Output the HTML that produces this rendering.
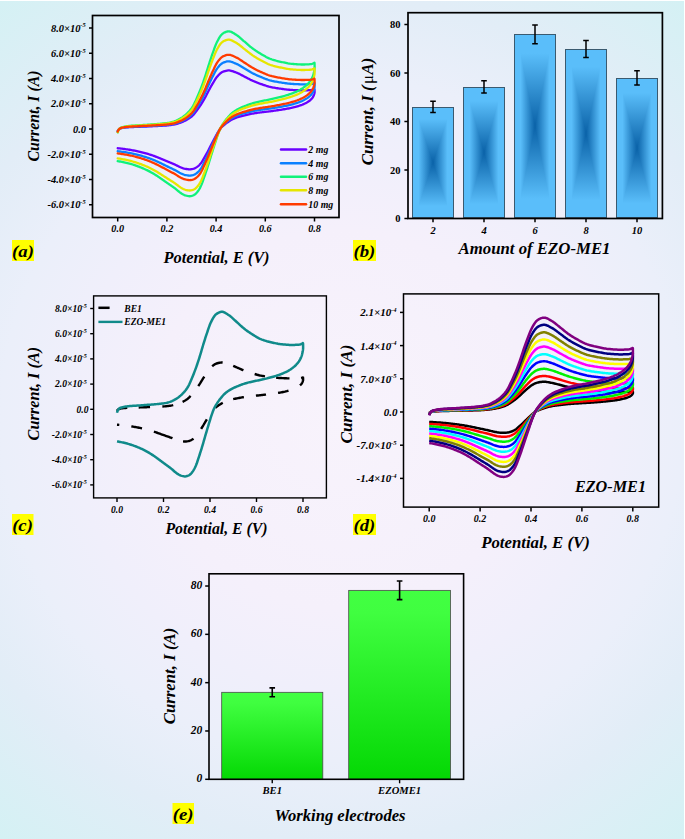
<!DOCTYPE html>
<html><head><meta charset="utf-8"><style>
html,body{margin:0;padding:0;}
.pb{position:absolute;box-sizing:border-box;border:0.9px solid #3a5a70;
background:linear-gradient(to right,#5abefa 0%,#5abefa 14%,#0a62a8 50%,#5abefa 86%,#5abefa 100%),linear-gradient(to bottom,#5abefa 0%,#5abefa 10%,#0a62a8 50%,#5abefa 90%,#5abefa 100%);
background-blend-mode:lighten;}
body{width:685px;height:839px;overflow:hidden;position:relative;
background:radial-gradient(circle farthest-corner at 50% 50%, #f8f3fc 0%, #f5f0fb 35%, #f0effb 50%, #ebeffa 63%, #e2edf7 78%, #d4f1f4 100%);}
#frame{position:absolute;left:0;top:0;width:684px;height:838px;border-top:1px solid #fff;border-right:1px solid #fff;}
svg{position:absolute;left:0;top:0;}
text{font-family:"Liberation Serif",serif;font-weight:bold;fill:#000;}
</style></head><body><div id="frame"></div><div class="pb" style="left:412.30px;top:106.95px;width:41.40px;height:111.55px"></div><div class="pb" style="left:463.30px;top:86.82px;width:41.40px;height:131.68px"></div><div class="pb" style="left:514.30px;top:34.44px;width:41.40px;height:184.06px"></div><div class="pb" style="left:565.30px;top:48.99px;width:41.40px;height:169.51px"></div><div class="pb" style="left:616.30px;top:77.85px;width:41.40px;height:140.65px"></div>
<svg width="685" height="839" viewBox="0 0 685 839">
<defs>
<linearGradient id="gG" x1="0" y1="0" x2="0" y2="1"><stop offset="0" stop-color="#42ff42"/><stop offset="0.12" stop-color="#40fe40"/><stop offset="1" stop-color="#04d804"/></linearGradient>
</defs>
<path d="M117.70,131.05 L118.00,130.39 L118.45,129.78 L118.99,129.24 L119.71,128.73 L120.58,128.32 L121.54,128.07 L122.61,127.88 L123.71,127.73 L124.78,127.59 L125.85,127.46 L126.94,127.35 L128.02,127.25 L129.11,127.18 L130.20,127.12 L131.29,127.06 L132.38,127.02 L133.48,126.98 L134.57,126.94 L135.67,126.90 L136.76,126.86 L137.86,126.81 L138.95,126.77 L140.05,126.73 L141.14,126.69 L142.23,126.65 L143.33,126.61 L144.42,126.57 L145.52,126.52 L146.61,126.48 L147.70,126.43 L148.80,126.39 L149.89,126.34 L150.99,126.29 L152.08,126.25 L153.18,126.20 L154.27,126.15 L155.37,126.11 L156.47,126.06 L157.56,126.01 L158.66,125.95 L159.75,125.90 L160.84,125.84 L161.93,125.77 L163.02,125.71 L164.11,125.63 L165.19,125.56 L166.27,125.48 L167.35,125.39 L168.44,125.28 L169.52,125.16 L170.60,125.02 L171.67,124.87 L172.73,124.70 L173.78,124.52 L174.81,124.33 L175.83,124.09 L176.84,123.83 L177.84,123.53 L178.82,123.23 L179.77,122.91 L180.71,122.58 L181.64,122.23 L182.56,121.86 L183.46,121.47 L184.34,121.07 L185.20,120.66 L186.04,120.23 L186.84,119.80 L187.62,119.35 L188.38,118.88 L189.13,118.39 L189.86,117.89 L190.57,117.37 L191.24,116.84 L191.88,116.31 L192.48,115.77 L193.04,115.22 L193.57,114.65 L194.08,114.07 L194.56,113.48 L195.04,112.88 L195.50,112.28 L195.95,111.67 L196.39,111.07 L196.84,110.47 L197.29,109.87 L197.73,109.27 L198.17,108.66 L198.60,108.06 L199.02,107.45 L199.44,106.84 L199.86,106.23 L200.26,105.62 L200.67,105.01 L201.06,104.40 L201.45,103.79 L201.84,103.17 L202.22,102.55 L202.59,101.94 L202.96,101.32 L203.32,100.70 L203.68,100.08 L204.04,99.45 L204.39,98.83 L204.74,98.21 L205.08,97.58 L205.42,96.96 L205.76,96.33 L206.10,95.71 L206.42,95.08 L206.75,94.45 L207.07,93.82 L207.39,93.20 L207.71,92.57 L208.03,91.94 L208.36,91.31 L208.69,90.69 L209.03,90.06 L209.37,89.44 L209.70,88.81 L210.05,88.19 L210.39,87.56 L210.73,86.94 L211.08,86.31 L211.43,85.69 L211.79,85.07 L212.15,84.45 L212.52,83.83 L212.89,83.21 L213.26,82.59 L213.63,81.97 L213.99,81.34 L214.36,80.72 L214.74,80.09 L215.12,79.47 L215.52,78.86 L215.93,78.25 L216.37,77.65 L216.82,77.06 L217.30,76.48 L217.81,75.90 L218.35,75.30 L218.92,74.69 L219.52,74.09 L220.15,73.51 L220.82,72.96 L221.52,72.47 L222.26,72.04 L223.05,71.69 L223.93,71.36 L224.94,71.05 L226.01,70.77 L227.11,70.55 L228.18,70.43 L229.20,70.44 L230.22,70.57 L231.24,70.79 L232.26,71.09 L233.26,71.43 L234.25,71.80 L235.21,72.17 L236.15,72.51 L237.05,72.86 L237.93,73.24 L238.79,73.64 L239.63,74.06 L240.47,74.50 L241.30,74.94 L242.12,75.38 L242.95,75.83 L243.78,76.26 L244.62,76.69 L245.46,77.11 L246.29,77.54 L247.12,77.98 L247.94,78.41 L248.77,78.84 L249.60,79.27 L250.44,79.70 L251.29,80.11 L252.15,80.51 L253.02,80.91 L253.91,81.29 L254.80,81.67 L255.71,82.04 L256.62,82.40 L257.55,82.76 L258.48,83.11 L259.41,83.46 L260.35,83.80 L261.29,84.13 L262.24,84.46 L263.19,84.80 L264.15,85.13 L265.11,85.46 L266.08,85.77 L267.05,86.08 L268.03,86.37 L269.03,86.65 L270.03,86.90 L271.04,87.13 L272.06,87.34 L273.10,87.54 L274.15,87.73 L275.21,87.91 L276.28,88.08 L277.35,88.25 L278.42,88.40 L279.49,88.55 L280.56,88.70 L281.63,88.84 L282.70,88.99 L283.77,89.13 L284.84,89.27 L285.92,89.40 L287.00,89.53 L288.08,89.64 L289.16,89.75 L290.25,89.84 L291.33,89.91 L292.42,89.97 L293.51,90.03 L294.60,90.09 L295.69,90.14 L296.79,90.19 L297.89,90.24 L298.98,90.28 L300.08,90.31 L301.17,90.33 L302.27,90.34 L303.37,90.34 L304.47,90.33 L305.58,90.31 L306.70,90.28 L307.80,90.25 L308.89,90.21 L309.97,90.16 L311.03,90.10 L312.25,89.90 L313.52,89.54 L314.38,89.26 L314.53,89.32 L314.57,89.85 L314.60,90.66 L314.62,91.51 L314.62,92.22 L314.55,92.88 L314.41,93.53 L314.21,94.19 L313.99,94.84 L313.74,95.48 L313.48,96.11 L313.17,96.73 L312.78,97.35 L312.34,97.97 L311.84,98.56 L311.32,99.14 L310.78,99.69 L310.17,100.23 L309.50,100.76 L308.79,101.28 L308.03,101.77 L307.26,102.25 L306.46,102.70 L305.66,103.12 L304.83,103.53 L303.96,103.93 L303.06,104.32 L302.14,104.70 L301.20,105.06 L300.25,105.40 L299.29,105.73 L298.33,106.04 L297.36,106.33 L296.39,106.61 L295.39,106.88 L294.38,107.14 L293.36,107.39 L292.33,107.63 L291.29,107.86 L290.25,108.08 L289.21,108.29 L288.17,108.50 L287.13,108.70 L286.09,108.89 L285.04,109.07 L283.99,109.25 L282.93,109.43 L281.87,109.60 L280.81,109.77 L279.74,109.93 L278.68,110.09 L277.61,110.25 L276.54,110.40 L275.48,110.56 L274.41,110.71 L273.34,110.86 L272.28,111.01 L271.20,111.14 L270.13,111.28 L269.05,111.41 L267.97,111.54 L266.90,111.66 L265.82,111.78 L264.74,111.91 L263.66,112.03 L262.58,112.16 L261.51,112.29 L260.43,112.42 L259.36,112.55 L258.29,112.70 L257.23,112.84 L256.16,113.00 L255.11,113.16 L254.06,113.33 L253.01,113.52 L251.96,113.71 L250.91,113.92 L249.87,114.13 L248.84,114.35 L247.80,114.57 L246.77,114.80 L245.75,115.03 L244.73,115.27 L243.71,115.51 L242.68,115.76 L241.67,116.01 L240.66,116.28 L239.67,116.56 L238.69,116.85 L237.74,117.16 L236.78,117.48 L235.84,117.83 L234.91,118.19 L234.00,118.57 L233.12,118.96 L232.27,119.36 L231.45,119.78 L230.66,120.23 L229.89,120.70 L229.14,121.19 L228.41,121.69 L227.69,122.19 L226.98,122.69 L226.29,123.20 L225.61,123.72 L224.95,124.24 L224.30,124.77 L223.68,125.31 L223.07,125.86 L222.46,126.41 L221.88,126.97 L221.31,127.53 L220.79,128.11 L220.30,128.69 L219.85,129.29 L219.43,129.90 L219.02,130.51 L218.63,131.13 L218.25,131.74 L217.87,132.36 L217.51,132.98 L217.15,133.60 L216.80,134.22 L216.46,134.85 L216.12,135.47 L215.78,136.10 L215.44,136.72 L215.11,137.35 L214.77,137.97 L214.43,138.60 L214.10,139.23 L213.77,139.85 L213.43,140.48 L213.11,141.11 L212.78,141.73 L212.45,142.36 L212.13,142.99 L211.80,143.62 L211.48,144.24 L211.15,144.87 L210.83,145.50 L210.51,146.13 L210.19,146.76 L209.87,147.39 L209.56,148.02 L209.24,148.64 L208.92,149.27 L208.60,149.90 L208.28,150.53 L207.95,151.16 L207.61,151.78 L207.28,152.41 L206.94,153.03 L206.59,153.66 L206.25,154.28 L205.90,154.90 L205.55,155.53 L205.20,156.15 L204.84,156.77 L204.48,157.39 L204.11,158.01 L203.76,158.63 L203.40,159.26 L203.05,159.88 L202.69,160.51 L202.32,161.13 L201.93,161.74 L201.52,162.35 L201.09,162.95 L200.63,163.54 L200.14,164.13 L199.61,164.72 L199.04,165.29 L198.44,165.84 L197.81,166.37 L197.13,166.88 L196.39,167.40 L195.60,167.90 L194.76,168.32 L193.86,168.63 L192.88,168.88 L191.81,169.10 L190.71,169.26 L189.62,169.30 L188.54,169.25 L187.44,169.14 L186.35,168.99 L185.31,168.83 L184.30,168.61 L183.31,168.32 L182.35,167.97 L181.41,167.62 L180.50,167.26 L179.61,166.88 L178.76,166.47 L177.91,166.05 L177.07,165.62 L176.23,165.19 L175.37,164.78 L174.50,164.39 L173.61,164.00 L172.72,163.62 L171.82,163.24 L170.92,162.87 L170.01,162.50 L169.10,162.13 L168.20,161.76 L167.30,161.38 L166.40,161.01 L165.50,160.63 L164.61,160.25 L163.72,159.86 L162.82,159.48 L161.93,159.10 L161.03,158.72 L160.13,158.34 L159.23,157.97 L158.32,157.61 L157.40,157.25 L156.48,156.90 L155.55,156.55 L154.62,156.20 L153.68,155.86 L152.74,155.52 L151.79,155.19 L150.83,154.86 L149.87,154.55 L148.90,154.24 L147.93,153.95 L146.95,153.66 L145.96,153.38 L144.96,153.11 L143.96,152.84 L142.95,152.57 L141.94,152.32 L140.92,152.07 L139.90,151.83 L138.87,151.59 L137.85,151.36 L136.82,151.14 L135.79,150.92 L134.75,150.71 L133.71,150.50 L132.66,150.30 L131.61,150.11 L130.56,149.93 L129.50,149.75 L128.44,149.59 L127.38,149.44 L126.32,149.28 L125.25,149.13 L124.18,148.99 L123.11,148.85 L122.03,148.72 L120.95,148.60 L119.87,148.48 L118.79,148.37 L117.70,148.27" stroke="#6a00ff" stroke-width="2.3" fill="none" stroke-linejoin="round" stroke-linecap="round"/>
<path d="M117.70,131.37 L118.00,130.60 L118.45,129.91 L118.99,129.28 L119.71,128.68 L120.58,128.22 L121.54,127.93 L122.61,127.71 L123.71,127.53 L124.78,127.37 L125.85,127.23 L126.94,127.09 L128.02,126.98 L129.11,126.90 L130.20,126.82 L131.29,126.76 L132.38,126.71 L133.48,126.66 L134.57,126.62 L135.67,126.57 L136.76,126.52 L137.86,126.47 L138.95,126.42 L140.05,126.38 L141.14,126.33 L142.23,126.28 L143.33,126.24 L144.42,126.19 L145.52,126.14 L146.61,126.09 L147.70,126.04 L148.80,125.98 L149.89,125.93 L150.99,125.87 L152.08,125.82 L153.18,125.77 L154.27,125.71 L155.37,125.66 L156.47,125.60 L157.56,125.54 L158.66,125.48 L159.75,125.41 L160.84,125.34 L161.93,125.27 L163.02,125.19 L164.11,125.11 L165.19,125.02 L166.27,124.93 L167.35,124.83 L168.44,124.71 L169.52,124.57 L170.60,124.41 L171.67,124.23 L172.73,124.04 L173.78,123.83 L174.81,123.60 L175.83,123.33 L176.84,123.02 L177.84,122.69 L178.82,122.33 L179.77,121.96 L180.71,121.58 L181.64,121.18 L182.56,120.75 L183.46,120.31 L184.34,119.84 L185.20,119.36 L186.04,118.87 L186.84,118.37 L187.62,117.85 L188.38,117.31 L189.13,116.74 L189.86,116.16 L190.57,115.57 L191.24,114.96 L191.88,114.34 L192.48,113.72 L193.04,113.08 L193.57,112.42 L194.08,111.75 L194.56,111.07 L195.04,110.38 L195.50,109.68 L195.95,108.98 L196.39,108.28 L196.84,107.59 L197.29,106.90 L197.73,106.20 L198.17,105.51 L198.60,104.81 L199.02,104.11 L199.44,103.41 L199.86,102.70 L200.26,102.00 L200.67,101.29 L201.06,100.58 L201.45,99.87 L201.84,99.16 L202.22,98.45 L202.59,97.74 L202.96,97.02 L203.32,96.31 L203.68,95.59 L204.04,94.87 L204.39,94.15 L204.74,93.43 L205.08,92.71 L205.42,91.99 L205.76,91.27 L206.10,90.54 L206.42,89.82 L206.75,89.09 L207.07,88.37 L207.39,87.64 L207.71,86.91 L208.03,86.19 L208.36,85.46 L208.69,84.74 L209.03,84.02 L209.37,83.30 L209.70,82.57 L210.05,81.85 L210.39,81.13 L210.73,80.41 L211.08,79.69 L211.43,78.97 L211.79,78.25 L212.15,77.54 L212.52,76.82 L212.89,76.11 L213.26,75.39 L213.63,74.67 L213.99,73.95 L214.36,73.23 L214.74,72.51 L215.12,71.79 L215.52,71.08 L215.93,70.37 L216.37,69.68 L216.82,69.00 L217.30,68.33 L217.81,67.66 L218.35,66.97 L218.92,66.26 L219.52,65.57 L220.15,64.90 L220.82,64.27 L221.52,63.70 L222.26,63.20 L223.05,62.79 L223.93,62.42 L224.94,62.05 L226.01,61.73 L227.11,61.48 L228.18,61.35 L229.20,61.35 L230.22,61.50 L231.24,61.76 L232.26,62.10 L233.26,62.50 L234.25,62.93 L235.21,63.35 L236.15,63.75 L237.05,64.15 L237.93,64.59 L238.79,65.05 L239.63,65.54 L240.47,66.04 L241.30,66.55 L242.12,67.06 L242.95,67.58 L243.78,68.08 L244.62,68.57 L245.46,69.06 L246.29,69.56 L247.12,70.06 L247.94,70.56 L248.77,71.06 L249.60,71.56 L250.44,72.05 L251.29,72.52 L252.15,72.99 L253.02,73.44 L253.91,73.89 L254.80,74.32 L255.71,74.75 L256.62,75.17 L257.55,75.59 L258.48,75.99 L259.41,76.39 L260.35,76.78 L261.29,77.17 L262.24,77.55 L263.19,77.94 L264.15,78.32 L265.11,78.70 L266.08,79.07 L267.05,79.42 L268.03,79.76 L269.03,80.08 L270.03,80.37 L271.04,80.63 L272.06,80.88 L273.10,81.11 L274.15,81.33 L275.21,81.53 L276.28,81.73 L277.35,81.92 L278.42,82.10 L279.49,82.28 L280.56,82.44 L281.63,82.61 L282.70,82.78 L283.77,82.94 L284.84,83.10 L285.92,83.26 L287.00,83.40 L288.08,83.54 L289.16,83.66 L290.25,83.76 L291.33,83.84 L292.42,83.92 L293.51,83.98 L294.60,84.05 L295.69,84.11 L296.79,84.17 L297.89,84.22 L298.98,84.27 L300.08,84.30 L301.17,84.33 L302.27,84.34 L303.37,84.34 L304.47,84.33 L305.58,84.31 L306.70,84.28 L307.80,84.24 L308.89,84.19 L309.97,84.13 L311.03,84.07 L312.25,83.83 L313.52,83.42 L314.38,83.09 L314.53,83.16 L314.57,83.77 L314.60,84.71 L314.62,85.70 L314.62,86.51 L314.55,87.27 L314.41,88.03 L314.21,88.78 L313.99,89.53 L313.74,90.27 L313.48,91.00 L313.17,91.72 L312.78,92.44 L312.34,93.15 L311.84,93.84 L311.32,94.51 L310.78,95.14 L310.17,95.77 L309.50,96.38 L308.79,96.97 L308.03,97.55 L307.26,98.09 L306.46,98.61 L305.66,99.11 L304.83,99.58 L303.96,100.05 L303.06,100.49 L302.14,100.93 L301.20,101.34 L300.25,101.74 L299.29,102.12 L298.33,102.48 L297.36,102.82 L296.39,103.14 L295.39,103.45 L294.38,103.75 L293.36,104.04 L292.33,104.31 L291.29,104.58 L290.25,104.83 L289.21,105.08 L288.17,105.32 L287.13,105.55 L286.09,105.77 L285.04,105.98 L283.99,106.19 L282.93,106.39 L281.87,106.59 L280.81,106.78 L279.74,106.97 L278.68,107.16 L277.61,107.34 L276.54,107.52 L275.48,107.70 L274.41,107.87 L273.34,108.05 L272.28,108.21 L271.20,108.37 L270.13,108.53 L269.05,108.68 L267.97,108.83 L266.90,108.97 L265.82,109.11 L264.74,109.26 L263.66,109.40 L262.58,109.54 L261.51,109.69 L260.43,109.84 L259.36,110.00 L258.29,110.17 L257.23,110.34 L256.16,110.51 L255.11,110.70 L254.06,110.90 L253.01,111.12 L251.96,111.34 L250.91,111.58 L249.87,111.82 L248.84,112.07 L247.80,112.33 L246.77,112.60 L245.75,112.86 L244.73,113.14 L243.71,113.41 L242.68,113.70 L241.67,114.00 L240.66,114.30 L239.67,114.63 L238.69,114.96 L237.74,115.32 L236.78,115.70 L235.84,116.09 L234.91,116.51 L234.00,116.95 L233.12,117.40 L232.27,117.87 L231.45,118.35 L230.66,118.87 L229.89,119.42 L229.14,119.98 L228.41,120.55 L227.69,121.13 L226.98,121.71 L226.29,122.30 L225.61,122.89 L224.95,123.50 L224.30,124.12 L223.68,124.74 L223.07,125.37 L222.46,126.01 L221.88,126.65 L221.31,127.31 L220.79,127.97 L220.30,128.65 L219.85,129.33 L219.43,130.04 L219.02,130.74 L218.63,131.46 L218.25,132.17 L217.87,132.88 L217.51,133.59 L217.15,134.31 L216.80,135.03 L216.46,135.75 L216.12,136.48 L215.78,137.20 L215.44,137.92 L215.11,138.64 L214.77,139.37 L214.43,140.09 L214.10,140.81 L213.77,141.54 L213.43,142.26 L213.11,142.98 L212.78,143.71 L212.45,144.43 L212.13,145.16 L211.80,145.88 L211.48,146.61 L211.15,147.33 L210.83,148.06 L210.51,148.79 L210.19,149.51 L209.87,150.24 L209.56,150.97 L209.24,151.69 L208.92,152.42 L208.60,153.14 L208.28,153.87 L207.95,154.59 L207.61,155.32 L207.28,156.04 L206.94,156.76 L206.59,157.48 L206.25,158.20 L205.90,158.92 L205.55,159.64 L205.20,160.36 L204.84,161.08 L204.48,161.80 L204.11,162.51 L203.76,163.23 L203.40,163.95 L203.05,164.68 L202.69,165.40 L202.32,166.12 L201.93,166.83 L201.52,167.53 L201.09,168.22 L200.63,168.90 L200.14,169.58 L199.61,170.26 L199.04,170.92 L198.44,171.56 L197.81,172.17 L197.13,172.76 L196.39,173.36 L195.60,173.93 L194.76,174.42 L193.86,174.78 L192.88,175.07 L191.81,175.32 L190.71,175.50 L189.62,175.56 L188.54,175.50 L187.44,175.37 L186.35,175.20 L185.31,175.01 L184.30,174.76 L183.31,174.42 L182.35,174.02 L181.41,173.61 L180.50,173.20 L179.61,172.76 L178.76,172.29 L177.91,171.80 L177.07,171.30 L176.23,170.81 L175.37,170.33 L174.50,169.88 L173.61,169.43 L172.72,168.99 L171.82,168.56 L170.92,168.13 L170.01,167.70 L169.10,167.27 L168.20,166.84 L167.30,166.41 L166.40,165.97 L165.50,165.54 L164.61,165.10 L163.72,164.65 L162.82,164.21 L161.93,163.77 L161.03,163.33 L160.13,162.90 L159.23,162.47 L158.32,162.05 L157.40,161.63 L156.48,161.23 L155.55,160.82 L154.62,160.42 L153.68,160.03 L152.74,159.64 L151.79,159.25 L150.83,158.88 L149.87,158.51 L148.90,158.16 L147.93,157.82 L146.95,157.49 L145.96,157.16 L144.96,156.85 L143.96,156.54 L142.95,156.23 L141.94,155.94 L140.92,155.65 L139.90,155.37 L138.87,155.10 L137.85,154.83 L136.82,154.58 L135.79,154.32 L134.75,154.08 L133.71,153.84 L132.66,153.61 L131.61,153.38 L130.56,153.17 L129.50,152.97 L128.44,152.79 L127.38,152.61 L126.32,152.43 L125.25,152.26 L124.18,152.09 L123.11,151.94 L122.03,151.78 L120.95,151.64 L119.87,151.51 L118.79,151.38 L117.70,151.26" stroke="#0a80ff" stroke-width="2.3" fill="none" stroke-linejoin="round" stroke-linecap="round"/>
<path d="M117.70,132.42 L118.00,131.31 L118.45,130.31 L118.99,129.40 L119.71,128.54 L120.58,127.87 L121.54,127.45 L122.61,127.14 L123.71,126.88 L124.78,126.65 L125.85,126.44 L126.94,126.25 L128.02,126.09 L129.11,125.96 L130.20,125.86 L131.29,125.77 L132.38,125.69 L133.48,125.62 L134.57,125.56 L135.67,125.49 L136.76,125.42 L137.86,125.35 L138.95,125.28 L140.05,125.21 L141.14,125.14 L142.23,125.08 L143.33,125.01 L144.42,124.94 L145.52,124.87 L146.61,124.80 L147.70,124.72 L148.80,124.64 L149.89,124.56 L150.99,124.48 L152.08,124.41 L153.18,124.33 L154.27,124.25 L155.37,124.17 L156.47,124.09 L157.56,124.00 L158.66,123.92 L159.75,123.82 L160.84,123.72 L161.93,123.62 L163.02,123.50 L164.11,123.39 L165.19,123.26 L166.27,123.12 L167.35,122.98 L168.44,122.80 L169.52,122.60 L170.60,122.37 L171.67,122.11 L172.73,121.83 L173.78,121.53 L174.81,121.20 L175.83,120.81 L176.84,120.37 L177.84,119.88 L178.82,119.37 L179.77,118.83 L180.71,118.29 L181.64,117.70 L182.56,117.09 L183.46,116.44 L184.34,115.78 L185.20,115.08 L186.04,114.37 L186.84,113.65 L187.62,112.90 L188.38,112.11 L189.13,111.30 L189.86,110.46 L190.57,109.60 L191.24,108.72 L191.88,107.83 L192.48,106.93 L193.04,106.01 L193.57,105.06 L194.08,104.10 L194.56,103.11 L195.04,102.11 L195.50,101.11 L195.95,100.10 L196.39,99.09 L196.84,98.08 L197.29,97.08 L197.73,96.08 L198.17,95.07 L198.60,94.07 L199.02,93.05 L199.44,92.04 L199.86,91.02 L200.26,90.01 L200.67,88.99 L201.06,87.96 L201.45,86.94 L201.84,85.91 L202.22,84.89 L202.59,83.86 L202.96,82.82 L203.32,81.79 L203.68,80.75 L204.04,79.71 L204.39,78.68 L204.74,77.63 L205.08,76.59 L205.42,75.55 L205.76,74.51 L206.10,73.47 L206.42,72.42 L206.75,71.37 L207.07,70.32 L207.39,69.28 L207.71,68.23 L208.03,67.18 L208.36,66.13 L208.69,65.09 L209.03,64.04 L209.37,63.00 L209.70,61.96 L210.05,60.92 L210.39,59.87 L210.73,58.83 L211.08,57.79 L211.43,56.76 L211.79,55.72 L212.15,54.68 L212.52,53.65 L212.89,52.62 L213.26,51.59 L213.63,50.55 L213.99,49.50 L214.36,48.46 L214.74,47.42 L215.12,46.38 L215.52,45.36 L215.93,44.34 L216.37,43.34 L216.82,42.36 L217.30,41.40 L217.81,40.43 L218.35,39.42 L218.92,38.40 L219.52,37.40 L220.15,36.43 L220.82,35.52 L221.52,34.70 L222.26,33.98 L223.05,33.39 L223.93,32.85 L224.94,32.33 L226.01,31.86 L227.11,31.50 L228.18,31.31 L229.20,31.32 L230.22,31.53 L231.24,31.90 L232.26,32.40 L233.26,32.97 L234.25,33.59 L235.21,34.20 L236.15,34.77 L237.05,35.36 L237.93,35.99 L238.79,36.66 L239.63,37.36 L240.47,38.08 L241.30,38.82 L242.12,39.56 L242.95,40.30 L243.78,41.03 L244.62,41.73 L245.46,42.44 L246.29,43.16 L247.12,43.89 L247.94,44.61 L248.77,45.33 L249.60,46.05 L250.44,46.76 L251.29,47.45 L252.15,48.12 L253.02,48.77 L253.91,49.41 L254.80,50.04 L255.71,50.66 L256.62,51.27 L257.55,51.87 L258.48,52.46 L259.41,53.03 L260.35,53.60 L261.29,54.15 L262.24,54.71 L263.19,55.26 L264.15,55.82 L265.11,56.36 L266.08,56.90 L267.05,57.41 L268.03,57.90 L269.03,58.35 L270.03,58.77 L271.04,59.15 L272.06,59.51 L273.10,59.84 L274.15,60.16 L275.21,60.46 L276.28,60.74 L277.35,61.02 L278.42,61.28 L279.49,61.53 L280.56,61.77 L281.63,62.01 L282.70,62.25 L283.77,62.49 L284.84,62.72 L285.92,62.94 L287.00,63.15 L288.08,63.35 L289.16,63.52 L290.25,63.67 L291.33,63.79 L292.42,63.90 L293.51,64.00 L294.60,64.09 L295.69,64.18 L296.79,64.27 L297.89,64.34 L298.98,64.40 L300.08,64.45 L301.17,64.49 L302.27,64.50 L303.37,64.50 L304.47,64.49 L305.58,64.46 L306.70,64.42 L307.80,64.36 L308.89,64.29 L309.97,64.21 L311.03,64.12 L312.25,63.77 L313.52,63.18 L314.38,62.71 L314.53,62.80 L314.57,63.69 L314.60,65.04 L314.62,66.47 L314.62,67.65 L314.55,68.74 L314.41,69.84 L314.21,70.93 L313.99,72.01 L313.74,73.08 L313.48,74.13 L313.17,75.17 L312.78,76.21 L312.34,77.23 L311.84,78.23 L311.32,79.19 L310.78,80.11 L310.17,81.01 L309.50,81.89 L308.79,82.75 L308.03,83.58 L307.26,84.37 L306.46,85.12 L305.66,85.83 L304.83,86.52 L303.96,87.19 L303.06,87.84 L302.14,88.46 L301.20,89.06 L300.25,89.64 L299.29,90.18 L298.33,90.70 L297.36,91.19 L296.39,91.66 L295.39,92.11 L294.38,92.54 L293.36,92.95 L292.33,93.35 L291.29,93.73 L290.25,94.10 L289.21,94.46 L288.17,94.80 L287.13,95.13 L286.09,95.45 L285.04,95.76 L283.99,96.06 L282.93,96.36 L281.87,96.64 L280.81,96.92 L279.74,97.19 L278.68,97.46 L277.61,97.72 L276.54,97.98 L275.48,98.24 L274.41,98.49 L273.34,98.74 L272.28,98.98 L271.20,99.22 L270.13,99.44 L269.05,99.66 L267.97,99.87 L266.90,100.08 L265.82,100.28 L264.74,100.49 L263.66,100.69 L262.58,100.90 L261.51,101.12 L260.43,101.34 L259.36,101.57 L258.29,101.80 L257.23,102.05 L256.16,102.31 L255.11,102.58 L254.06,102.87 L253.01,103.18 L251.96,103.50 L250.91,103.84 L249.87,104.19 L248.84,104.56 L247.80,104.93 L246.77,105.31 L245.75,105.70 L244.73,106.09 L243.71,106.49 L242.68,106.91 L241.67,107.33 L240.66,107.78 L239.67,108.24 L238.69,108.73 L237.74,109.24 L236.78,109.79 L235.84,110.36 L234.91,110.97 L234.00,111.59 L233.12,112.25 L232.27,112.92 L231.45,113.63 L230.66,114.38 L229.89,115.16 L229.14,115.97 L228.41,116.80 L227.69,117.64 L226.98,118.47 L226.29,119.32 L225.61,120.18 L224.95,121.06 L224.30,121.95 L223.68,122.85 L223.07,123.76 L222.46,124.68 L221.88,125.61 L221.31,126.55 L220.79,127.51 L220.30,128.49 L219.85,129.48 L219.43,130.50 L219.02,131.52 L218.63,132.55 L218.25,133.57 L217.87,134.60 L217.51,135.63 L217.15,136.67 L216.80,137.71 L216.46,138.75 L216.12,139.80 L215.78,140.84 L215.44,141.88 L215.11,142.93 L214.77,143.97 L214.43,145.01 L214.10,146.06 L213.77,147.10 L213.43,148.15 L213.11,149.19 L212.78,150.24 L212.45,151.29 L212.13,152.33 L211.80,153.38 L211.48,154.43 L211.15,155.47 L210.83,156.52 L210.51,157.57 L210.19,158.62 L209.87,159.67 L209.56,160.72 L209.24,161.77 L208.92,162.82 L208.60,163.87 L208.28,164.91 L207.95,165.96 L207.61,167.00 L207.28,168.05 L206.94,169.09 L206.59,170.13 L206.25,171.17 L205.90,172.21 L205.55,173.25 L205.20,174.29 L204.84,175.32 L204.48,176.36 L204.11,177.39 L203.76,178.43 L203.40,179.48 L203.05,180.52 L202.69,181.56 L202.32,182.60 L201.93,183.62 L201.52,184.64 L201.09,185.63 L200.63,186.62 L200.14,187.60 L199.61,188.58 L199.04,189.53 L198.44,190.46 L197.81,191.33 L197.13,192.19 L196.39,193.06 L195.60,193.88 L194.76,194.59 L193.86,195.10 L192.88,195.52 L191.81,195.89 L190.71,196.15 L189.62,196.23 L188.54,196.14 L187.44,195.96 L186.35,195.71 L185.31,195.44 L184.30,195.07 L183.31,194.58 L182.35,194.01 L181.41,193.42 L180.50,192.82 L179.61,192.19 L178.76,191.51 L177.91,190.80 L177.07,190.08 L176.23,189.37 L175.37,188.68 L174.50,188.03 L173.61,187.38 L172.72,186.75 L171.82,186.12 L170.92,185.50 L170.01,184.88 L169.10,184.26 L168.20,183.64 L167.30,183.02 L166.40,182.39 L165.50,181.76 L164.61,181.12 L163.72,180.48 L162.82,179.84 L161.93,179.21 L161.03,178.57 L160.13,177.95 L159.23,177.33 L158.32,176.72 L157.40,176.12 L156.48,175.54 L155.55,174.96 L154.62,174.38 L153.68,173.80 L152.74,173.24 L151.79,172.69 L150.83,172.14 L149.87,171.62 L148.90,171.11 L147.93,170.61 L146.95,170.14 L145.96,169.67 L144.96,169.21 L143.96,168.76 L142.95,168.33 L141.94,167.90 L140.92,167.48 L139.90,167.08 L138.87,166.68 L137.85,166.30 L136.82,165.93 L135.79,165.57 L134.75,165.21 L133.71,164.87 L132.66,164.53 L131.61,164.21 L130.56,163.91 L129.50,163.62 L128.44,163.35 L127.38,163.09 L126.32,162.83 L125.25,162.59 L124.18,162.35 L123.11,162.12 L122.03,161.90 L120.95,161.69 L119.87,161.50 L118.79,161.32 L117.70,161.15" stroke="#10f27a" stroke-width="2.3" fill="none" stroke-linejoin="round" stroke-linecap="round"/>
<path d="M117.70,132.13 L118.00,131.12 L118.45,130.20 L118.99,129.37 L119.71,128.58 L120.58,127.96 L121.54,127.59 L122.61,127.30 L123.71,127.06 L124.78,126.85 L125.85,126.66 L126.94,126.48 L128.02,126.34 L129.11,126.22 L130.20,126.13 L131.29,126.05 L132.38,125.98 L133.48,125.91 L134.57,125.85 L135.67,125.79 L136.76,125.73 L137.86,125.66 L138.95,125.60 L140.05,125.54 L141.14,125.47 L142.23,125.41 L143.33,125.35 L144.42,125.29 L145.52,125.22 L146.61,125.15 L147.70,125.08 L148.80,125.01 L149.89,124.94 L150.99,124.87 L152.08,124.80 L153.18,124.73 L154.27,124.66 L155.37,124.58 L156.47,124.51 L157.56,124.43 L158.66,124.35 L159.75,124.26 L160.84,124.17 L161.93,124.08 L163.02,123.97 L164.11,123.86 L165.19,123.75 L166.27,123.62 L167.35,123.49 L168.44,123.33 L169.52,123.14 L170.60,122.93 L171.67,122.70 L172.73,122.44 L173.78,122.17 L174.81,121.87 L175.83,121.51 L176.84,121.11 L177.84,120.66 L178.82,120.19 L179.77,119.70 L180.71,119.20 L181.64,118.67 L182.56,118.10 L183.46,117.52 L184.34,116.90 L185.20,116.27 L186.04,115.62 L186.84,114.96 L187.62,114.27 L188.38,113.55 L189.13,112.81 L189.86,112.04 L190.57,111.25 L191.24,110.45 L191.88,109.64 L192.48,108.81 L193.04,107.97 L193.57,107.11 L194.08,106.22 L194.56,105.32 L195.04,104.41 L195.50,103.48 L195.95,102.56 L196.39,101.64 L196.84,100.72 L197.29,99.80 L197.73,98.89 L198.17,97.97 L198.60,97.04 L199.02,96.12 L199.44,95.19 L199.86,94.26 L200.26,93.33 L200.67,92.40 L201.06,91.46 L201.45,90.53 L201.84,89.59 L202.22,88.65 L202.59,87.71 L202.96,86.76 L203.32,85.81 L203.68,84.87 L204.04,83.92 L204.39,82.97 L204.74,82.01 L205.08,81.06 L205.42,80.11 L205.76,79.16 L206.10,78.20 L206.42,77.25 L206.75,76.29 L207.07,75.33 L207.39,74.37 L207.71,73.41 L208.03,72.45 L208.36,71.49 L208.69,70.54 L209.03,69.58 L209.37,68.63 L209.70,67.68 L210.05,66.72 L210.39,65.77 L210.73,64.82 L211.08,63.87 L211.43,62.92 L211.79,61.97 L212.15,61.02 L212.52,60.08 L212.89,59.13 L213.26,58.19 L213.63,57.24 L213.99,56.28 L214.36,55.33 L214.74,54.38 L215.12,53.43 L215.52,52.49 L215.93,51.56 L216.37,50.65 L216.82,49.75 L217.30,48.87 L217.81,47.98 L218.35,47.06 L218.92,46.13 L219.52,45.21 L220.15,44.33 L220.82,43.50 L221.52,42.74 L222.26,42.08 L223.05,41.55 L223.93,41.05 L224.94,40.57 L226.01,40.14 L227.11,39.82 L228.18,39.64 L229.20,39.65 L230.22,39.84 L231.24,40.18 L232.26,40.63 L233.26,41.16 L234.25,41.72 L235.21,42.28 L236.15,42.81 L237.05,43.34 L237.93,43.92 L238.79,44.53 L239.63,45.17 L240.47,45.84 L241.30,46.51 L242.12,47.19 L242.95,47.87 L243.78,48.53 L244.62,49.18 L245.46,49.82 L246.29,50.48 L247.12,51.14 L247.94,51.81 L248.77,52.47 L249.60,53.12 L250.44,53.77 L251.29,54.40 L252.15,55.02 L253.02,55.62 L253.91,56.20 L254.80,56.78 L255.71,57.34 L256.62,57.90 L257.55,58.45 L258.48,58.99 L259.41,59.51 L260.35,60.03 L261.29,60.53 L262.24,61.04 L263.19,61.55 L264.15,62.06 L265.11,62.56 L266.08,63.04 L267.05,63.51 L268.03,63.96 L269.03,64.38 L270.03,64.76 L271.04,65.11 L272.06,65.43 L273.10,65.74 L274.15,66.03 L275.21,66.30 L276.28,66.56 L277.35,66.81 L278.42,67.05 L279.49,67.28 L280.56,67.50 L281.63,67.72 L282.70,67.94 L283.77,68.16 L284.84,68.37 L285.92,68.58 L287.00,68.77 L288.08,68.95 L289.16,69.10 L290.25,69.24 L291.33,69.35 L292.42,69.45 L293.51,69.54 L294.60,69.63 L295.69,69.71 L296.79,69.79 L297.89,69.85 L298.98,69.91 L300.08,69.96 L301.17,69.99 L302.27,70.00 L303.37,70.00 L304.47,69.99 L305.58,69.96 L306.70,69.93 L307.80,69.87 L308.89,69.81 L309.97,69.74 L311.03,69.65 L312.25,69.34 L313.52,68.79 L314.38,68.36 L314.53,68.45 L314.57,69.26 L314.60,70.49 L314.62,71.80 L314.62,72.88 L314.55,73.88 L314.41,74.88 L314.21,75.88 L313.99,76.87 L313.74,77.85 L313.48,78.81 L313.17,79.76 L312.78,80.71 L312.34,81.65 L311.84,82.56 L311.32,83.44 L310.78,84.28 L310.17,85.10 L309.50,85.91 L308.79,86.70 L308.03,87.45 L307.26,88.18 L306.46,88.86 L305.66,89.51 L304.83,90.14 L303.96,90.75 L303.06,91.35 L302.14,91.92 L301.20,92.47 L300.25,92.99 L299.29,93.49 L298.33,93.97 L297.36,94.41 L296.39,94.84 L295.39,95.25 L294.38,95.65 L293.36,96.03 L292.33,96.39 L291.29,96.74 L290.25,97.08 L289.21,97.40 L288.17,97.72 L287.13,98.02 L286.09,98.31 L285.04,98.60 L283.99,98.87 L282.93,99.14 L281.87,99.40 L280.81,99.65 L279.74,99.90 L278.68,100.15 L277.61,100.39 L276.54,100.63 L275.48,100.86 L274.41,101.09 L273.34,101.32 L272.28,101.54 L271.20,101.76 L270.13,101.96 L269.05,102.16 L267.97,102.35 L266.90,102.54 L265.82,102.73 L264.74,102.92 L263.66,103.11 L262.58,103.30 L261.51,103.50 L260.43,103.70 L259.36,103.90 L258.29,104.12 L257.23,104.35 L256.16,104.58 L255.11,104.83 L254.06,105.10 L253.01,105.38 L251.96,105.67 L250.91,105.98 L249.87,106.31 L248.84,106.64 L247.80,106.98 L246.77,107.33 L245.75,107.69 L244.73,108.05 L243.71,108.41 L242.68,108.79 L241.67,109.18 L240.66,109.59 L239.67,110.01 L238.69,110.46 L237.74,110.93 L236.78,111.43 L235.84,111.95 L234.91,112.50 L234.00,113.08 L233.12,113.68 L232.27,114.29 L231.45,114.94 L230.66,115.62 L229.89,116.34 L229.14,117.08 L228.41,117.84 L227.69,118.61 L226.98,119.37 L226.29,120.15 L225.61,120.94 L224.95,121.74 L224.30,122.55 L223.68,123.37 L223.07,124.20 L222.46,125.04 L221.88,125.90 L221.31,126.76 L220.79,127.64 L220.30,128.53 L219.85,129.44 L219.43,130.37 L219.02,131.30 L218.63,132.24 L218.25,133.18 L217.87,134.12 L217.51,135.07 L217.15,136.02 L216.80,136.97 L216.46,137.92 L216.12,138.87 L215.78,139.83 L215.44,140.78 L215.11,141.74 L214.77,142.69 L214.43,143.65 L214.10,144.60 L213.77,145.56 L213.43,146.51 L213.11,147.47 L212.78,148.43 L212.45,149.39 L212.13,150.34 L211.80,151.30 L211.48,152.26 L211.15,153.22 L210.83,154.18 L210.51,155.13 L210.19,156.09 L209.87,157.05 L209.56,158.01 L209.24,158.97 L208.92,159.93 L208.60,160.89 L208.28,161.85 L207.95,162.81 L207.61,163.76 L207.28,164.72 L206.94,165.67 L206.59,166.62 L206.25,167.57 L205.90,168.53 L205.55,169.48 L205.20,170.42 L204.84,171.37 L204.48,172.32 L204.11,173.27 L203.76,174.22 L203.40,175.17 L203.05,176.13 L202.69,177.08 L202.32,178.03 L201.93,178.96 L201.52,179.89 L201.09,180.81 L200.63,181.70 L200.14,182.60 L199.61,183.50 L199.04,184.37 L198.44,185.22 L197.81,186.02 L197.13,186.80 L196.39,187.60 L195.60,188.35 L194.76,189.00 L193.86,189.47 L192.88,189.85 L191.81,190.19 L190.71,190.42 L189.62,190.50 L188.54,190.42 L187.44,190.25 L186.35,190.02 L185.31,189.77 L184.30,189.44 L183.31,188.99 L182.35,188.47 L181.41,187.92 L180.50,187.38 L179.61,186.80 L178.76,186.18 L177.91,185.53 L177.07,184.87 L176.23,184.22 L175.37,183.59 L174.50,182.99 L173.61,182.41 L172.72,181.83 L171.82,181.25 L170.92,180.68 L170.01,180.12 L169.10,179.55 L168.20,178.98 L167.30,178.41 L166.40,177.84 L165.50,177.26 L164.61,176.68 L163.72,176.09 L162.82,175.51 L161.93,174.93 L161.03,174.35 L160.13,173.77 L159.23,173.21 L158.32,172.65 L157.40,172.10 L156.48,171.57 L155.55,171.04 L154.62,170.51 L153.68,169.98 L152.74,169.47 L151.79,168.96 L150.83,168.46 L149.87,167.98 L148.90,167.52 L147.93,167.07 L146.95,166.63 L145.96,166.20 L144.96,165.78 L143.96,165.37 L142.95,164.97 L141.94,164.58 L140.92,164.20 L139.90,163.83 L138.87,163.47 L137.85,163.12 L136.82,162.78 L135.79,162.45 L134.75,162.12 L133.71,161.81 L132.66,161.50 L131.61,161.21 L130.56,160.93 L129.50,160.67 L128.44,160.42 L127.38,160.18 L126.32,159.95 L125.25,159.72 L124.18,159.50 L123.11,159.30 L122.03,159.10 L120.95,158.91 L119.87,158.73 L118.79,158.56 L117.70,158.41" stroke="#e6e600" stroke-width="2.3" fill="none" stroke-linejoin="round" stroke-linecap="round"/>
<path d="M117.70,131.60 L118.00,130.76 L118.45,129.99 L118.99,129.31 L119.71,128.65 L120.58,128.14 L121.54,127.83 L122.61,127.59 L123.71,127.39 L124.78,127.21 L125.85,127.05 L126.94,126.91 L128.02,126.79 L129.11,126.69 L130.20,126.61 L131.29,126.55 L132.38,126.49 L133.48,126.43 L134.57,126.38 L135.67,126.34 L136.76,126.28 L137.86,126.23 L138.95,126.18 L140.05,126.12 L141.14,126.07 L142.23,126.02 L143.33,125.97 L144.42,125.92 L145.52,125.86 L146.61,125.81 L147.70,125.75 L148.80,125.69 L149.89,125.63 L150.99,125.57 L152.08,125.51 L153.18,125.45 L154.27,125.39 L155.37,125.33 L156.47,125.27 L157.56,125.20 L158.66,125.14 L159.75,125.07 L160.84,124.99 L161.93,124.91 L163.02,124.83 L164.11,124.73 L165.19,124.64 L166.27,124.53 L167.35,124.42 L168.44,124.29 L169.52,124.14 L170.60,123.96 L171.67,123.77 L172.73,123.55 L173.78,123.33 L174.81,123.08 L175.83,122.78 L176.84,122.44 L177.84,122.07 L178.82,121.68 L179.77,121.28 L180.71,120.86 L181.64,120.42 L182.56,119.95 L183.46,119.46 L184.34,118.95 L185.20,118.43 L186.04,117.89 L186.84,117.34 L187.62,116.77 L188.38,116.17 L189.13,115.55 L189.86,114.92 L190.57,114.26 L191.24,113.59 L191.88,112.92 L192.48,112.23 L193.04,111.54 L193.57,110.82 L194.08,110.08 L194.56,109.33 L195.04,108.57 L195.50,107.81 L195.95,107.04 L196.39,106.27 L196.84,105.51 L197.29,104.75 L197.73,103.99 L198.17,103.23 L198.60,102.46 L199.02,101.69 L199.44,100.92 L199.86,100.15 L200.26,99.38 L200.67,98.60 L201.06,97.82 L201.45,97.05 L201.84,96.27 L202.22,95.49 L202.59,94.70 L202.96,93.92 L203.32,93.13 L203.68,92.35 L204.04,91.56 L204.39,90.77 L204.74,89.98 L205.08,89.19 L205.42,88.40 L205.76,87.61 L206.10,86.81 L206.42,86.02 L206.75,85.22 L207.07,84.42 L207.39,83.63 L207.71,82.83 L208.03,82.03 L208.36,81.24 L208.69,80.45 L209.03,79.65 L209.37,78.86 L209.70,78.07 L210.05,77.28 L210.39,76.49 L210.73,75.70 L211.08,74.91 L211.43,74.12 L211.79,73.33 L212.15,72.54 L212.52,71.76 L212.89,70.98 L213.26,70.19 L213.63,69.40 L213.99,68.61 L214.36,67.82 L214.74,67.02 L215.12,66.24 L215.52,65.46 L215.93,64.69 L216.37,63.93 L216.82,63.18 L217.30,62.45 L217.81,61.71 L218.35,60.95 L218.92,60.17 L219.52,59.41 L220.15,58.68 L220.82,57.99 L221.52,57.36 L222.26,56.82 L223.05,56.37 L223.93,55.96 L224.94,55.56 L226.01,55.20 L227.11,54.93 L228.18,54.78 L229.20,54.79 L230.22,54.95 L231.24,55.24 L232.26,55.61 L233.26,56.05 L234.25,56.52 L235.21,56.98 L236.15,57.42 L237.05,57.86 L237.93,58.34 L238.79,58.85 L239.63,59.38 L240.47,59.93 L241.30,60.49 L242.12,61.06 L242.95,61.62 L243.78,62.17 L244.62,62.71 L245.46,63.24 L246.29,63.79 L247.12,64.34 L247.94,64.89 L248.77,65.44 L249.60,65.98 L250.44,66.52 L251.29,67.05 L252.15,67.56 L253.02,68.05 L253.91,68.54 L254.80,69.02 L255.71,69.49 L256.62,69.95 L257.55,70.41 L258.48,70.85 L259.41,71.29 L260.35,71.72 L261.29,72.14 L262.24,72.56 L263.19,72.98 L264.15,73.40 L265.11,73.82 L266.08,74.22 L267.05,74.61 L268.03,74.98 L269.03,75.33 L270.03,75.65 L271.04,75.94 L272.06,76.21 L273.10,76.46 L274.15,76.70 L275.21,76.93 L276.28,77.15 L277.35,77.35 L278.42,77.55 L279.49,77.74 L280.56,77.93 L281.63,78.11 L282.70,78.29 L283.77,78.47 L284.84,78.65 L285.92,78.82 L287.00,78.98 L288.08,79.12 L289.16,79.26 L290.25,79.37 L291.33,79.46 L292.42,79.54 L293.51,79.62 L294.60,79.69 L295.69,79.76 L296.79,79.82 L297.89,79.88 L298.98,79.93 L300.08,79.96 L301.17,79.99 L302.27,80.00 L303.37,80.00 L304.47,79.99 L305.58,79.97 L306.70,79.94 L307.80,79.90 L308.89,79.84 L309.97,79.78 L311.03,79.71 L312.25,79.45 L313.52,78.99 L314.38,78.64 L314.53,78.71 L314.57,79.38 L314.60,80.41 L314.62,81.49 L314.62,82.39 L314.55,83.22 L314.41,84.05 L314.21,84.88 L313.99,85.71 L313.74,86.52 L313.48,87.32 L313.17,88.11 L312.78,88.90 L312.34,89.67 L311.84,90.43 L311.32,91.16 L310.78,91.86 L310.17,92.54 L309.50,93.21 L308.79,93.87 L308.03,94.49 L307.26,95.10 L306.46,95.67 L305.66,96.21 L304.83,96.73 L303.96,97.24 L303.06,97.73 L302.14,98.20 L301.20,98.66 L300.25,99.09 L299.29,99.51 L298.33,99.90 L297.36,100.28 L296.39,100.63 L295.39,100.97 L294.38,101.30 L293.36,101.62 L292.33,101.92 L291.29,102.21 L290.25,102.49 L289.21,102.76 L288.17,103.02 L287.13,103.27 L286.09,103.51 L285.04,103.75 L283.99,103.98 L282.93,104.20 L281.87,104.42 L280.81,104.63 L279.74,104.84 L278.68,105.04 L277.61,105.24 L276.54,105.43 L275.48,105.63 L274.41,105.82 L273.34,106.01 L272.28,106.20 L271.20,106.37 L270.13,106.54 L269.05,106.71 L267.97,106.87 L266.90,107.03 L265.82,107.18 L264.74,107.34 L263.66,107.50 L262.58,107.66 L261.51,107.82 L260.43,107.99 L259.36,108.16 L258.29,108.34 L257.23,108.53 L256.16,108.72 L255.11,108.93 L254.06,109.15 L253.01,109.38 L251.96,109.63 L250.91,109.89 L249.87,110.15 L248.84,110.43 L247.80,110.71 L246.77,111.00 L245.75,111.30 L244.73,111.60 L243.71,111.90 L242.68,112.22 L241.67,112.54 L240.66,112.88 L239.67,113.23 L238.69,113.60 L237.74,113.99 L236.78,114.40 L235.84,114.84 L234.91,115.30 L234.00,115.78 L233.12,116.27 L232.27,116.79 L231.45,117.32 L230.66,117.89 L229.89,118.49 L229.14,119.10 L228.41,119.73 L227.69,120.37 L226.98,121.00 L226.29,121.65 L225.61,122.30 L224.95,122.97 L224.30,123.64 L223.68,124.33 L223.07,125.02 L222.46,125.72 L221.88,126.42 L221.31,127.14 L220.79,127.87 L220.30,128.61 L219.85,129.37 L219.43,130.14 L219.02,130.91 L218.63,131.69 L218.25,132.47 L217.87,133.26 L217.51,134.04 L217.15,134.83 L216.80,135.62 L216.46,136.41 L216.12,137.20 L215.78,137.99 L215.44,138.79 L215.11,139.58 L214.77,140.37 L214.43,141.17 L214.10,141.96 L213.77,142.75 L213.43,143.55 L213.11,144.34 L212.78,145.14 L212.45,145.93 L212.13,146.73 L211.80,147.52 L211.48,148.32 L211.15,149.11 L210.83,149.91 L210.51,150.70 L210.19,151.50 L209.87,152.30 L209.56,153.10 L209.24,153.89 L208.92,154.69 L208.60,155.49 L208.28,156.28 L207.95,157.08 L207.61,157.87 L207.28,158.66 L206.94,159.45 L206.59,160.25 L206.25,161.04 L205.90,161.83 L205.55,162.62 L205.20,163.40 L204.84,164.19 L204.48,164.98 L204.11,165.76 L203.76,166.55 L203.40,167.35 L203.05,168.14 L202.69,168.93 L202.32,169.72 L201.93,170.50 L201.52,171.27 L201.09,172.02 L200.63,172.77 L200.14,173.52 L199.61,174.26 L199.04,174.99 L198.44,175.69 L197.81,176.35 L197.13,177.00 L196.39,177.67 L195.60,178.29 L194.76,178.83 L193.86,179.22 L192.88,179.54 L191.81,179.82 L190.71,180.01 L189.62,180.07 L188.54,180.01 L187.44,179.87 L186.35,179.68 L185.31,179.47 L184.30,179.20 L183.31,178.82 L182.35,178.39 L181.41,177.94 L180.50,177.49 L179.61,177.00 L178.76,176.49 L177.91,175.95 L177.07,175.40 L176.23,174.86 L175.37,174.34 L174.50,173.84 L173.61,173.35 L172.72,172.87 L171.82,172.40 L170.92,171.92 L170.01,171.45 L169.10,170.98 L168.20,170.51 L167.30,170.04 L166.40,169.56 L165.50,169.08 L164.61,168.60 L163.72,168.11 L162.82,167.63 L161.93,167.14 L161.03,166.66 L160.13,166.18 L159.23,165.71 L158.32,165.25 L157.40,164.80 L156.48,164.35 L155.55,163.91 L154.62,163.47 L153.68,163.04 L152.74,162.61 L151.79,162.19 L150.83,161.78 L149.87,161.38 L148.90,160.99 L147.93,160.61 L146.95,160.25 L145.96,159.90 L144.96,159.55 L143.96,159.21 L142.95,158.87 L141.94,158.55 L140.92,158.23 L139.90,157.93 L138.87,157.63 L137.85,157.34 L136.82,157.06 L135.79,156.78 L134.75,156.51 L133.71,156.25 L132.66,155.99 L131.61,155.75 L130.56,155.52 L129.50,155.30 L128.44,155.10 L127.38,154.90 L126.32,154.70 L125.25,154.52 L124.18,154.33 L123.11,154.16 L122.03,154.00 L120.95,153.84 L119.87,153.69 L118.79,153.55 L117.70,153.42" stroke="#ff3a00" stroke-width="2.3" fill="none" stroke-linejoin="round" stroke-linecap="round"/>
<line x1="281" y1="149.4" x2="306" y2="149.4" stroke="#6a00ff" stroke-width="2.5" stroke-linecap="round"/>
<text x="308.3" y="152.70000000000002" font-size="9.9" text-anchor="start" font-style="italic">2 mg</text>
<line x1="281" y1="163.3" x2="306" y2="163.3" stroke="#0a80ff" stroke-width="2.5" stroke-linecap="round"/>
<text x="308.3" y="166.60000000000002" font-size="9.9" text-anchor="start" font-style="italic">4 mg</text>
<line x1="281" y1="176.8" x2="306" y2="176.8" stroke="#10f27a" stroke-width="2.5" stroke-linecap="round"/>
<text x="308.3" y="180.10000000000002" font-size="9.9" text-anchor="start" font-style="italic">6 mg</text>
<line x1="281" y1="190.3" x2="306" y2="190.3" stroke="#e6e600" stroke-width="2.5" stroke-linecap="round"/>
<text x="308.3" y="193.60000000000002" font-size="9.9" text-anchor="start" font-style="italic">8 mg</text>
<line x1="281" y1="204.2" x2="306" y2="204.2" stroke="#ff3a00" stroke-width="2.5" stroke-linecap="round"/>
<text x="308.3" y="207.5" font-size="9.9" text-anchor="start" font-style="italic">10 mg</text>
<rect x="92.5" y="15.5" width="246.5" height="202" fill="none" stroke="#000" stroke-width="1.7"/>
<line x1="117.70" y1="218" x2="117.70" y2="221.5" stroke="#000" stroke-width="1.5"/>
<text x="117.70" y="232" font-size="10.2" text-anchor="middle" font-style="italic">0.0</text>
<line x1="166.90" y1="218" x2="166.90" y2="221.5" stroke="#000" stroke-width="1.5"/>
<text x="166.90" y="232" font-size="10.2" text-anchor="middle" font-style="italic">0.2</text>
<line x1="216.10" y1="218" x2="216.10" y2="221.5" stroke="#000" stroke-width="1.5"/>
<text x="216.10" y="232" font-size="10.2" text-anchor="middle" font-style="italic">0.4</text>
<line x1="265.30" y1="218" x2="265.30" y2="221.5" stroke="#000" stroke-width="1.5"/>
<text x="265.30" y="232" font-size="10.2" text-anchor="middle" font-style="italic">0.6</text>
<line x1="314.50" y1="218" x2="314.50" y2="221.5" stroke="#000" stroke-width="1.5"/>
<text x="314.50" y="232" font-size="10.2" text-anchor="middle" font-style="italic">0.8</text>
<line x1="89" y1="28.00" x2="92.5" y2="28.00" stroke="#000" stroke-width="1.5"/>
<text x="80.6" y="31.5" font-size="10.5" text-anchor="end" font-style="italic">8.0×10</text>
<text x="80.3" y="27.3" font-size="6.3" text-anchor="start" font-style="italic">-5</text>
<line x1="89" y1="53.25" x2="92.5" y2="53.25" stroke="#000" stroke-width="1.5"/>
<text x="80.6" y="56.75" font-size="10.5" text-anchor="end" font-style="italic">6.0×10</text>
<text x="80.3" y="52.55" font-size="6.3" text-anchor="start" font-style="italic">-5</text>
<line x1="89" y1="78.50" x2="92.5" y2="78.50" stroke="#000" stroke-width="1.5"/>
<text x="80.6" y="82.0" font-size="10.5" text-anchor="end" font-style="italic">4.0×10</text>
<text x="80.3" y="77.8" font-size="6.3" text-anchor="start" font-style="italic">-5</text>
<line x1="89" y1="103.75" x2="92.5" y2="103.75" stroke="#000" stroke-width="1.5"/>
<text x="80.6" y="107.25" font-size="10.5" text-anchor="end" font-style="italic">2.0×10</text>
<text x="80.3" y="103.05" font-size="6.3" text-anchor="start" font-style="italic">-5</text>
<line x1="89" y1="129.00" x2="92.5" y2="129.00" stroke="#000" stroke-width="1.5"/>
<text x="86" y="132.5" font-size="10.5" text-anchor="end" font-style="italic">0.0</text>
<line x1="89" y1="154.25" x2="92.5" y2="154.25" stroke="#000" stroke-width="1.5"/>
<text x="80.6" y="157.75" font-size="10.5" text-anchor="end" font-style="italic">-2.0×10</text>
<text x="80.3" y="153.55" font-size="6.3" text-anchor="start" font-style="italic">-5</text>
<line x1="89" y1="179.50" x2="92.5" y2="179.50" stroke="#000" stroke-width="1.5"/>
<text x="80.6" y="183.0" font-size="10.5" text-anchor="end" font-style="italic">-4.0×10</text>
<text x="80.3" y="178.8" font-size="6.3" text-anchor="start" font-style="italic">-5</text>
<line x1="89" y1="204.75" x2="92.5" y2="204.75" stroke="#000" stroke-width="1.5"/>
<text x="80.6" y="208.25" font-size="10.5" text-anchor="end" font-style="italic">-6.0×10</text>
<text x="80.3" y="204.05" font-size="6.3" text-anchor="start" font-style="italic">-5</text>
<text x="0" y="0" font-size="15.8" text-anchor="middle" font-style="italic" transform="translate(38.7,116) rotate(-90)">Current, I (A)</text>
<text x="216.5" y="262.5" font-size="16.4" text-anchor="middle" font-style="italic">Potential, E (V)</text>
<rect x="12" y="240" width="22" height="21" fill="#ffff00"/>
<text x="0" y="0" font-size="17" text-anchor="middle" font-style="italic" transform="translate(23.0,256.6) scale(1.1,1)">(a)</text>
<rect x="408" y="12.7" width="254.39999999999998" height="205.8" fill="none" stroke="#000" stroke-width="1.7"/>
<path d="M433,101.30 V112.60 M430.2,101.30 H435.8 M430.2,112.60 H435.8" stroke="#000" stroke-width="1.5" fill="none"/>
<line x1="433" y1="218.5" x2="433" y2="222.3" stroke="#000" stroke-width="1.5"/>
<text x="433" y="233.5" font-size="10.5" text-anchor="middle" font-style="italic">2</text>
<path d="M484,80.72 V92.92 M481.2,80.72 H486.8 M481.2,92.92 H486.8" stroke="#000" stroke-width="1.5" fill="none"/>
<line x1="484" y1="218.5" x2="484" y2="222.3" stroke="#000" stroke-width="1.5"/>
<text x="484" y="233.5" font-size="10.5" text-anchor="middle" font-style="italic">4</text>
<path d="M535,25.04 V43.84 M532.2,25.04 H537.8 M532.2,43.84 H537.8" stroke="#000" stroke-width="1.5" fill="none"/>
<line x1="535" y1="218.5" x2="535" y2="222.3" stroke="#000" stroke-width="1.5"/>
<text x="535" y="233.5" font-size="10.5" text-anchor="middle" font-style="italic">6</text>
<path d="M586,40.39 V57.59 M583.2,40.39 H588.8 M583.2,57.59 H588.8" stroke="#000" stroke-width="1.5" fill="none"/>
<line x1="586" y1="218.5" x2="586" y2="222.3" stroke="#000" stroke-width="1.5"/>
<text x="586" y="233.5" font-size="10.5" text-anchor="middle" font-style="italic">8</text>
<path d="M637,70.65 V85.05 M634.2,70.65 H639.8 M634.2,85.05 H639.8" stroke="#000" stroke-width="1.5" fill="none"/>
<line x1="637" y1="218.5" x2="637" y2="222.3" stroke="#000" stroke-width="1.5"/>
<text x="637" y="233.5" font-size="10.5" text-anchor="middle" font-style="italic">10</text>
<line x1="404.4" y1="218.50" x2="408" y2="218.50" stroke="#000" stroke-width="1.5"/>
<text x="400.5" y="222.0" font-size="10.5" text-anchor="end" font-style="normal">0</text>
<line x1="404.4" y1="170.00" x2="408" y2="170.00" stroke="#000" stroke-width="1.5"/>
<text x="400.5" y="173.5" font-size="10.5" text-anchor="end" font-style="normal">20</text>
<line x1="404.4" y1="121.50" x2="408" y2="121.50" stroke="#000" stroke-width="1.5"/>
<text x="400.5" y="125.0" font-size="10.5" text-anchor="end" font-style="normal">40</text>
<line x1="404.4" y1="73.00" x2="408" y2="73.00" stroke="#000" stroke-width="1.5"/>
<text x="400.5" y="76.5" font-size="10.5" text-anchor="end" font-style="normal">60</text>
<line x1="404.4" y1="24.50" x2="408" y2="24.50" stroke="#000" stroke-width="1.5"/>
<text x="400.5" y="28.0" font-size="10.5" text-anchor="end" font-style="normal">80</text>
<text x="0" y="0" font-size="16.8" text-anchor="middle" font-style="italic" transform="translate(373.3,111.5) rotate(-90)">Current, I (<tspan font-style="normal" font-weight="normal" dx="1.5">μ</tspan><tspan dx="0.5">A)</tspan></text>
<text x="534.5" y="254.3" font-size="16.8" text-anchor="middle" font-style="italic">Amount of EZO-ME1</text>
<rect x="353" y="240" width="23" height="21" fill="#ffff00"/>
<text x="0" y="0" font-size="17" text-anchor="middle" font-style="italic" transform="translate(364.3,256.6) scale(1.1,1)">(b)</text>
<path d="M117.00,410.94 L117.29,410.41 L117.71,409.93 L118.22,409.49 L118.90,409.08 L119.72,408.76 L120.63,408.56 L121.64,408.41 L122.68,408.29 L123.69,408.17 L124.70,408.07 L125.73,407.98 L126.76,407.91 L127.78,407.84 L128.81,407.80 L129.84,407.75 L130.88,407.72 L131.91,407.68 L132.95,407.65 L133.98,407.62 L135.02,407.59 L136.05,407.55 L137.09,407.52 L138.12,407.49 L139.15,407.45 L140.19,407.42 L141.22,407.39 L142.26,407.36 L143.29,407.32 L144.32,407.29 L145.36,407.25 L146.39,407.21 L147.42,407.17 L148.46,407.14 L149.49,407.10 L150.53,407.06 L151.57,407.03 L152.60,406.99 L153.64,406.95 L154.67,406.91 L155.71,406.86 L156.74,406.82 L157.77,406.77 L158.80,406.72 L159.83,406.67 L160.86,406.61 L161.88,406.55 L162.91,406.48 L163.93,406.41 L164.95,406.33 L165.98,406.23 L167.00,406.12 L168.01,406.00 L169.01,405.87 L170.00,405.72 L170.98,405.56 L171.94,405.38 L172.90,405.17 L173.84,404.93 L174.76,404.69 L175.66,404.43 L176.55,404.17 L177.43,403.89 L178.30,403.59 L179.15,403.29 L179.99,402.96 L180.80,402.63 L181.59,402.29 L182.34,401.95 L183.08,401.59 L183.80,401.21 L184.51,400.82 L185.20,400.42 L185.87,400.01 L186.50,399.59 L187.11,399.16 L187.67,398.73 L188.20,398.29 L188.71,397.83 L189.19,397.37 L189.65,396.90 L190.09,396.42 L190.53,395.94 L190.95,395.45 L191.38,394.97 L191.80,394.49 L192.22,394.01 L192.64,393.53 L193.05,393.05 L193.46,392.56 L193.86,392.08 L194.26,391.59 L194.65,391.11 L195.03,390.62 L195.41,390.13 L195.79,389.64 L196.16,389.15 L196.52,388.66 L196.88,388.17 L197.23,387.67 L197.58,387.18 L197.92,386.68 L198.26,386.19 L198.60,385.69 L198.93,385.19 L199.26,384.69 L199.59,384.20 L199.91,383.70 L200.23,383.20 L200.55,382.70 L200.85,382.20 L201.16,381.69 L201.46,381.19 L201.76,380.69 L202.07,380.19 L202.37,379.68 L202.68,379.18 L203.00,378.68 L203.32,378.18 L203.64,377.68 L203.96,377.18 L204.28,376.68 L204.60,376.19 L204.93,375.69 L205.26,375.19 L205.59,374.69 L205.93,374.19 L206.27,373.70 L206.61,373.20 L206.97,372.71 L207.32,372.22 L207.66,371.72 L208.01,371.22 L208.36,370.72 L208.71,370.22 L209.08,369.72 L209.45,369.23 L209.84,368.74 L210.25,368.27 L210.68,367.79 L211.14,367.33 L211.62,366.87 L212.13,366.39 L212.66,365.90 L213.23,365.42 L213.83,364.96 L214.46,364.52 L215.12,364.13 L215.83,363.78 L216.57,363.50 L217.40,363.24 L218.35,362.99 L219.37,362.76 L220.41,362.59 L221.42,362.50 L222.38,362.50 L223.35,362.61 L224.31,362.78 L225.27,363.02 L226.22,363.30 L227.15,363.59 L228.06,363.89 L228.95,364.16 L229.80,364.44 L230.63,364.74 L231.44,365.06 L232.24,365.40 L233.03,365.75 L233.81,366.10 L234.59,366.46 L235.38,366.81 L236.16,367.16 L236.96,367.50 L237.75,367.84 L238.53,368.18 L239.31,368.53 L240.09,368.87 L240.88,369.22 L241.66,369.56 L242.46,369.90 L243.26,370.23 L244.07,370.56 L244.89,370.87 L245.73,371.17 L246.58,371.48 L247.44,371.77 L248.30,372.06 L249.17,372.35 L250.05,372.63 L250.93,372.91 L251.82,373.18 L252.71,373.44 L253.61,373.71 L254.51,373.98 L255.41,374.24 L256.32,374.50 L257.23,374.76 L258.16,375.00 L259.08,375.24 L260.02,375.46 L260.97,375.66 L261.92,375.84 L262.89,376.01 L263.88,376.17 L264.87,376.32 L265.87,376.47 L266.87,376.60 L267.89,376.73 L268.90,376.86 L269.91,376.98 L270.92,377.09 L271.93,377.21 L272.94,377.32 L273.96,377.44 L274.97,377.55 L275.99,377.66 L277.01,377.76 L278.03,377.85 L279.05,377.93 L280.08,378.00 L281.10,378.06 L282.13,378.11 L283.16,378.16 L284.19,378.21 L285.23,378.25 L286.26,378.29 L287.30,378.33 L288.33,378.36 L289.37,378.38 L290.41,378.40 L291.44,378.40 L292.48,378.40 L293.52,378.40 L294.57,378.38 L295.62,378.36 L296.67,378.34 L297.70,378.30 L298.72,378.26 L299.72,378.22 L300.87,378.05 L302.07,377.77 L302.88,377.54 L303.03,377.59 L303.07,378.01 L303.10,378.66 L303.11,379.34 L303.11,379.91 L303.04,380.43 L302.91,380.96 L302.73,381.48 L302.51,382.00 L302.28,382.51 L302.04,383.01 L301.74,383.51 L301.38,384.01 L300.95,384.50 L300.49,384.98 L300.00,385.44 L299.48,385.88 L298.91,386.31 L298.28,386.73 L297.60,387.14 L296.89,387.54 L296.15,387.92 L295.40,388.28 L294.65,388.62 L293.86,388.95 L293.04,389.27 L292.19,389.58 L291.32,389.88 L290.43,390.17 L289.53,390.44 L288.63,390.70 L287.72,390.95 L286.81,391.19 L285.88,391.41 L284.94,391.63 L283.98,391.83 L283.02,392.03 L282.05,392.22 L281.07,392.41 L280.08,392.58 L279.10,392.75 L278.12,392.92 L277.14,393.08 L276.15,393.23 L275.16,393.38 L274.16,393.52 L273.16,393.66 L272.16,393.80 L271.16,393.93 L270.15,394.06 L269.14,394.19 L268.14,394.32 L267.13,394.44 L266.12,394.56 L265.11,394.68 L264.10,394.81 L263.09,394.92 L262.08,395.03 L261.06,395.14 L260.05,395.24 L259.03,395.34 L258.01,395.44 L256.99,395.54 L255.97,395.64 L254.95,395.74 L253.93,395.84 L252.91,395.94 L251.90,396.05 L250.89,396.16 L249.88,396.27 L248.87,396.39 L247.87,396.51 L246.87,396.64 L245.87,396.78 L244.88,396.93 L243.89,397.08 L242.90,397.25 L241.92,397.42 L240.94,397.59 L239.96,397.77 L238.99,397.95 L238.02,398.14 L237.06,398.33 L236.09,398.52 L235.13,398.72 L234.17,398.92 L233.21,399.13 L232.28,399.36 L231.35,399.59 L230.45,399.84 L229.55,400.10 L228.66,400.37 L227.78,400.66 L226.92,400.96 L226.09,401.27 L225.28,401.60 L224.51,401.94 L223.76,402.29 L223.03,402.67 L222.32,403.06 L221.63,403.46 L220.95,403.86 L220.29,404.26 L219.63,404.66 L218.99,405.08 L218.36,405.50 L217.75,405.92 L217.16,406.35 L216.58,406.79 L216.01,407.23 L215.46,407.68 L214.93,408.13 L214.43,408.59 L213.97,409.05 L213.55,409.53 L213.15,410.02 L212.76,410.51 L212.39,411.00 L212.03,411.49 L211.68,411.98 L211.33,412.48 L210.99,412.97 L210.66,413.47 L210.34,413.97 L210.02,414.47 L209.70,414.97 L209.38,415.47 L209.06,415.97 L208.74,416.47 L208.42,416.97 L208.11,417.47 L207.79,417.97 L207.48,418.47 L207.17,418.97 L206.86,419.47 L206.55,419.98 L206.24,420.48 L205.94,420.98 L205.63,421.48 L205.32,421.98 L205.02,422.48 L204.72,422.99 L204.42,423.49 L204.12,423.99 L203.82,424.50 L203.52,425.00 L203.22,425.50 L202.91,426.00 L202.61,426.50 L202.29,427.01 L201.98,427.51 L201.66,428.00 L201.34,428.50 L201.02,429.00 L200.69,429.50 L200.36,430.00 L200.03,430.50 L199.69,430.99 L199.36,431.49 L199.01,431.99 L198.67,432.48 L198.33,432.98 L198.00,433.48 L197.66,433.98 L197.32,434.48 L196.97,434.97 L196.61,435.47 L196.22,435.95 L195.82,436.43 L195.38,436.90 L194.91,437.37 L194.41,437.84 L193.88,438.30 L193.31,438.74 L192.71,439.16 L192.07,439.57 L191.38,439.99 L190.63,440.38 L189.83,440.72 L188.98,440.97 L188.05,441.17 L187.04,441.35 L186.00,441.47 L184.98,441.51 L183.95,441.47 L182.91,441.38 L181.89,441.26 L180.90,441.13 L179.94,440.95 L179.01,440.72 L178.10,440.44 L177.21,440.16 L176.35,439.87 L175.52,439.57 L174.71,439.24 L173.91,438.91 L173.12,438.56 L172.32,438.22 L171.51,437.89 L170.68,437.58 L169.84,437.27 L169.00,436.96 L168.15,436.66 L167.30,436.37 L166.44,436.07 L165.58,435.77 L164.73,435.48 L163.87,435.18 L163.02,434.88 L162.18,434.57 L161.33,434.27 L160.49,433.96 L159.65,433.66 L158.80,433.35 L157.96,433.05 L157.11,432.75 L156.25,432.45 L155.39,432.16 L154.52,431.87 L153.65,431.59 L152.77,431.31 L151.89,431.04 L151.00,430.76 L150.11,430.49 L149.22,430.23 L148.31,429.97 L147.41,429.72 L146.49,429.47 L145.57,429.23 L144.64,429.01 L143.71,428.78 L142.77,428.56 L141.82,428.35 L140.87,428.14 L139.91,427.93 L138.95,427.74 L137.98,427.54 L137.01,427.35 L136.04,427.17 L135.07,426.99 L134.09,426.82 L133.11,426.65 L132.13,426.48 L131.14,426.32 L130.15,426.17 L129.15,426.02 L128.15,425.88 L127.15,425.76 L126.15,425.63 L125.14,425.51 L124.13,425.39 L123.12,425.28 L122.11,425.17 L121.09,425.06 L120.07,424.96 L119.05,424.87 L118.03,424.78 L117.00,424.70" stroke="#000" stroke-width="2.4" fill="none" stroke-dasharray="11.2 11.4 11.4 12.3 11.0 9.9 10.1 12.4 11.2 13.1 11.4 11.1 11.1 11.9 10.6 11.2 13.4 11.6 10.8 12.8 10.7 12.1 10.2 12.1 10.9 11.1 9.0 14.3 11.2 12.4 11.1 11.1 19.7 12.3 10.9 12.1 8.9 50.0"/>
<path d="M117.00,412.71 L117.29,411.61 L117.71,410.60 L118.22,409.70 L118.90,408.84 L119.72,408.17 L120.63,407.76 L121.64,407.44 L122.68,407.19 L123.69,406.95 L124.70,406.74 L125.73,406.55 L126.76,406.39 L127.78,406.27 L128.81,406.17 L129.84,406.08 L130.88,406.00 L131.91,405.93 L132.95,405.86 L133.98,405.80 L135.02,405.73 L136.05,405.66 L137.09,405.59 L138.12,405.52 L139.15,405.45 L140.19,405.39 L141.22,405.32 L142.26,405.25 L143.29,405.18 L144.32,405.10 L145.36,405.03 L146.39,404.95 L147.42,404.87 L148.46,404.79 L149.49,404.72 L150.53,404.64 L151.57,404.56 L152.60,404.48 L153.64,404.40 L154.67,404.31 L155.71,404.23 L156.74,404.13 L157.77,404.03 L158.80,403.93 L159.83,403.82 L160.86,403.70 L161.88,403.57 L162.91,403.43 L163.93,403.29 L164.95,403.11 L165.98,402.91 L167.00,402.68 L168.01,402.42 L169.01,402.15 L170.00,401.85 L170.98,401.52 L171.94,401.13 L172.90,400.69 L173.84,400.20 L174.76,399.69 L175.66,399.16 L176.55,398.61 L177.43,398.03 L178.30,397.41 L179.15,396.77 L179.99,396.10 L180.80,395.41 L181.59,394.70 L182.34,393.98 L183.08,393.23 L183.80,392.45 L184.51,391.63 L185.20,390.80 L185.87,389.94 L186.50,389.06 L187.11,388.17 L187.67,387.27 L188.20,386.36 L188.71,385.41 L189.19,384.45 L189.65,383.46 L190.09,382.47 L190.53,381.46 L190.95,380.45 L191.38,379.45 L191.80,378.44 L192.22,377.45 L192.64,376.45 L193.05,375.44 L193.46,374.44 L193.86,373.43 L194.26,372.41 L194.65,371.40 L195.03,370.38 L195.41,369.36 L195.79,368.34 L196.16,367.32 L196.52,366.30 L196.88,365.27 L197.23,364.25 L197.58,363.22 L197.92,362.18 L198.26,361.15 L198.60,360.11 L198.93,359.07 L199.26,358.04 L199.59,357.00 L199.91,355.96 L200.23,354.92 L200.55,353.88 L200.85,352.83 L201.16,351.79 L201.46,350.74 L201.76,349.69 L202.07,348.65 L202.37,347.60 L202.68,346.56 L203.00,345.51 L203.32,344.47 L203.64,343.43 L203.96,342.39 L204.28,341.35 L204.60,340.31 L204.93,339.27 L205.26,338.24 L205.59,337.20 L205.93,336.16 L206.27,335.13 L206.61,334.10 L206.97,333.07 L207.32,332.04 L207.66,331.00 L208.01,329.96 L208.36,328.92 L208.71,327.88 L209.08,326.85 L209.45,325.82 L209.84,324.81 L210.25,323.81 L210.68,322.83 L211.14,321.87 L211.62,320.90 L212.13,319.90 L212.66,318.88 L213.23,317.88 L213.83,316.92 L214.46,316.01 L215.12,315.19 L215.83,314.47 L216.57,313.88 L217.40,313.34 L218.35,312.82 L219.37,312.35 L220.41,311.99 L221.42,311.80 L222.38,311.81 L223.35,312.02 L224.31,312.39 L225.27,312.89 L226.22,313.46 L227.15,314.08 L228.06,314.69 L228.95,315.26 L229.80,315.84 L230.63,316.47 L231.44,317.14 L232.24,317.84 L233.03,318.56 L233.81,319.30 L234.59,320.04 L235.38,320.78 L236.16,321.50 L236.96,322.21 L237.75,322.92 L238.53,323.63 L239.31,324.35 L240.09,325.08 L240.88,325.80 L241.66,326.51 L242.46,327.22 L243.26,327.91 L244.07,328.58 L244.89,329.23 L245.73,329.87 L246.58,330.50 L247.44,331.12 L248.30,331.73 L249.17,332.32 L250.05,332.91 L250.93,333.48 L251.82,334.05 L252.71,334.60 L253.61,335.15 L254.51,335.71 L255.41,336.26 L256.32,336.81 L257.23,337.34 L258.16,337.85 L259.08,338.34 L260.02,338.79 L260.97,339.21 L261.92,339.59 L262.89,339.94 L263.88,340.28 L264.87,340.59 L265.87,340.89 L266.87,341.18 L267.89,341.45 L268.90,341.71 L269.91,341.96 L270.92,342.20 L271.93,342.44 L272.94,342.68 L273.96,342.92 L274.97,343.15 L275.99,343.38 L277.01,343.58 L278.03,343.78 L279.05,343.95 L280.08,344.10 L281.10,344.22 L282.13,344.33 L283.16,344.42 L284.19,344.52 L285.23,344.61 L286.26,344.69 L287.30,344.77 L288.33,344.83 L289.37,344.88 L290.41,344.92 L291.44,344.93 L292.48,344.93 L293.52,344.92 L294.57,344.89 L295.62,344.85 L296.67,344.79 L297.70,344.72 L298.72,344.64 L299.72,344.55 L300.87,344.20 L302.07,343.61 L302.88,343.14 L303.03,343.24 L303.07,344.12 L303.10,345.46 L303.11,346.89 L303.11,348.07 L303.04,349.16 L302.91,350.25 L302.73,351.34 L302.51,352.42 L302.28,353.49 L302.04,354.54 L301.74,355.58 L301.38,356.62 L300.95,357.64 L300.49,358.63 L300.00,359.59 L299.48,360.51 L298.91,361.41 L298.28,362.29 L297.60,363.14 L296.89,363.97 L296.15,364.76 L295.40,365.51 L294.65,366.22 L293.86,366.90 L293.04,367.57 L292.19,368.22 L291.32,368.84 L290.43,369.44 L289.53,370.01 L288.63,370.56 L287.72,371.08 L286.81,371.57 L285.88,372.03 L284.94,372.48 L283.98,372.91 L283.02,373.32 L282.05,373.72 L281.07,374.10 L280.08,374.47 L279.10,374.83 L278.12,375.17 L277.14,375.50 L276.15,375.82 L275.16,376.13 L274.16,376.43 L273.16,376.72 L272.16,377.00 L271.16,377.28 L270.15,377.55 L269.14,377.82 L268.14,378.08 L267.13,378.34 L266.12,378.60 L265.11,378.85 L264.10,379.10 L263.09,379.34 L262.08,379.57 L261.06,379.80 L260.05,380.01 L259.03,380.23 L258.01,380.43 L256.99,380.64 L255.97,380.84 L254.95,381.05 L253.93,381.26 L252.91,381.47 L251.90,381.69 L250.89,381.92 L249.88,382.16 L248.87,382.40 L247.87,382.66 L246.87,382.93 L245.87,383.22 L244.88,383.53 L243.89,383.85 L242.90,384.19 L241.92,384.54 L240.94,384.90 L239.96,385.28 L238.99,385.66 L238.02,386.05 L237.06,386.44 L236.09,386.84 L235.13,387.25 L234.17,387.68 L233.21,388.12 L232.28,388.58 L231.35,389.07 L230.45,389.58 L229.55,390.13 L228.66,390.70 L227.78,391.30 L226.92,391.93 L226.09,392.58 L225.28,393.25 L224.51,393.96 L223.76,394.71 L223.03,395.49 L222.32,396.30 L221.63,397.13 L220.95,397.96 L220.29,398.79 L219.63,399.64 L218.99,400.50 L218.36,401.38 L217.75,402.26 L217.16,403.16 L216.58,404.07 L216.01,404.98 L215.46,405.91 L214.93,406.86 L214.43,407.82 L213.97,408.79 L213.55,409.78 L213.15,410.79 L212.76,411.81 L212.39,412.84 L212.03,413.86 L211.68,414.89 L211.33,415.92 L210.99,416.96 L210.66,417.99 L210.34,419.03 L210.02,420.07 L209.70,421.12 L209.38,422.16 L209.06,423.20 L208.74,424.24 L208.42,425.28 L208.11,426.32 L207.79,427.37 L207.48,428.41 L207.17,429.45 L206.86,430.50 L206.55,431.54 L206.24,432.59 L205.94,433.63 L205.63,434.68 L205.32,435.72 L205.02,436.77 L204.72,437.81 L204.42,438.86 L204.12,439.91 L203.82,440.96 L203.52,442.00 L203.22,443.05 L202.91,444.10 L202.61,445.14 L202.29,446.19 L201.98,447.23 L201.66,448.27 L201.34,449.31 L201.02,450.35 L200.69,451.39 L200.36,452.42 L200.03,453.46 L199.69,454.50 L199.36,455.53 L199.01,456.56 L198.67,457.60 L198.33,458.63 L198.00,459.68 L197.66,460.72 L197.32,461.76 L196.97,462.79 L196.61,463.81 L196.22,464.83 L195.82,465.82 L195.38,466.80 L194.91,467.79 L194.41,468.76 L193.88,469.71 L193.31,470.63 L192.71,471.51 L192.07,472.36 L191.38,473.23 L190.63,474.06 L189.83,474.76 L188.98,475.27 L188.05,475.69 L187.04,476.06 L186.00,476.32 L184.98,476.40 L183.95,476.31 L182.91,476.13 L181.89,475.88 L180.90,475.60 L179.94,475.24 L179.01,474.75 L178.10,474.18 L177.21,473.59 L176.35,473.00 L175.52,472.36 L174.71,471.68 L173.91,470.98 L173.12,470.26 L172.32,469.55 L171.51,468.87 L170.68,468.21 L169.84,467.57 L169.00,466.94 L168.15,466.31 L167.30,465.69 L166.44,465.07 L165.58,464.45 L164.73,463.83 L163.87,463.21 L163.02,462.59 L162.18,461.96 L161.33,461.32 L160.49,460.68 L159.65,460.04 L158.80,459.41 L157.96,458.78 L157.11,458.15 L156.25,457.53 L155.39,456.93 L154.52,456.33 L153.65,455.75 L152.77,455.16 L151.89,454.59 L151.00,454.02 L150.11,453.45 L149.22,452.90 L148.31,452.36 L147.41,451.83 L146.49,451.32 L145.57,450.83 L144.64,450.35 L143.71,449.89 L142.77,449.43 L141.82,448.98 L140.87,448.55 L139.91,448.12 L138.95,447.71 L137.98,447.30 L137.01,446.91 L136.04,446.53 L135.07,446.16 L134.09,445.80 L133.11,445.44 L132.13,445.09 L131.14,444.76 L130.15,444.44 L129.15,444.14 L128.15,443.85 L127.15,443.58 L126.15,443.32 L125.14,443.07 L124.13,442.82 L123.12,442.58 L122.11,442.35 L121.09,442.14 L120.07,441.93 L119.05,441.74 L118.03,441.55 L117.00,441.39" stroke="#108a8a" stroke-width="2.5" fill="none" stroke-linejoin="round"/>
<line x1="98.4" y1="307.8" x2="109.6" y2="307.8" stroke="#000" stroke-width="2.5"/>
<line x1="98.4" y1="321.9" x2="122.5" y2="321.9" stroke="#108a8a" stroke-width="2.4"/>
<text x="124.3" y="311.6" font-size="9.5" text-anchor="start" font-style="italic">BE1</text>
<text x="124.3" y="325.4" font-size="9.5" text-anchor="start" font-style="italic">EZO-ME1</text>
<rect x="93.6" y="295.9" width="232.8" height="202" fill="none" stroke="#000" stroke-width="1.4"/>
<line x1="117.00" y1="498" x2="117.00" y2="502" stroke="#000" stroke-width="1.4"/>
<text x="117.00" y="512.5" font-size="9.6" text-anchor="middle" font-style="italic">0.0</text>
<line x1="163.50" y1="498" x2="163.50" y2="502" stroke="#000" stroke-width="1.4"/>
<text x="163.50" y="512.5" font-size="9.6" text-anchor="middle" font-style="italic">0.2</text>
<line x1="210.00" y1="498" x2="210.00" y2="502" stroke="#000" stroke-width="1.4"/>
<text x="210.00" y="512.5" font-size="9.6" text-anchor="middle" font-style="italic">0.4</text>
<line x1="256.50" y1="498" x2="256.50" y2="502" stroke="#000" stroke-width="1.4"/>
<text x="256.50" y="512.5" font-size="9.6" text-anchor="middle" font-style="italic">0.6</text>
<line x1="303.00" y1="498" x2="303.00" y2="502" stroke="#000" stroke-width="1.4"/>
<text x="303.00" y="512.5" font-size="9.6" text-anchor="middle" font-style="italic">0.8</text>
<line x1="90.2" y1="308.50" x2="93.6" y2="308.50" stroke="#000" stroke-width="1.4"/>
<text x="82" y="311.8" font-size="9.6" text-anchor="end" font-style="italic">8.0×10</text>
<text x="81.8" y="307.9" font-size="6" text-anchor="start" font-style="italic">-5</text>
<line x1="90.2" y1="333.70" x2="93.6" y2="333.70" stroke="#000" stroke-width="1.4"/>
<text x="82" y="337.00000000000006" font-size="9.6" text-anchor="end" font-style="italic">6.0×10</text>
<text x="81.8" y="333.1" font-size="6" text-anchor="start" font-style="italic">-5</text>
<line x1="90.2" y1="358.90" x2="93.6" y2="358.90" stroke="#000" stroke-width="1.4"/>
<text x="82" y="362.20000000000005" font-size="9.6" text-anchor="end" font-style="italic">4.0×10</text>
<text x="81.8" y="358.3" font-size="6" text-anchor="start" font-style="italic">-5</text>
<line x1="90.2" y1="384.10" x2="93.6" y2="384.10" stroke="#000" stroke-width="1.4"/>
<text x="82" y="387.40000000000003" font-size="9.6" text-anchor="end" font-style="italic">2.0×10</text>
<text x="81.8" y="383.5" font-size="6" text-anchor="start" font-style="italic">-5</text>
<line x1="90.2" y1="409.30" x2="93.6" y2="409.30" stroke="#000" stroke-width="1.4"/>
<text x="88.5" y="412.6" font-size="9.6" text-anchor="end" font-style="italic">0.0</text>
<line x1="90.2" y1="434.50" x2="93.6" y2="434.50" stroke="#000" stroke-width="1.4"/>
<text x="82" y="437.8" font-size="9.6" text-anchor="end" font-style="italic">-2.0×10</text>
<text x="81.8" y="433.9" font-size="6" text-anchor="start" font-style="italic">-5</text>
<line x1="90.2" y1="459.70" x2="93.6" y2="459.70" stroke="#000" stroke-width="1.4"/>
<text x="82" y="463.0" font-size="9.6" text-anchor="end" font-style="italic">-4.0×10</text>
<text x="81.8" y="459.09999999999997" font-size="6" text-anchor="start" font-style="italic">-5</text>
<line x1="90.2" y1="484.90" x2="93.6" y2="484.90" stroke="#000" stroke-width="1.4"/>
<text x="82" y="488.2" font-size="9.6" text-anchor="end" font-style="italic">-6.0×10</text>
<text x="81.8" y="484.29999999999995" font-size="6" text-anchor="start" font-style="italic">-5</text>
<text x="0" y="0" font-size="16.3" text-anchor="middle" font-style="italic" transform="translate(38.7,393.6) rotate(-90)">Current, I (A)</text>
<text x="216.5" y="533.5" font-size="15.8" text-anchor="middle" font-style="italic">Potential, E (V)</text>
<rect x="12" y="514" width="21.5" height="21" fill="#ffff00"/>
<text x="0" y="0" font-size="17" text-anchor="middle" font-style="italic" transform="translate(22.5,530.6) scale(1.1,1)">(c)</text>
<path d="M429.20,413.06 L429.51,412.72 L429.98,412.40 L430.53,412.12 L431.28,411.86 L432.18,411.65 L433.17,411.52 L434.28,411.42 L435.42,411.35 L436.52,411.27 L437.63,411.21 L438.75,411.15 L439.88,411.10 L441.00,411.06 L442.13,411.03 L443.26,411.00 L444.39,410.98 L445.52,410.96 L446.66,410.94 L447.79,410.92 L448.92,410.89 L450.05,410.87 L451.19,410.85 L452.32,410.83 L453.45,410.81 L454.58,410.79 L455.71,410.77 L456.85,410.74 L457.98,410.72 L459.11,410.70 L460.24,410.68 L461.37,410.65 L462.50,410.63 L463.64,410.60 L464.77,410.58 L465.90,410.56 L467.04,410.53 L468.17,410.51 L469.30,410.48 L470.44,410.46 L471.57,410.43 L472.70,410.40 L473.83,410.37 L474.96,410.34 L476.09,410.30 L477.21,410.26 L478.33,410.22 L479.45,410.18 L480.57,410.14 L481.69,410.08 L482.81,410.02 L483.93,409.95 L485.04,409.87 L486.14,409.78 L487.22,409.69 L488.29,409.59 L489.34,409.47 L490.39,409.33 L491.42,409.18 L492.43,409.02 L493.42,408.86 L494.38,408.69 L495.35,408.51 L496.30,408.32 L497.23,408.12 L498.15,407.91 L499.04,407.70 L499.90,407.48 L500.73,407.25 L501.53,407.02 L502.33,406.78 L503.10,406.53 L503.86,406.27 L504.58,406.00 L505.28,405.73 L505.94,405.45 L506.56,405.18 L507.14,404.89 L507.69,404.60 L508.22,404.30 L508.72,404.00 L509.21,403.69 L509.68,403.38 L510.15,403.06 L510.61,402.75 L511.08,402.44 L511.54,402.13 L512.00,401.82 L512.45,401.51 L512.89,401.20 L513.33,400.89 L513.77,400.57 L514.19,400.26 L514.62,399.94 L515.03,399.63 L515.44,399.31 L515.85,399.00 L516.25,398.68 L516.64,398.36 L517.03,398.04 L517.41,397.72 L517.78,397.40 L518.15,397.08 L518.52,396.76 L518.88,396.44 L519.24,396.12 L519.60,395.80 L519.96,395.48 L520.31,395.15 L520.65,394.83 L520.99,394.51 L521.32,394.18 L521.65,393.86 L521.98,393.53 L522.32,393.21 L522.65,392.89 L522.99,392.56 L523.33,392.24 L523.68,391.92 L524.03,391.59 L524.38,391.27 L524.74,390.95 L525.09,390.63 L525.45,390.31 L525.81,389.98 L526.17,389.66 L526.54,389.34 L526.92,389.02 L527.29,388.70 L527.68,388.39 L528.06,388.07 L528.44,387.74 L528.82,387.42 L529.20,387.10 L529.59,386.78 L529.99,386.46 L530.40,386.14 L530.83,385.83 L531.28,385.52 L531.75,385.21 L532.25,384.92 L532.77,384.61 L533.33,384.30 L533.92,383.99 L534.54,383.68 L535.19,383.38 L535.88,383.10 L536.61,382.84 L537.38,382.62 L538.19,382.44 L539.10,382.27 L540.14,382.11 L541.25,381.97 L542.39,381.86 L543.50,381.80 L544.56,381.80 L545.61,381.86 L546.67,381.98 L547.72,382.13 L548.76,382.31 L549.78,382.50 L550.77,382.69 L551.74,382.87 L552.67,383.05 L553.58,383.24 L554.47,383.45 L555.35,383.67 L556.21,383.89 L557.07,384.12 L557.92,384.35 L558.78,384.58 L559.64,384.80 L560.51,385.02 L561.37,385.24 L562.23,385.46 L563.09,385.68 L563.94,385.91 L564.80,386.13 L565.66,386.35 L566.53,386.57 L567.40,386.79 L568.29,386.99 L569.20,387.20 L570.11,387.39 L571.04,387.59 L571.98,387.78 L572.92,387.97 L573.88,388.15 L574.84,388.34 L575.81,388.51 L576.78,388.69 L577.75,388.86 L578.73,389.03 L579.72,389.20 L580.71,389.37 L581.70,389.54 L582.70,389.71 L583.71,389.87 L584.73,390.02 L585.76,390.16 L586.79,390.29 L587.84,390.40 L588.90,390.51 L589.97,390.62 L591.06,390.72 L592.15,390.81 L593.26,390.90 L594.36,390.98 L595.47,391.06 L596.58,391.14 L597.68,391.21 L598.79,391.29 L599.90,391.36 L601.01,391.44 L602.12,391.51 L603.23,391.58 L604.35,391.64 L605.47,391.70 L606.59,391.76 L607.71,391.80 L608.83,391.84 L609.96,391.87 L611.08,391.90 L612.21,391.93 L613.34,391.96 L614.48,391.99 L615.61,392.01 L616.75,392.03 L617.88,392.04 L619.01,392.05 L620.15,392.06 L621.28,392.06 L622.43,392.05 L623.58,392.05 L624.73,392.03 L625.87,392.02 L627.00,391.99 L628.12,391.97 L629.21,391.94 L630.47,391.83 L631.79,391.65 L632.67,391.51 L632.83,391.53 L632.88,391.81 L632.91,392.22 L632.92,392.67 L632.92,393.03 L632.85,393.37 L632.70,393.71 L632.50,394.05 L632.27,394.38 L632.01,394.71 L631.74,395.04 L631.42,395.36 L631.02,395.68 L630.56,396.00 L630.05,396.30 L629.51,396.60 L628.95,396.88 L628.32,397.16 L627.63,397.44 L626.89,397.70 L626.11,397.96 L625.30,398.20 L624.49,398.43 L623.66,398.65 L622.79,398.87 L621.89,399.07 L620.97,399.27 L620.01,399.47 L619.04,399.65 L618.06,399.83 L617.07,400.00 L616.07,400.16 L615.07,400.31 L614.06,400.46 L613.03,400.59 L611.98,400.73 L610.93,400.86 L609.86,400.98 L608.79,401.10 L607.72,401.21 L606.64,401.32 L605.56,401.43 L604.49,401.53 L603.41,401.63 L602.32,401.72 L601.23,401.82 L600.14,401.91 L599.04,402.00 L597.94,402.08 L596.84,402.17 L595.74,402.25 L594.64,402.33 L593.53,402.41 L592.43,402.49 L591.33,402.57 L590.22,402.65 L589.12,402.72 L588.01,402.79 L586.90,402.86 L585.78,402.93 L584.67,402.99 L583.55,403.06 L582.43,403.12 L581.32,403.18 L580.20,403.25 L579.09,403.31 L577.97,403.38 L576.86,403.45 L575.75,403.52 L574.65,403.59 L573.55,403.67 L572.45,403.75 L571.36,403.83 L570.27,403.92 L569.18,404.02 L568.10,404.12 L567.02,404.22 L565.94,404.33 L564.87,404.44 L563.80,404.56 L562.73,404.68 L561.67,404.80 L560.62,404.92 L559.56,405.04 L558.50,405.17 L557.45,405.30 L556.41,405.44 L555.38,405.58 L554.37,405.73 L553.38,405.89 L552.40,406.06 L551.42,406.24 L550.46,406.42 L549.52,406.62 L548.61,406.82 L547.73,407.03 L546.88,407.25 L546.06,407.48 L545.27,407.72 L544.49,407.97 L543.73,408.23 L542.99,408.49 L542.26,408.75 L541.54,409.01 L540.84,409.27 L540.15,409.55 L539.49,409.82 L538.84,410.10 L538.21,410.38 L537.58,410.66 L536.98,410.95 L536.39,411.24 L535.85,411.54 L535.35,411.84 L534.88,412.15 L534.44,412.46 L534.03,412.78 L533.62,413.10 L533.22,413.41 L532.83,413.73 L532.46,414.05 L532.09,414.37 L531.72,414.69 L531.37,415.02 L531.02,415.34 L530.67,415.66 L530.32,415.98 L529.97,416.31 L529.62,416.63 L529.27,416.95 L528.93,417.27 L528.58,417.60 L528.24,417.92 L527.90,418.24 L527.56,418.57 L527.23,418.89 L526.89,419.21 L526.55,419.54 L526.22,419.86 L525.88,420.19 L525.55,420.51 L525.22,420.83 L524.89,421.16 L524.56,421.48 L524.23,421.81 L523.90,422.13 L523.57,422.46 L523.24,422.78 L522.91,423.10 L522.57,423.43 L522.22,423.75 L521.87,424.07 L521.52,424.39 L521.17,424.72 L520.81,425.04 L520.45,425.36 L520.09,425.68 L519.72,426.00 L519.35,426.32 L518.97,426.64 L518.60,426.96 L518.23,427.28 L517.86,427.61 L517.50,427.93 L517.12,428.25 L516.74,428.57 L516.34,428.89 L515.92,429.20 L515.47,429.51 L515.00,429.81 L514.49,430.12 L513.94,430.42 L513.35,430.72 L512.73,431.00 L512.08,431.27 L511.38,431.54 L510.61,431.81 L509.79,432.06 L508.92,432.28 L507.99,432.44 L506.98,432.57 L505.87,432.68 L504.73,432.76 L503.61,432.79 L502.49,432.76 L501.35,432.70 L500.23,432.63 L499.14,432.54 L498.10,432.43 L497.08,432.28 L496.08,432.10 L495.11,431.92 L494.17,431.73 L493.25,431.54 L492.37,431.33 L491.49,431.11 L490.63,430.89 L489.75,430.67 L488.87,430.45 L487.96,430.25 L487.04,430.05 L486.12,429.85 L485.19,429.66 L484.25,429.47 L483.32,429.28 L482.38,429.09 L481.44,428.89 L480.51,428.70 L479.58,428.51 L478.65,428.31 L477.73,428.12 L476.81,427.92 L475.88,427.72 L474.96,427.52 L474.03,427.33 L473.10,427.13 L472.17,426.94 L471.22,426.75 L470.28,426.57 L469.32,426.39 L468.36,426.21 L467.39,426.03 L466.42,425.85 L465.45,425.68 L464.46,425.51 L463.48,425.34 L462.48,425.18 L461.48,425.02 L460.47,424.87 L459.46,424.72 L458.43,424.57 L457.40,424.43 L456.37,424.29 L455.32,424.16 L454.27,424.03 L453.22,423.90 L452.17,423.77 L451.11,423.65 L450.04,423.53 L448.98,423.42 L447.91,423.31 L446.84,423.20 L445.76,423.09 L444.68,422.99 L443.59,422.89 L442.50,422.79 L441.41,422.70 L440.31,422.62 L439.21,422.54 L438.11,422.46 L437.01,422.38 L435.90,422.31 L434.79,422.24 L433.68,422.17 L432.57,422.11 L431.45,422.05 L430.33,421.99 L429.20,421.94" stroke="#000000" stroke-width="2.5" fill="none" stroke-linejoin="round"/>
<path d="M429.20,413.26 L429.51,412.85 L429.98,412.48 L430.53,412.15 L431.28,411.83 L432.18,411.58 L433.17,411.43 L434.28,411.31 L435.42,411.22 L436.52,411.13 L437.63,411.05 L438.75,410.98 L439.88,410.93 L441.00,410.88 L442.13,410.84 L443.26,410.81 L444.39,410.78 L445.52,410.75 L446.66,410.73 L447.79,410.71 L448.92,410.68 L450.05,410.65 L451.19,410.63 L452.32,410.60 L453.45,410.58 L454.58,410.55 L455.71,410.53 L456.85,410.50 L457.98,410.48 L459.11,410.45 L460.24,410.42 L461.37,410.39 L462.50,410.36 L463.64,410.33 L464.77,410.31 L465.90,410.28 L467.04,410.25 L468.17,410.22 L469.30,410.19 L470.44,410.16 L471.57,410.12 L472.70,410.09 L473.83,410.05 L474.96,410.01 L476.09,409.97 L477.21,409.93 L478.33,409.88 L479.45,409.83 L480.57,409.78 L481.69,409.71 L482.81,409.64 L483.93,409.55 L485.04,409.46 L486.14,409.36 L487.22,409.24 L488.29,409.12 L489.34,408.98 L490.39,408.82 L491.42,408.64 L492.43,408.45 L493.42,408.25 L494.38,408.05 L495.35,407.83 L496.30,407.61 L497.23,407.37 L498.15,407.12 L499.04,406.87 L499.90,406.60 L500.73,406.34 L501.53,406.06 L502.33,405.77 L503.10,405.47 L503.86,405.16 L504.58,404.84 L505.28,404.52 L505.94,404.19 L506.56,403.86 L507.14,403.52 L507.69,403.17 L508.22,402.81 L508.72,402.45 L509.21,402.08 L509.68,401.71 L510.15,401.34 L510.61,400.97 L511.08,400.60 L511.54,400.23 L512.00,399.86 L512.45,399.49 L512.89,399.11 L513.33,398.74 L513.77,398.37 L514.19,397.99 L514.62,397.62 L515.03,397.24 L515.44,396.86 L515.85,396.48 L516.25,396.11 L516.64,395.73 L517.03,395.35 L517.41,394.97 L517.78,394.58 L518.15,394.20 L518.52,393.82 L518.88,393.44 L519.24,393.05 L519.60,392.67 L519.96,392.28 L520.31,391.90 L520.65,391.52 L520.99,391.13 L521.32,390.74 L521.65,390.36 L521.98,389.97 L522.32,389.58 L522.65,389.20 L522.99,388.81 L523.33,388.42 L523.68,388.04 L524.03,387.65 L524.38,387.27 L524.74,386.89 L525.09,386.50 L525.45,386.12 L525.81,385.73 L526.17,385.35 L526.54,384.97 L526.92,384.59 L527.29,384.21 L527.68,383.83 L528.06,383.44 L528.44,383.06 L528.82,382.68 L529.20,382.29 L529.59,381.91 L529.99,381.52 L530.40,381.15 L530.83,380.77 L531.28,380.40 L531.75,380.04 L532.25,379.69 L532.77,379.33 L533.33,378.96 L533.92,378.58 L534.54,378.21 L535.19,377.85 L535.88,377.52 L536.61,377.22 L537.38,376.95 L538.19,376.73 L539.10,376.53 L540.14,376.34 L541.25,376.17 L542.39,376.04 L543.50,375.96 L544.56,375.97 L545.61,376.04 L546.67,376.18 L547.72,376.37 L548.76,376.58 L549.78,376.80 L550.77,377.03 L551.74,377.24 L552.67,377.46 L553.58,377.69 L554.47,377.94 L555.35,378.20 L556.21,378.46 L557.07,378.74 L557.92,379.01 L558.78,379.28 L559.64,379.55 L560.51,379.81 L561.37,380.07 L562.23,380.34 L563.09,380.60 L563.94,380.87 L564.80,381.14 L565.66,381.40 L566.53,381.66 L567.40,381.92 L568.29,382.17 L569.20,382.41 L570.11,382.64 L571.04,382.88 L571.98,383.10 L572.92,383.33 L573.88,383.55 L574.84,383.77 L575.81,383.98 L576.78,384.19 L577.75,384.39 L578.73,384.59 L579.72,384.80 L580.71,385.00 L581.70,385.21 L582.70,385.40 L583.71,385.59 L584.73,385.77 L585.76,385.94 L586.79,386.09 L587.84,386.23 L588.90,386.37 L589.97,386.49 L591.06,386.61 L592.15,386.72 L593.26,386.82 L594.36,386.92 L595.47,387.02 L596.58,387.11 L597.68,387.20 L598.79,387.29 L599.90,387.38 L601.01,387.47 L602.12,387.55 L603.23,387.63 L604.35,387.71 L605.47,387.78 L606.59,387.85 L607.71,387.90 L608.83,387.95 L609.96,387.98 L611.08,388.02 L612.21,388.06 L613.34,388.09 L614.48,388.12 L615.61,388.15 L616.75,388.17 L617.88,388.19 L619.01,388.20 L620.15,388.21 L621.28,388.21 L622.43,388.20 L623.58,388.19 L624.73,388.18 L625.87,388.16 L627.00,388.13 L628.12,388.10 L629.21,388.07 L630.47,387.94 L631.79,387.72 L632.67,387.55 L632.83,387.58 L632.88,387.91 L632.91,388.41 L632.92,388.93 L632.92,389.37 L632.85,389.77 L632.70,390.18 L632.50,390.58 L632.27,390.98 L632.01,391.37 L631.74,391.76 L631.42,392.14 L631.02,392.53 L630.56,392.90 L630.05,393.27 L629.51,393.63 L628.95,393.97 L628.32,394.30 L627.63,394.62 L626.89,394.94 L626.11,395.25 L625.30,395.54 L624.49,395.81 L623.66,396.08 L622.79,396.33 L621.89,396.58 L620.97,396.82 L620.01,397.05 L619.04,397.27 L618.06,397.48 L617.07,397.68 L616.07,397.87 L615.07,398.05 L614.06,398.23 L613.03,398.39 L611.98,398.55 L610.93,398.70 L609.86,398.85 L608.79,398.99 L607.72,399.13 L606.64,399.26 L605.56,399.38 L604.49,399.51 L603.41,399.62 L602.32,399.74 L601.23,399.85 L600.14,399.96 L599.04,400.06 L597.94,400.17 L596.84,400.27 L595.74,400.37 L594.64,400.46 L593.53,400.56 L592.43,400.65 L591.33,400.75 L590.22,400.84 L589.12,400.93 L588.01,401.01 L586.90,401.10 L585.78,401.18 L584.67,401.25 L583.55,401.33 L582.43,401.41 L581.32,401.48 L580.20,401.56 L579.09,401.64 L577.97,401.72 L576.86,401.80 L575.75,401.88 L574.65,401.97 L573.55,402.06 L572.45,402.15 L571.36,402.25 L570.27,402.36 L569.18,402.47 L568.10,402.59 L567.02,402.72 L565.94,402.85 L564.87,402.98 L563.80,403.12 L562.73,403.26 L561.67,403.41 L560.62,403.55 L559.56,403.70 L558.50,403.85 L557.45,404.01 L556.41,404.17 L555.38,404.34 L554.37,404.52 L553.38,404.71 L552.40,404.91 L551.42,405.13 L550.46,405.35 L549.52,405.58 L548.61,405.82 L547.73,406.07 L546.88,406.33 L546.06,406.61 L545.27,406.90 L544.49,407.19 L543.73,407.50 L542.99,407.81 L542.26,408.12 L541.54,408.43 L540.84,408.75 L540.15,409.07 L539.49,409.40 L538.84,409.73 L538.21,410.07 L537.58,410.41 L536.98,410.75 L536.39,411.10 L535.85,411.45 L535.35,411.81 L534.88,412.18 L534.44,412.55 L534.03,412.93 L533.62,413.31 L533.22,413.69 L532.83,414.07 L532.46,414.45 L532.09,414.83 L531.72,415.21 L531.37,415.60 L531.02,415.98 L530.67,416.37 L530.32,416.75 L529.97,417.14 L529.62,417.52 L529.27,417.91 L528.93,418.29 L528.58,418.68 L528.24,419.06 L527.90,419.45 L527.56,419.83 L527.23,420.22 L526.89,420.61 L526.55,420.99 L526.22,421.38 L525.88,421.77 L525.55,422.15 L525.22,422.54 L524.89,422.93 L524.56,423.31 L524.23,423.70 L523.90,424.09 L523.57,424.47 L523.24,424.86 L522.91,425.25 L522.57,425.63 L522.22,426.02 L521.87,426.40 L521.52,426.79 L521.17,427.17 L520.81,427.56 L520.45,427.94 L520.09,428.32 L519.72,428.71 L519.35,429.09 L518.97,429.47 L518.60,429.85 L518.23,430.23 L517.86,430.62 L517.50,431.00 L517.12,431.39 L516.74,431.77 L516.34,432.15 L515.92,432.52 L515.47,432.89 L515.00,433.25 L514.49,433.62 L513.94,433.98 L513.35,434.33 L512.73,434.67 L512.08,434.99 L511.38,435.31 L510.61,435.63 L509.79,435.93 L508.92,436.19 L507.99,436.38 L506.98,436.54 L505.87,436.68 L504.73,436.77 L503.61,436.80 L502.49,436.77 L501.35,436.70 L500.23,436.61 L499.14,436.51 L498.10,436.37 L497.08,436.19 L496.08,435.98 L495.11,435.76 L494.17,435.54 L493.25,435.31 L492.37,435.06 L491.49,434.80 L490.63,434.53 L489.75,434.27 L488.87,434.02 L487.96,433.77 L487.04,433.54 L486.12,433.30 L485.19,433.07 L484.25,432.84 L483.32,432.61 L482.38,432.38 L481.44,432.16 L480.51,431.93 L479.58,431.70 L478.65,431.46 L477.73,431.23 L476.81,430.99 L475.88,430.76 L474.96,430.52 L474.03,430.29 L473.10,430.06 L472.17,429.83 L471.22,429.60 L470.28,429.38 L469.32,429.17 L468.36,428.95 L467.39,428.74 L466.42,428.53 L465.45,428.32 L464.46,428.11 L463.48,427.91 L462.48,427.72 L461.48,427.53 L460.47,427.35 L459.46,427.17 L458.43,427.00 L457.40,426.83 L456.37,426.67 L455.32,426.51 L454.27,426.35 L453.22,426.20 L452.17,426.05 L451.11,425.90 L450.04,425.76 L448.98,425.62 L447.91,425.49 L446.84,425.36 L445.76,425.23 L444.68,425.11 L443.59,424.99 L442.50,424.88 L441.41,424.77 L440.31,424.67 L439.21,424.57 L438.11,424.48 L437.01,424.39 L435.90,424.30 L434.79,424.22 L433.68,424.14 L432.57,424.06 L431.45,423.99 L430.33,423.92 L429.20,423.86" stroke="#ff0000" stroke-width="2.5" fill="none" stroke-linejoin="round"/>
<path d="M429.20,413.51 L429.51,413.02 L429.98,412.58 L430.53,412.18 L431.28,411.80 L432.18,411.50 L433.17,411.32 L434.28,411.18 L435.42,411.06 L436.52,410.96 L437.63,410.87 L438.75,410.78 L439.88,410.71 L441.00,410.66 L442.13,410.61 L443.26,410.57 L444.39,410.54 L445.52,410.51 L446.66,410.48 L447.79,410.45 L448.92,410.42 L450.05,410.39 L451.19,410.36 L452.32,410.33 L453.45,410.30 L454.58,410.27 L455.71,410.24 L456.85,410.21 L457.98,410.18 L459.11,410.14 L460.24,410.11 L461.37,410.07 L462.50,410.04 L463.64,410.01 L464.77,409.97 L465.90,409.94 L467.04,409.90 L468.17,409.87 L469.30,409.83 L470.44,409.79 L471.57,409.75 L472.70,409.71 L473.83,409.67 L474.96,409.62 L476.09,409.57 L477.21,409.52 L478.33,409.46 L479.45,409.40 L480.57,409.34 L481.69,409.26 L482.81,409.17 L483.93,409.07 L485.04,408.96 L486.14,408.83 L487.22,408.70 L488.29,408.56 L489.34,408.38 L490.39,408.19 L491.42,407.97 L492.43,407.75 L493.42,407.51 L494.38,407.27 L495.35,407.01 L496.30,406.74 L497.23,406.45 L498.15,406.16 L499.04,405.85 L499.90,405.54 L500.73,405.22 L501.53,404.89 L502.33,404.54 L503.10,404.18 L503.86,403.81 L504.58,403.43 L505.28,403.04 L505.94,402.65 L506.56,402.25 L507.14,401.85 L507.69,401.43 L508.22,401.00 L508.72,400.57 L509.21,400.12 L509.68,399.68 L510.15,399.23 L510.61,398.79 L511.08,398.34 L511.54,397.90 L512.00,397.46 L512.45,397.02 L512.89,396.57 L513.33,396.12 L513.77,395.68 L514.19,395.23 L514.62,394.78 L515.03,394.33 L515.44,393.87 L515.85,393.42 L516.25,392.97 L516.64,392.52 L517.03,392.06 L517.41,391.60 L517.78,391.15 L518.15,390.69 L518.52,390.23 L518.88,389.77 L519.24,389.31 L519.60,388.85 L519.96,388.39 L520.31,387.93 L520.65,387.47 L520.99,387.01 L521.32,386.55 L521.65,386.08 L521.98,385.62 L522.32,385.16 L522.65,384.69 L522.99,384.23 L523.33,383.77 L523.68,383.31 L524.03,382.85 L524.38,382.39 L524.74,381.93 L525.09,381.47 L525.45,381.01 L525.81,380.55 L526.17,380.09 L526.54,379.63 L526.92,379.18 L527.29,378.72 L527.68,378.26 L528.06,377.81 L528.44,377.35 L528.82,376.89 L529.20,376.43 L529.59,375.97 L529.99,375.51 L530.40,375.06 L530.83,374.61 L531.28,374.17 L531.75,373.73 L532.25,373.31 L532.77,372.88 L533.33,372.43 L533.92,371.99 L534.54,371.54 L535.19,371.11 L535.88,370.71 L536.61,370.35 L537.38,370.03 L538.19,369.77 L539.10,369.53 L540.14,369.30 L541.25,369.09 L542.39,368.94 L543.50,368.85 L544.56,368.85 L545.61,368.95 L546.67,369.11 L547.72,369.33 L548.76,369.59 L549.78,369.86 L550.77,370.13 L551.74,370.38 L552.67,370.64 L553.58,370.92 L554.47,371.21 L555.35,371.52 L556.21,371.84 L557.07,372.17 L557.92,372.50 L558.78,372.82 L559.64,373.14 L560.51,373.46 L561.37,373.77 L562.23,374.09 L563.09,374.41 L563.94,374.73 L564.80,375.05 L565.66,375.36 L566.53,375.67 L567.40,375.98 L568.29,376.28 L569.20,376.57 L570.11,376.85 L571.04,377.13 L571.98,377.40 L572.92,377.67 L573.88,377.93 L574.84,378.19 L575.81,378.45 L576.78,378.70 L577.75,378.94 L578.73,379.19 L579.72,379.43 L580.71,379.68 L581.70,379.92 L582.70,380.15 L583.71,380.38 L584.73,380.59 L585.76,380.80 L586.79,380.98 L587.84,381.15 L588.90,381.31 L589.97,381.45 L591.06,381.59 L592.15,381.73 L593.26,381.85 L594.36,381.97 L595.47,382.09 L596.58,382.20 L597.68,382.31 L598.79,382.41 L599.90,382.52 L601.01,382.62 L602.12,382.73 L603.23,382.82 L604.35,382.92 L605.47,383.00 L606.59,383.08 L607.71,383.15 L608.83,383.20 L609.96,383.24 L611.08,383.29 L612.21,383.33 L613.34,383.37 L614.48,383.41 L615.61,383.44 L616.75,383.47 L617.88,383.49 L619.01,383.51 L620.15,383.51 L621.28,383.51 L622.43,383.51 L623.58,383.49 L624.73,383.48 L625.87,383.45 L627.00,383.42 L628.12,383.38 L629.21,383.34 L630.47,383.19 L631.79,382.93 L632.67,382.72 L632.83,382.76 L632.88,383.15 L632.91,383.75 L632.92,384.38 L632.92,384.90 L632.85,385.38 L632.70,385.87 L632.50,386.35 L632.27,386.83 L632.01,387.30 L631.74,387.76 L631.42,388.23 L631.02,388.68 L630.56,389.14 L630.05,389.58 L629.51,390.00 L628.95,390.41 L628.32,390.80 L627.63,391.19 L626.89,391.57 L626.11,391.94 L625.30,392.29 L624.49,392.62 L623.66,392.93 L622.79,393.24 L621.89,393.53 L620.97,393.82 L620.01,394.09 L619.04,394.36 L618.06,394.61 L617.07,394.86 L616.07,395.08 L615.07,395.30 L614.06,395.51 L613.03,395.71 L611.98,395.90 L610.93,396.08 L609.86,396.25 L608.79,396.42 L607.72,396.59 L606.64,396.74 L605.56,396.89 L604.49,397.04 L603.41,397.18 L602.32,397.32 L601.23,397.45 L600.14,397.58 L599.04,397.71 L597.94,397.83 L596.84,397.95 L595.74,398.07 L594.64,398.18 L593.53,398.30 L592.43,398.41 L591.33,398.52 L590.22,398.64 L589.12,398.74 L588.01,398.84 L586.90,398.94 L585.78,399.04 L584.67,399.13 L583.55,399.22 L582.43,399.32 L581.32,399.41 L580.20,399.50 L579.09,399.59 L577.97,399.69 L576.86,399.78 L575.75,399.88 L574.65,399.99 L573.55,400.10 L572.45,400.21 L571.36,400.33 L570.27,400.46 L569.18,400.59 L568.10,400.74 L567.02,400.89 L565.94,401.04 L564.87,401.20 L563.80,401.37 L562.73,401.54 L561.67,401.71 L560.62,401.88 L559.56,402.06 L558.50,402.24 L557.45,402.43 L556.41,402.63 L555.38,402.83 L554.37,403.05 L553.38,403.27 L552.40,403.51 L551.42,403.77 L550.46,404.03 L549.52,404.31 L548.61,404.60 L547.73,404.90 L546.88,405.21 L546.06,405.54 L545.27,405.89 L544.49,406.25 L543.73,406.61 L542.99,406.98 L542.26,407.35 L541.54,407.73 L540.84,408.11 L540.15,408.49 L539.49,408.89 L538.84,409.28 L538.21,409.68 L537.58,410.09 L536.98,410.50 L536.39,410.92 L535.85,411.34 L535.35,411.77 L534.88,412.21 L534.44,412.66 L534.03,413.11 L533.62,413.57 L533.22,414.02 L532.83,414.47 L532.46,414.93 L532.09,415.39 L531.72,415.85 L531.37,416.31 L531.02,416.77 L530.67,417.23 L530.32,417.69 L529.97,418.15 L529.62,418.61 L529.27,419.07 L528.93,419.53 L528.58,420.00 L528.24,420.46 L527.90,420.92 L527.56,421.38 L527.23,421.84 L526.89,422.31 L526.55,422.77 L526.22,423.23 L525.88,423.69 L525.55,424.16 L525.22,424.62 L524.89,425.08 L524.56,425.55 L524.23,426.01 L523.90,426.47 L523.57,426.94 L523.24,427.40 L522.91,427.86 L522.57,428.32 L522.22,428.79 L521.87,429.25 L521.52,429.71 L521.17,430.17 L520.81,430.63 L520.45,431.09 L520.09,431.54 L519.72,432.00 L519.35,432.46 L518.97,432.92 L518.60,433.37 L518.23,433.83 L517.86,434.29 L517.50,434.76 L517.12,435.21 L516.74,435.67 L516.34,436.13 L515.92,436.57 L515.47,437.01 L515.00,437.45 L514.49,437.88 L513.94,438.31 L513.35,438.74 L512.73,439.14 L512.08,439.53 L511.38,439.91 L510.61,440.29 L509.79,440.66 L508.92,440.97 L507.99,441.20 L506.98,441.38 L505.87,441.55 L504.73,441.66 L503.61,441.69 L502.49,441.66 L501.35,441.57 L500.23,441.47 L499.14,441.34 L498.10,441.18 L497.08,440.97 L496.08,440.72 L495.11,440.45 L494.17,440.19 L493.25,439.91 L492.37,439.61 L491.49,439.30 L490.63,438.98 L489.75,438.67 L488.87,438.36 L487.96,438.07 L487.04,437.79 L486.12,437.51 L485.19,437.23 L484.25,436.95 L483.32,436.68 L482.38,436.41 L481.44,436.13 L480.51,435.86 L479.58,435.58 L478.65,435.30 L477.73,435.02 L476.81,434.74 L475.88,434.46 L474.96,434.18 L474.03,433.90 L473.10,433.62 L472.17,433.35 L471.22,433.08 L470.28,432.81 L469.32,432.55 L468.36,432.30 L467.39,432.04 L466.42,431.79 L465.45,431.54 L464.46,431.30 L463.48,431.06 L462.48,430.82 L461.48,430.60 L460.47,430.38 L459.46,430.17 L458.43,429.96 L457.40,429.76 L456.37,429.56 L455.32,429.37 L454.27,429.18 L453.22,429.00 L452.17,428.82 L451.11,428.64 L450.04,428.48 L448.98,428.31 L447.91,428.15 L446.84,427.99 L445.76,427.84 L444.68,427.69 L443.59,427.55 L442.50,427.42 L441.41,427.29 L440.31,427.17 L439.21,427.06 L438.11,426.94 L437.01,426.83 L435.90,426.73 L434.79,426.63 L433.68,426.53 L432.57,426.44 L431.45,426.35 L430.33,426.27 L429.20,426.20" stroke="#00f000" stroke-width="2.5" fill="none" stroke-linejoin="round"/>
<path d="M429.20,413.78 L429.51,413.20 L429.98,412.68 L430.53,412.21 L431.28,411.76 L432.18,411.41 L433.17,411.20 L434.28,411.03 L435.42,410.90 L436.52,410.78 L437.63,410.67 L438.75,410.57 L439.88,410.49 L441.00,410.42 L442.13,410.37 L443.26,410.32 L444.39,410.28 L445.52,410.25 L446.66,410.21 L447.79,410.18 L448.92,410.14 L450.05,410.11 L451.19,410.07 L452.32,410.03 L453.45,410.00 L454.58,409.96 L455.71,409.93 L456.85,409.89 L457.98,409.86 L459.11,409.82 L460.24,409.78 L461.37,409.74 L462.50,409.69 L463.64,409.65 L464.77,409.62 L465.90,409.58 L467.04,409.53 L468.17,409.49 L469.30,409.45 L470.44,409.41 L471.57,409.36 L472.70,409.31 L473.83,409.26 L474.96,409.20 L476.09,409.15 L477.21,409.08 L478.33,409.02 L479.45,408.95 L480.57,408.87 L481.69,408.78 L482.81,408.67 L483.93,408.55 L485.04,408.42 L486.14,408.28 L487.22,408.12 L488.29,407.95 L489.34,407.75 L490.39,407.52 L491.42,407.27 L492.43,407.00 L493.42,406.72 L494.38,406.44 L495.35,406.13 L496.30,405.81 L497.23,405.48 L498.15,405.13 L499.04,404.77 L499.90,404.40 L500.73,404.03 L501.53,403.64 L502.33,403.23 L503.10,402.81 L503.86,402.37 L504.58,401.92 L505.28,401.47 L505.94,401.01 L506.56,400.54 L507.14,400.06 L507.69,399.57 L508.22,399.07 L508.72,398.55 L509.21,398.04 L509.68,397.51 L510.15,396.99 L510.61,396.46 L511.08,395.94 L511.54,395.42 L512.00,394.90 L512.45,394.38 L512.89,393.86 L513.33,393.33 L513.77,392.81 L514.19,392.28 L514.62,391.75 L515.03,391.22 L515.44,390.69 L515.85,390.16 L516.25,389.62 L516.64,389.09 L517.03,388.56 L517.41,388.02 L517.78,387.48 L518.15,386.94 L518.52,386.40 L518.88,385.86 L519.24,385.32 L519.60,384.78 L519.96,384.24 L520.31,383.70 L520.65,383.16 L520.99,382.62 L521.32,382.07 L521.65,381.53 L521.98,380.98 L522.32,380.44 L522.65,379.89 L522.99,379.35 L523.33,378.81 L523.68,378.27 L524.03,377.72 L524.38,377.18 L524.74,376.64 L525.09,376.10 L525.45,375.56 L525.81,375.02 L526.17,374.48 L526.54,373.94 L526.92,373.40 L527.29,372.87 L527.68,372.33 L528.06,371.80 L528.44,371.26 L528.82,370.71 L529.20,370.17 L529.59,369.63 L529.99,369.09 L530.40,368.56 L530.83,368.03 L531.28,367.51 L531.75,367.00 L532.25,366.50 L532.77,366.00 L533.33,365.48 L533.92,364.95 L534.54,364.43 L535.19,363.93 L535.88,363.45 L536.61,363.03 L537.38,362.65 L538.19,362.35 L539.10,362.07 L540.14,361.79 L541.25,361.55 L542.39,361.37 L543.50,361.26 L544.56,361.27 L545.61,361.38 L546.67,361.57 L547.72,361.83 L548.76,362.13 L549.78,362.45 L550.77,362.77 L551.74,363.07 L552.67,363.37 L553.58,363.70 L554.47,364.04 L555.35,364.41 L556.21,364.78 L557.07,365.17 L557.92,365.55 L558.78,365.94 L559.64,366.31 L560.51,366.68 L561.37,367.05 L562.23,367.42 L563.09,367.80 L563.94,368.17 L564.80,368.55 L565.66,368.92 L566.53,369.29 L567.40,369.65 L568.29,370.00 L569.20,370.34 L570.11,370.67 L571.04,371.00 L571.98,371.32 L572.92,371.63 L573.88,371.94 L574.84,372.25 L575.81,372.55 L576.78,372.84 L577.75,373.13 L578.73,373.42 L579.72,373.71 L580.71,373.99 L581.70,374.28 L582.70,374.55 L583.71,374.82 L584.73,375.07 L585.76,375.31 L586.79,375.53 L587.84,375.73 L588.90,375.91 L589.97,376.08 L591.06,376.25 L592.15,376.40 L593.26,376.55 L594.36,376.69 L595.47,376.83 L596.58,376.96 L597.68,377.09 L598.79,377.21 L599.90,377.34 L601.01,377.46 L602.12,377.58 L603.23,377.69 L604.35,377.80 L605.47,377.90 L606.59,377.99 L607.71,378.07 L608.83,378.14 L609.96,378.19 L611.08,378.24 L612.21,378.29 L613.34,378.34 L614.48,378.38 L615.61,378.42 L616.75,378.45 L617.88,378.48 L619.01,378.50 L620.15,378.51 L621.28,378.50 L622.43,378.50 L623.58,378.48 L624.73,378.46 L625.87,378.43 L627.00,378.40 L628.12,378.35 L629.21,378.30 L630.47,378.13 L631.79,377.81 L632.67,377.57 L632.83,377.62 L632.88,378.08 L632.91,378.78 L632.92,379.52 L632.92,380.14 L632.85,380.71 L632.70,381.27 L632.50,381.84 L632.27,382.40 L632.01,382.96 L631.74,383.50 L631.42,384.05 L631.02,384.58 L630.56,385.12 L630.05,385.63 L629.51,386.13 L628.95,386.61 L628.32,387.08 L627.63,387.54 L626.89,387.98 L626.11,388.41 L625.30,388.82 L624.49,389.21 L623.66,389.58 L622.79,389.94 L621.89,390.29 L620.97,390.62 L620.01,390.95 L619.04,391.26 L618.06,391.56 L617.07,391.84 L616.07,392.11 L615.07,392.36 L614.06,392.61 L613.03,392.84 L611.98,393.06 L610.93,393.28 L609.86,393.49 L608.79,393.69 L607.72,393.88 L606.64,394.06 L605.56,394.24 L604.49,394.41 L603.41,394.58 L602.32,394.74 L601.23,394.89 L600.14,395.05 L599.04,395.19 L597.94,395.34 L596.84,395.48 L595.74,395.62 L594.64,395.76 L593.53,395.89 L592.43,396.02 L591.33,396.16 L590.22,396.29 L589.12,396.41 L588.01,396.53 L586.90,396.65 L585.78,396.76 L584.67,396.87 L583.55,396.98 L582.43,397.09 L581.32,397.19 L580.20,397.30 L579.09,397.41 L577.97,397.52 L576.86,397.63 L575.75,397.75 L574.65,397.87 L573.55,398.00 L572.45,398.14 L571.36,398.28 L570.27,398.43 L569.18,398.59 L568.10,398.76 L567.02,398.93 L565.94,399.12 L564.87,399.31 L563.80,399.50 L562.73,399.70 L561.67,399.90 L560.62,400.10 L559.56,400.31 L558.50,400.53 L557.45,400.75 L556.41,400.98 L555.38,401.22 L554.37,401.47 L553.38,401.74 L552.40,402.02 L551.42,402.32 L550.46,402.63 L549.52,402.96 L548.61,403.30 L547.73,403.65 L546.88,404.02 L546.06,404.41 L545.27,404.81 L544.49,405.23 L543.73,405.66 L542.99,406.10 L542.26,406.53 L541.54,406.97 L540.84,407.42 L540.15,407.88 L539.49,408.34 L538.84,408.81 L538.21,409.28 L537.58,409.75 L536.98,410.24 L536.39,410.73 L535.85,411.23 L535.35,411.73 L534.88,412.25 L534.44,412.78 L534.03,413.31 L533.62,413.84 L533.22,414.38 L532.83,414.91 L532.46,415.45 L532.09,415.98 L531.72,416.52 L531.37,417.06 L531.02,417.61 L530.67,418.15 L530.32,418.69 L529.97,419.23 L529.62,419.77 L529.27,420.32 L528.93,420.86 L528.58,421.40 L528.24,421.94 L527.90,422.49 L527.56,423.03 L527.23,423.57 L526.89,424.12 L526.55,424.66 L526.22,425.21 L525.88,425.75 L525.55,426.29 L525.22,426.84 L524.89,427.38 L524.56,427.93 L524.23,428.47 L523.90,429.02 L523.57,429.56 L523.24,430.11 L522.91,430.65 L522.57,431.19 L522.22,431.74 L521.87,432.28 L521.52,432.82 L521.17,433.36 L520.81,433.90 L520.45,434.44 L520.09,434.98 L519.72,435.52 L519.35,436.06 L518.97,436.59 L518.60,437.13 L518.23,437.67 L517.86,438.21 L517.50,438.76 L517.12,439.30 L516.74,439.83 L516.34,440.37 L515.92,440.89 L515.47,441.41 L515.00,441.92 L514.49,442.43 L513.94,442.94 L513.35,443.44 L512.73,443.92 L512.08,444.37 L511.38,444.82 L510.61,445.27 L509.79,445.70 L508.92,446.06 L507.99,446.33 L506.98,446.55 L505.87,446.74 L504.73,446.87 L503.61,446.91 L502.49,446.87 L501.35,446.77 L500.23,446.65 L499.14,446.50 L498.10,446.31 L497.08,446.06 L496.08,445.76 L495.11,445.45 L494.17,445.15 L493.25,444.81 L492.37,444.46 L491.49,444.09 L490.63,443.72 L489.75,443.35 L488.87,443.00 L487.96,442.65 L487.04,442.32 L486.12,441.99 L485.19,441.67 L484.25,441.34 L483.32,441.02 L482.38,440.70 L481.44,440.38 L480.51,440.05 L479.58,439.73 L478.65,439.40 L477.73,439.07 L476.81,438.74 L475.88,438.41 L474.96,438.07 L474.03,437.75 L473.10,437.42 L472.17,437.10 L471.22,436.78 L470.28,436.47 L469.32,436.17 L468.36,435.87 L467.39,435.57 L466.42,435.27 L465.45,434.98 L464.46,434.69 L463.48,434.41 L462.48,434.13 L461.48,433.87 L460.47,433.61 L459.46,433.36 L458.43,433.12 L457.40,432.88 L456.37,432.65 L455.32,432.42 L454.27,432.20 L453.22,431.99 L452.17,431.78 L451.11,431.57 L450.04,431.37 L448.98,431.18 L447.91,430.99 L446.84,430.81 L445.76,430.63 L444.68,430.45 L443.59,430.29 L442.50,430.13 L441.41,429.98 L440.31,429.84 L439.21,429.70 L438.11,429.57 L437.01,429.44 L435.90,429.32 L434.79,429.20 L433.68,429.09 L432.57,428.98 L431.45,428.88 L430.33,428.78 L429.20,428.70" stroke="#0000ff" stroke-width="2.5" fill="none" stroke-linejoin="round"/>
<path d="M429.20,414.03 L429.51,413.37 L429.98,412.77 L430.53,412.24 L431.28,411.73 L432.18,411.33 L433.17,411.08 L434.28,410.90 L435.42,410.75 L436.52,410.61 L437.63,410.48 L438.75,410.37 L439.88,410.28 L441.00,410.20 L442.13,410.14 L443.26,410.09 L444.39,410.04 L445.52,410.00 L446.66,409.96 L447.79,409.92 L448.92,409.88 L450.05,409.84 L451.19,409.80 L452.32,409.76 L453.45,409.72 L454.58,409.68 L455.71,409.64 L456.85,409.60 L457.98,409.55 L459.11,409.51 L460.24,409.47 L461.37,409.42 L462.50,409.37 L463.64,409.33 L464.77,409.28 L465.90,409.24 L467.04,409.19 L468.17,409.14 L469.30,409.09 L470.44,409.04 L471.57,408.99 L472.70,408.93 L473.83,408.87 L474.96,408.81 L476.09,408.75 L477.21,408.68 L478.33,408.60 L479.45,408.52 L480.57,408.43 L481.69,408.33 L482.81,408.21 L483.93,408.07 L485.04,407.92 L486.14,407.75 L487.22,407.58 L488.29,407.38 L489.34,407.15 L490.39,406.89 L491.42,406.60 L492.43,406.30 L493.42,405.98 L494.38,405.66 L495.35,405.31 L496.30,404.95 L497.23,404.57 L498.15,404.17 L499.04,403.76 L499.90,403.34 L500.73,402.91 L501.53,402.46 L502.33,402.00 L503.10,401.52 L503.86,401.02 L504.58,400.51 L505.28,399.99 L505.94,399.46 L506.56,398.93 L507.14,398.39 L507.69,397.83 L508.22,397.25 L508.72,396.67 L509.21,396.08 L509.68,395.48 L510.15,394.88 L510.61,394.29 L511.08,393.69 L511.54,393.10 L512.00,392.51 L512.45,391.91 L512.89,391.31 L513.33,390.72 L513.77,390.11 L514.19,389.51 L514.62,388.91 L515.03,388.31 L515.44,387.70 L515.85,387.09 L516.25,386.49 L516.64,385.88 L517.03,385.27 L517.41,384.66 L517.78,384.04 L518.15,383.43 L518.52,382.82 L518.88,382.20 L519.24,381.58 L519.60,380.97 L519.96,380.35 L520.31,379.73 L520.65,379.12 L520.99,378.50 L521.32,377.88 L521.65,377.26 L521.98,376.63 L522.32,376.01 L522.65,375.39 L522.99,374.77 L523.33,374.15 L523.68,373.54 L524.03,372.92 L524.38,372.30 L524.74,371.68 L525.09,371.07 L525.45,370.45 L525.81,369.84 L526.17,369.22 L526.54,368.61 L526.92,367.99 L527.29,367.38 L527.68,366.77 L528.06,366.16 L528.44,365.54 L528.82,364.93 L529.20,364.31 L529.59,363.69 L529.99,363.08 L530.40,362.47 L530.83,361.87 L531.28,361.28 L531.75,360.70 L532.25,360.13 L532.77,359.55 L533.33,358.96 L533.92,358.35 L534.54,357.76 L535.19,357.19 L535.88,356.65 L536.61,356.16 L537.38,355.74 L538.19,355.39 L539.10,355.07 L540.14,354.75 L541.25,354.48 L542.39,354.27 L543.50,354.15 L544.56,354.16 L545.61,354.28 L546.67,354.50 L547.72,354.80 L548.76,355.14 L549.78,355.50 L550.77,355.87 L551.74,356.20 L552.67,356.55 L553.58,356.92 L554.47,357.32 L555.35,357.74 L556.21,358.16 L557.07,358.60 L557.92,359.04 L558.78,359.48 L559.64,359.91 L560.51,360.33 L561.37,360.75 L562.23,361.17 L563.09,361.60 L563.94,362.03 L564.80,362.46 L565.66,362.88 L566.53,363.30 L567.40,363.71 L568.29,364.11 L569.20,364.49 L570.11,364.87 L571.04,365.25 L571.98,365.61 L572.92,365.97 L573.88,366.33 L574.84,366.68 L575.81,367.02 L576.78,367.35 L577.75,367.68 L578.73,368.01 L579.72,368.34 L580.71,368.67 L581.70,368.99 L582.70,369.30 L583.71,369.61 L584.73,369.90 L585.76,370.17 L586.79,370.42 L587.84,370.64 L588.90,370.85 L589.97,371.05 L591.06,371.24 L592.15,371.41 L593.26,371.58 L594.36,371.74 L595.47,371.90 L596.58,372.05 L597.68,372.19 L598.79,372.33 L599.90,372.48 L601.01,372.62 L602.12,372.75 L603.23,372.89 L604.35,373.01 L605.47,373.12 L606.59,373.23 L607.71,373.32 L608.83,373.39 L609.96,373.45 L611.08,373.51 L612.21,373.57 L613.34,373.62 L614.48,373.67 L615.61,373.71 L616.75,373.75 L617.88,373.78 L619.01,373.80 L620.15,373.81 L621.28,373.81 L622.43,373.80 L623.58,373.78 L624.73,373.76 L625.87,373.73 L627.00,373.69 L628.12,373.64 L629.21,373.58 L630.47,373.38 L631.79,373.02 L632.67,372.75 L632.83,372.80 L632.88,373.33 L632.91,374.12 L632.92,374.97 L632.92,375.67 L632.85,376.32 L632.70,376.97 L632.50,377.61 L632.27,378.25 L632.01,378.89 L631.74,379.51 L631.42,380.13 L631.02,380.74 L630.56,381.35 L630.05,381.94 L629.51,382.51 L628.95,383.05 L628.32,383.58 L627.63,384.11 L626.89,384.61 L626.11,385.10 L625.30,385.57 L624.49,386.02 L623.66,386.44 L622.79,386.85 L621.89,387.24 L620.97,387.62 L620.01,387.99 L619.04,388.35 L618.06,388.69 L617.07,389.01 L616.07,389.32 L615.07,389.61 L614.06,389.89 L613.03,390.15 L611.98,390.41 L610.93,390.66 L609.86,390.89 L608.79,391.12 L607.72,391.34 L606.64,391.55 L605.56,391.75 L604.49,391.94 L603.41,392.13 L602.32,392.32 L601.23,392.50 L600.14,392.67 L599.04,392.84 L597.94,393.00 L596.84,393.16 L595.74,393.32 L594.64,393.48 L593.53,393.63 L592.43,393.78 L591.33,393.93 L590.22,394.08 L589.12,394.23 L588.01,394.36 L586.90,394.50 L585.78,394.62 L584.67,394.75 L583.55,394.87 L582.43,394.99 L581.32,395.12 L580.20,395.24 L579.09,395.36 L577.97,395.49 L576.86,395.62 L575.75,395.75 L574.65,395.89 L573.55,396.04 L572.45,396.19 L571.36,396.35 L570.27,396.53 L569.18,396.71 L568.10,396.90 L567.02,397.10 L565.94,397.31 L564.87,397.53 L563.80,397.75 L562.73,397.97 L561.67,398.20 L560.62,398.44 L559.56,398.67 L558.50,398.92 L557.45,399.17 L556.41,399.43 L555.38,399.71 L554.37,400.00 L553.38,400.30 L552.40,400.62 L551.42,400.96 L550.46,401.32 L549.52,401.69 L548.61,402.08 L547.73,402.48 L546.88,402.90 L546.06,403.34 L545.27,403.81 L544.49,404.29 L543.73,404.78 L542.99,405.27 L542.26,405.77 L541.54,406.27 L540.84,406.78 L540.15,407.30 L539.49,407.83 L538.84,408.36 L538.21,408.90 L537.58,409.44 L536.98,409.99 L536.39,410.55 L535.85,411.12 L535.35,411.70 L534.88,412.29 L534.44,412.89 L534.03,413.49 L533.62,414.10 L533.22,414.71 L532.83,415.32 L532.46,415.93 L532.09,416.54 L531.72,417.16 L531.37,417.77 L531.02,418.39 L530.67,419.01 L530.32,419.63 L529.97,420.25 L529.62,420.86 L529.27,421.48 L528.93,422.10 L528.58,422.72 L528.24,423.34 L527.90,423.96 L527.56,424.58 L527.23,425.20 L526.89,425.82 L526.55,426.44 L526.22,427.06 L525.88,427.68 L525.55,428.30 L525.22,428.92 L524.89,429.54 L524.56,430.16 L524.23,430.78 L523.90,431.40 L523.57,432.03 L523.24,432.65 L522.91,433.27 L522.57,433.88 L522.22,434.50 L521.87,435.12 L521.52,435.74 L521.17,436.35 L520.81,436.97 L520.45,437.59 L520.09,438.20 L519.72,438.82 L519.35,439.43 L518.97,440.04 L518.60,440.66 L518.23,441.27 L517.86,441.89 L517.50,442.51 L517.12,443.12 L516.74,443.74 L516.34,444.34 L515.92,444.94 L515.47,445.54 L515.00,446.12 L514.49,446.70 L513.94,447.28 L513.35,447.84 L512.73,448.39 L512.08,448.91 L511.38,449.42 L510.61,449.93 L509.79,450.42 L508.92,450.84 L507.99,451.14 L506.98,451.39 L505.87,451.61 L504.73,451.76 L503.61,451.81 L502.49,451.76 L501.35,451.65 L500.23,451.50 L499.14,451.34 L498.10,451.12 L497.08,450.83 L496.08,450.50 L495.11,450.14 L494.17,449.79 L493.25,449.42 L492.37,449.01 L491.49,448.59 L490.63,448.17 L489.75,447.75 L488.87,447.34 L487.96,446.95 L487.04,446.57 L486.12,446.20 L485.19,445.82 L484.25,445.46 L483.32,445.09 L482.38,444.72 L481.44,444.36 L480.51,443.99 L479.58,443.62 L478.65,443.24 L477.73,442.86 L476.81,442.49 L475.88,442.11 L474.96,441.73 L474.03,441.36 L473.10,440.98 L472.17,440.62 L471.22,440.26 L470.28,439.90 L469.32,439.56 L468.36,439.21 L467.39,438.87 L466.42,438.53 L465.45,438.20 L464.46,437.87 L463.48,437.55 L462.48,437.24 L461.48,436.93 L460.47,436.64 L459.46,436.36 L458.43,436.08 L457.40,435.81 L456.37,435.55 L455.32,435.29 L454.27,435.03 L453.22,434.79 L452.17,434.55 L451.11,434.31 L450.04,434.09 L448.98,433.87 L447.91,433.65 L446.84,433.44 L445.76,433.24 L444.68,433.04 L443.59,432.85 L442.50,432.67 L441.41,432.50 L440.31,432.34 L439.21,432.19 L438.11,432.03 L437.01,431.89 L435.90,431.75 L434.79,431.61 L433.68,431.48 L432.57,431.36 L431.45,431.24 L430.33,431.14 L429.20,431.04" stroke="#00ffff" stroke-width="2.5" fill="none" stroke-linejoin="round"/>
<path d="M429.20,414.29 L429.51,413.55 L429.98,412.88 L430.53,412.27 L431.28,411.69 L432.18,411.24 L433.17,410.96 L434.28,410.75 L435.42,410.58 L436.52,410.43 L437.63,410.28 L438.75,410.16 L439.88,410.05 L441.00,409.96 L442.13,409.90 L443.26,409.84 L444.39,409.79 L445.52,409.74 L446.66,409.69 L447.79,409.65 L448.92,409.61 L450.05,409.56 L451.19,409.51 L452.32,409.46 L453.45,409.42 L454.58,409.37 L455.71,409.33 L456.85,409.28 L457.98,409.23 L459.11,409.18 L460.24,409.13 L461.37,409.08 L462.50,409.03 L463.64,408.98 L464.77,408.92 L465.90,408.87 L467.04,408.82 L468.17,408.77 L469.30,408.71 L470.44,408.65 L471.57,408.59 L472.70,408.53 L473.83,408.46 L474.96,408.39 L476.09,408.32 L477.21,408.24 L478.33,408.15 L479.45,408.06 L480.57,407.96 L481.69,407.85 L482.81,407.71 L483.93,407.56 L485.04,407.39 L486.14,407.20 L487.22,407.00 L488.29,406.78 L489.34,406.52 L490.39,406.22 L491.42,405.89 L492.43,405.55 L493.42,405.19 L494.38,404.82 L495.35,404.43 L496.30,404.02 L497.23,403.59 L498.15,403.14 L499.04,402.68 L499.90,402.20 L500.73,401.72 L501.53,401.21 L502.33,400.69 L503.10,400.14 L503.86,399.58 L504.58,399.01 L505.28,398.42 L505.94,397.82 L506.56,397.22 L507.14,396.60 L507.69,395.97 L508.22,395.32 L508.72,394.66 L509.21,393.99 L509.68,393.32 L510.15,392.64 L510.61,391.96 L511.08,391.29 L511.54,390.62 L512.00,389.95 L512.45,389.28 L512.89,388.60 L513.33,387.92 L513.77,387.24 L514.19,386.56 L514.62,385.88 L515.03,385.20 L515.44,384.51 L515.85,383.83 L516.25,383.14 L516.64,382.45 L517.03,381.76 L517.41,381.07 L517.78,380.38 L518.15,379.68 L518.52,378.99 L518.88,378.29 L519.24,377.60 L519.60,376.90 L519.96,376.20 L520.31,375.50 L520.65,374.80 L520.99,374.10 L521.32,373.40 L521.65,372.70 L521.98,372.00 L522.32,371.29 L522.65,370.59 L522.99,369.89 L523.33,369.19 L523.68,368.49 L524.03,367.79 L524.38,367.10 L524.74,366.40 L525.09,365.70 L525.45,365.00 L525.81,364.31 L526.17,363.61 L526.54,362.92 L526.92,362.22 L527.29,361.53 L527.68,360.84 L528.06,360.15 L528.44,359.45 L528.82,358.75 L529.20,358.05 L529.59,357.36 L529.99,356.66 L530.40,355.98 L530.83,355.30 L531.28,354.63 L531.75,353.97 L532.25,353.32 L532.77,352.67 L533.33,352.00 L533.92,351.32 L534.54,350.65 L535.19,350.00 L535.88,349.39 L536.61,348.84 L537.38,348.36 L538.19,347.96 L539.10,347.60 L540.14,347.25 L541.25,346.93 L542.39,346.70 L543.50,346.56 L544.56,346.57 L545.61,346.71 L546.67,346.96 L547.72,347.29 L548.76,347.68 L549.78,348.09 L550.77,348.50 L551.74,348.89 L552.67,349.28 L553.58,349.70 L554.47,350.15 L555.35,350.62 L556.21,351.10 L557.07,351.60 L557.92,352.10 L558.78,352.59 L559.64,353.08 L560.51,353.55 L561.37,354.02 L562.23,354.51 L563.09,354.99 L563.94,355.48 L564.80,355.96 L565.66,356.44 L566.53,356.91 L567.40,357.38 L568.29,357.83 L569.20,358.26 L570.11,358.69 L571.04,359.12 L571.98,359.53 L572.92,359.94 L573.88,360.34 L574.84,360.73 L575.81,361.12 L576.78,361.50 L577.75,361.87 L578.73,362.24 L579.72,362.61 L580.71,362.98 L581.70,363.35 L582.70,363.70 L583.71,364.05 L584.73,364.37 L585.76,364.68 L586.79,364.96 L587.84,365.22 L588.90,365.45 L589.97,365.68 L591.06,365.89 L592.15,366.09 L593.26,366.28 L594.36,366.46 L595.47,366.64 L596.58,366.81 L597.68,366.97 L598.79,367.13 L599.90,367.29 L601.01,367.45 L602.12,367.61 L603.23,367.76 L604.35,367.90 L605.47,368.03 L606.59,368.14 L607.71,368.24 L608.83,368.33 L609.96,368.39 L611.08,368.46 L612.21,368.52 L613.34,368.59 L614.48,368.64 L615.61,368.69 L616.75,368.73 L617.88,368.77 L619.01,368.79 L620.15,368.80 L621.28,368.80 L622.43,368.79 L623.58,368.77 L624.73,368.74 L625.87,368.71 L627.00,368.66 L628.12,368.61 L629.21,368.54 L630.47,368.31 L631.79,367.91 L632.67,367.60 L632.83,367.66 L632.88,368.26 L632.91,369.16 L632.92,370.12 L632.92,370.91 L632.85,371.64 L632.70,372.37 L632.50,373.10 L632.27,373.83 L632.01,374.54 L631.74,375.25 L631.42,375.95 L631.02,376.64 L630.56,377.33 L630.05,377.99 L629.51,378.64 L628.95,379.25 L628.32,379.86 L627.63,380.45 L626.89,381.02 L626.11,381.58 L625.30,382.11 L624.49,382.61 L623.66,383.09 L622.79,383.55 L621.89,383.99 L620.97,384.43 L620.01,384.85 L619.04,385.25 L618.06,385.63 L617.07,386.00 L616.07,386.35 L615.07,386.68 L614.06,386.99 L613.03,387.29 L611.98,387.58 L610.93,387.86 L609.86,388.12 L608.79,388.38 L607.72,388.63 L606.64,388.86 L605.56,389.09 L604.49,389.31 L603.41,389.53 L602.32,389.74 L601.23,389.94 L600.14,390.13 L599.04,390.33 L597.94,390.51 L596.84,390.69 L595.74,390.87 L594.64,391.05 L593.53,391.22 L592.43,391.39 L591.33,391.56 L590.22,391.73 L589.12,391.90 L588.01,392.05 L586.90,392.20 L585.78,392.35 L584.67,392.49 L583.55,392.63 L582.43,392.76 L581.32,392.90 L580.20,393.04 L579.09,393.18 L577.97,393.33 L576.86,393.47 L575.75,393.62 L574.65,393.78 L573.55,393.95 L572.45,394.12 L571.36,394.30 L570.27,394.50 L569.18,394.70 L568.10,394.92 L567.02,395.15 L565.94,395.38 L564.87,395.63 L563.80,395.88 L562.73,396.13 L561.67,396.39 L560.62,396.66 L559.56,396.93 L558.50,397.20 L557.45,397.49 L556.41,397.79 L555.38,398.10 L554.37,398.42 L553.38,398.77 L552.40,399.13 L551.42,399.52 L550.46,399.92 L549.52,400.34 L548.61,400.78 L547.73,401.23 L546.88,401.70 L546.06,402.21 L545.27,402.73 L544.49,403.27 L543.73,403.83 L542.99,404.39 L542.26,404.95 L541.54,405.52 L540.84,406.10 L540.15,406.68 L539.49,407.28 L538.84,407.88 L538.21,408.49 L537.58,409.10 L536.98,409.73 L536.39,410.36 L535.85,411.00 L535.35,411.66 L534.88,412.32 L534.44,413.00 L534.03,413.69 L533.62,414.38 L533.22,415.06 L532.83,415.75 L532.46,416.44 L532.09,417.14 L531.72,417.83 L531.37,418.53 L531.02,419.23 L530.67,419.93 L530.32,420.63 L529.97,421.33 L529.62,422.03 L529.27,422.73 L528.93,423.43 L528.58,424.12 L528.24,424.82 L527.90,425.53 L527.56,426.23 L527.23,426.93 L526.89,427.63 L526.55,428.33 L526.22,429.03 L525.88,429.73 L525.55,430.43 L525.22,431.14 L524.89,431.84 L524.56,432.54 L524.23,433.25 L523.90,433.95 L523.57,434.65 L523.24,435.35 L522.91,436.05 L522.57,436.76 L522.22,437.45 L521.87,438.15 L521.52,438.85 L521.17,439.55 L520.81,440.25 L520.45,440.94 L520.09,441.64 L519.72,442.33 L519.35,443.03 L518.97,443.72 L518.60,444.41 L518.23,445.11 L517.86,445.81 L517.50,446.51 L517.12,447.20 L516.74,447.90 L516.34,448.59 L515.92,449.26 L515.47,449.93 L515.00,450.59 L514.49,451.25 L513.94,451.91 L513.35,452.55 L512.73,453.16 L512.08,453.75 L511.38,454.32 L510.61,454.91 L509.79,455.46 L508.92,455.93 L507.99,456.28 L506.98,456.56 L505.87,456.81 L504.73,456.98 L503.61,457.03 L502.49,456.97 L501.35,456.85 L500.23,456.68 L499.14,456.50 L498.10,456.26 L497.08,455.93 L496.08,455.55 L495.11,455.15 L494.17,454.75 L493.25,454.32 L492.37,453.87 L491.49,453.39 L490.63,452.91 L489.75,452.44 L488.87,451.98 L487.96,451.54 L487.04,451.11 L486.12,450.68 L485.19,450.26 L484.25,449.84 L483.32,449.43 L482.38,449.01 L481.44,448.60 L480.51,448.18 L479.58,447.76 L478.65,447.34 L477.73,446.91 L476.81,446.48 L475.88,446.06 L474.96,445.63 L474.03,445.21 L473.10,444.79 L472.17,444.37 L471.22,443.96 L470.28,443.56 L469.32,443.17 L468.36,442.78 L467.39,442.39 L466.42,442.01 L465.45,441.63 L464.46,441.26 L463.48,440.90 L462.48,440.54 L461.48,440.20 L460.47,439.87 L459.46,439.55 L458.43,439.24 L457.40,438.93 L456.37,438.63 L455.32,438.34 L454.27,438.05 L453.22,437.78 L452.17,437.50 L451.11,437.24 L450.04,436.99 L448.98,436.74 L447.91,436.49 L446.84,436.25 L445.76,436.02 L444.68,435.80 L443.59,435.58 L442.50,435.38 L441.41,435.19 L440.31,435.01 L439.21,434.83 L438.11,434.66 L437.01,434.50 L435.90,434.34 L434.79,434.18 L433.68,434.04 L432.57,433.90 L431.45,433.77 L430.33,433.65 L429.20,433.53" stroke="#ff00ff" stroke-width="2.5" fill="none" stroke-linejoin="round"/>
<path d="M429.20,414.54 L429.51,413.72 L429.98,412.97 L430.53,412.30 L431.28,411.66 L432.18,411.16 L433.17,410.85 L434.28,410.62 L435.42,410.43 L436.52,410.25 L437.63,410.10 L438.75,409.96 L439.88,409.84 L441.00,409.74 L442.13,409.67 L443.26,409.60 L444.39,409.54 L445.52,409.49 L446.66,409.44 L447.79,409.40 L448.92,409.35 L450.05,409.29 L451.19,409.24 L452.32,409.19 L453.45,409.14 L454.58,409.09 L455.71,409.04 L456.85,408.99 L457.98,408.93 L459.11,408.88 L460.24,408.82 L461.37,408.76 L462.50,408.70 L463.64,408.65 L464.77,408.59 L465.90,408.53 L467.04,408.47 L468.17,408.42 L469.30,408.35 L470.44,408.29 L471.57,408.22 L472.70,408.15 L473.83,408.08 L474.96,408.00 L476.09,407.92 L477.21,407.83 L478.33,407.74 L479.45,407.64 L480.57,407.53 L481.69,407.40 L482.81,407.25 L483.93,407.07 L485.04,406.88 L486.14,406.68 L487.22,406.45 L488.29,406.21 L489.34,405.92 L490.39,405.59 L491.42,405.23 L492.43,404.85 L493.42,404.45 L494.38,404.04 L495.35,403.61 L496.30,403.15 L497.23,402.68 L498.15,402.18 L499.04,401.67 L499.90,401.14 L500.73,400.60 L501.53,400.04 L502.33,399.46 L503.10,398.85 L503.86,398.23 L504.58,397.59 L505.28,396.94 L505.94,396.28 L506.56,395.61 L507.14,394.93 L507.69,394.23 L508.22,393.51 L508.72,392.77 L509.21,392.03 L509.68,391.29 L510.15,390.54 L510.61,389.79 L511.08,389.04 L511.54,388.30 L512.00,387.55 L512.45,386.81 L512.89,386.06 L513.33,385.31 L513.77,384.55 L514.19,383.80 L514.62,383.04 L515.03,382.28 L515.44,381.53 L515.85,380.77 L516.25,380.00 L516.64,379.24 L517.03,378.48 L517.41,377.71 L517.78,376.94 L518.15,376.17 L518.52,375.40 L518.88,374.63 L519.24,373.86 L519.60,373.08 L519.96,372.31 L520.31,371.54 L520.65,370.76 L520.99,369.98 L521.32,369.21 L521.65,368.43 L521.98,367.65 L522.32,366.87 L522.65,366.09 L522.99,365.31 L523.33,364.54 L523.68,363.76 L524.03,362.99 L524.38,362.21 L524.74,361.44 L525.09,360.67 L525.45,359.89 L525.81,359.12 L526.17,358.35 L526.54,357.58 L526.92,356.81 L527.29,356.05 L527.68,355.28 L528.06,354.51 L528.44,353.74 L528.82,352.97 L529.20,352.19 L529.59,351.42 L529.99,350.65 L530.40,349.89 L530.83,349.13 L531.28,348.39 L531.75,347.66 L532.25,346.95 L532.77,346.22 L533.33,345.48 L533.92,344.72 L534.54,343.98 L535.19,343.26 L535.88,342.58 L536.61,341.97 L537.38,341.44 L538.19,341.00 L539.10,340.60 L540.14,340.21 L541.25,339.86 L542.39,339.60 L543.50,339.45 L544.56,339.46 L545.61,339.62 L546.67,339.89 L547.72,340.26 L548.76,340.69 L549.78,341.15 L550.77,341.60 L551.74,342.03 L552.67,342.46 L553.58,342.93 L554.47,343.43 L555.35,343.95 L556.21,344.49 L557.07,345.03 L557.92,345.58 L558.78,346.13 L559.64,346.67 L560.51,347.20 L561.37,347.72 L562.23,348.26 L563.09,348.79 L563.94,349.33 L564.80,349.87 L565.66,350.40 L566.53,350.92 L567.40,351.44 L568.29,351.94 L569.20,352.42 L570.11,352.90 L571.04,353.37 L571.98,353.83 L572.92,354.28 L573.88,354.72 L574.84,355.16 L575.81,355.59 L576.78,356.01 L577.75,356.42 L578.73,356.83 L579.72,357.24 L580.71,357.65 L581.70,358.06 L582.70,358.46 L583.71,358.84 L584.73,359.20 L585.76,359.54 L586.79,359.85 L587.84,360.13 L588.90,360.39 L589.97,360.64 L591.06,360.88 L592.15,361.10 L593.26,361.31 L594.36,361.52 L595.47,361.71 L596.58,361.90 L597.68,362.08 L598.79,362.25 L599.90,362.43 L601.01,362.61 L602.12,362.78 L603.23,362.95 L604.35,363.10 L605.47,363.25 L606.59,363.37 L607.71,363.49 L608.83,363.58 L609.96,363.65 L611.08,363.73 L612.21,363.80 L613.34,363.87 L614.48,363.93 L615.61,363.98 L616.75,364.03 L617.88,364.07 L619.01,364.09 L620.15,364.11 L621.28,364.10 L622.43,364.09 L623.58,364.07 L624.73,364.04 L625.87,364.00 L627.00,363.95 L628.12,363.89 L629.21,363.82 L630.47,363.56 L631.79,363.12 L632.67,362.77 L632.83,362.84 L632.88,363.50 L632.91,364.50 L632.92,365.56 L632.92,366.44 L632.85,367.25 L632.70,368.06 L632.50,368.88 L632.27,369.68 L632.01,370.47 L631.74,371.25 L631.42,372.03 L631.02,372.80 L630.56,373.56 L630.05,374.30 L629.51,375.01 L628.95,375.69 L628.32,376.36 L627.63,377.02 L626.89,377.66 L626.11,378.27 L625.30,378.86 L624.49,379.42 L623.66,379.94 L622.79,380.45 L621.89,380.95 L620.97,381.43 L620.01,381.89 L619.04,382.34 L618.06,382.77 L617.07,383.17 L616.07,383.56 L615.07,383.92 L614.06,384.27 L613.03,384.60 L611.98,384.92 L610.93,385.23 L609.86,385.53 L608.79,385.81 L607.72,386.09 L606.64,386.35 L605.56,386.60 L604.49,386.85 L603.41,387.09 L602.32,387.32 L601.23,387.54 L600.14,387.76 L599.04,387.97 L597.94,388.18 L596.84,388.38 L595.74,388.58 L594.64,388.77 L593.53,388.96 L592.43,389.15 L591.33,389.34 L590.22,389.53 L589.12,389.71 L588.01,389.88 L586.90,390.05 L585.78,390.21 L584.67,390.37 L583.55,390.52 L582.43,390.67 L581.32,390.83 L580.20,390.98 L579.09,391.14 L577.97,391.30 L576.86,391.46 L575.75,391.63 L574.65,391.80 L573.55,391.99 L572.45,392.18 L571.36,392.38 L570.27,392.59 L569.18,392.82 L568.10,393.06 L567.02,393.32 L565.94,393.58 L564.87,393.85 L563.80,394.13 L562.73,394.41 L561.67,394.70 L560.62,394.99 L559.56,395.29 L558.50,395.59 L557.45,395.91 L556.41,396.24 L555.38,396.59 L554.37,396.95 L553.38,397.33 L552.40,397.73 L551.42,398.16 L550.46,398.61 L549.52,399.07 L548.61,399.56 L547.73,400.06 L546.88,400.58 L546.06,401.14 L545.27,401.72 L544.49,402.33 L543.73,402.94 L542.99,403.56 L542.26,404.18 L541.54,404.81 L540.84,405.45 L540.15,406.10 L539.49,406.76 L538.84,407.43 L538.21,408.11 L537.58,408.79 L536.98,409.48 L536.39,410.18 L535.85,410.90 L535.35,411.62 L534.88,412.36 L534.44,413.11 L534.03,413.87 L533.62,414.63 L533.22,415.40 L532.83,416.16 L532.46,416.93 L532.09,417.70 L531.72,418.47 L531.37,419.24 L531.02,420.02 L530.67,420.79 L530.32,421.57 L529.97,422.34 L529.62,423.12 L529.27,423.89 L528.93,424.67 L528.58,425.44 L528.24,426.22 L527.90,427.00 L527.56,427.77 L527.23,428.55 L526.89,429.33 L526.55,430.10 L526.22,430.88 L525.88,431.66 L525.55,432.44 L525.22,433.22 L524.89,434.00 L524.56,434.78 L524.23,435.56 L523.90,436.33 L523.57,437.11 L523.24,437.89 L522.91,438.67 L522.57,439.45 L522.22,440.22 L521.87,441.00 L521.52,441.77 L521.17,442.54 L520.81,443.32 L520.45,444.09 L520.09,444.86 L519.72,445.63 L519.35,446.40 L518.97,447.17 L518.60,447.94 L518.23,448.71 L517.86,449.48 L517.50,450.26 L517.12,451.03 L516.74,451.80 L516.34,452.56 L515.92,453.32 L515.47,454.06 L515.00,454.79 L514.49,455.52 L513.94,456.24 L513.35,456.95 L512.73,457.64 L512.08,458.29 L511.38,458.92 L510.61,459.57 L509.79,460.18 L508.92,460.71 L507.99,461.09 L506.98,461.40 L505.87,461.68 L504.73,461.87 L503.61,461.92 L502.49,461.86 L501.35,461.72 L500.23,461.54 L499.14,461.34 L498.10,461.07 L497.08,460.70 L496.08,460.28 L495.11,459.84 L494.17,459.40 L493.25,458.92 L492.37,458.42 L491.49,457.89 L490.63,457.36 L489.75,456.83 L488.87,456.32 L487.96,455.83 L487.04,455.36 L486.12,454.89 L485.19,454.42 L484.25,453.96 L483.32,453.50 L482.38,453.04 L481.44,452.58 L480.51,452.12 L479.58,451.65 L478.65,451.18 L477.73,450.71 L476.81,450.23 L475.88,449.76 L474.96,449.28 L474.03,448.81 L473.10,448.35 L472.17,447.89 L471.22,447.44 L470.28,446.99 L469.32,446.56 L468.36,446.13 L467.39,445.70 L466.42,445.27 L465.45,444.85 L464.46,444.44 L463.48,444.04 L462.48,443.65 L461.48,443.27 L460.47,442.90 L459.46,442.55 L458.43,442.20 L457.40,441.86 L456.37,441.53 L455.32,441.20 L454.27,440.89 L453.22,440.58 L452.17,440.28 L451.11,439.98 L450.04,439.70 L448.98,439.43 L447.91,439.16 L446.84,438.89 L445.76,438.63 L444.68,438.39 L443.59,438.15 L442.50,437.92 L441.41,437.71 L440.31,437.51 L439.21,437.31 L438.11,437.12 L437.01,436.94 L435.90,436.76 L434.79,436.60 L433.68,436.43 L432.57,436.28 L431.45,436.13 L430.33,436.00 L429.20,435.87" stroke="#ffff00" stroke-width="2.5" fill="none" stroke-linejoin="round"/>
<path d="M429.20,414.79 L429.51,413.89 L429.98,413.07 L430.53,412.33 L431.28,411.63 L432.18,411.08 L433.17,410.74 L434.28,410.48 L435.42,410.27 L436.52,410.08 L437.63,409.91 L438.75,409.76 L439.88,409.63 L441.00,409.52 L442.13,409.44 L443.26,409.37 L444.39,409.30 L445.52,409.25 L446.66,409.19 L447.79,409.14 L448.92,409.08 L450.05,409.03 L451.19,408.97 L452.32,408.91 L453.45,408.86 L454.58,408.80 L455.71,408.75 L456.85,408.69 L457.98,408.63 L459.11,408.57 L460.24,408.51 L461.37,408.44 L462.50,408.38 L463.64,408.32 L464.77,408.26 L465.90,408.19 L467.04,408.13 L468.17,408.06 L469.30,408.00 L470.44,407.93 L471.57,407.85 L472.70,407.78 L473.83,407.70 L474.96,407.61 L476.09,407.52 L477.21,407.42 L478.33,407.32 L479.45,407.21 L480.57,407.09 L481.69,406.95 L482.81,406.78 L483.93,406.59 L485.04,406.38 L486.14,406.15 L487.22,405.91 L488.29,405.64 L489.34,405.32 L490.39,404.96 L491.42,404.57 L492.43,404.15 L493.42,403.71 L494.38,403.26 L495.35,402.79 L496.30,402.29 L497.23,401.76 L498.15,401.22 L499.04,400.65 L499.90,400.07 L500.73,399.48 L501.53,398.87 L502.33,398.23 L503.10,397.57 L503.86,396.88 L504.58,396.18 L505.28,395.46 L505.94,394.74 L506.56,394.00 L507.14,393.25 L507.69,392.48 L508.22,391.69 L508.72,390.89 L509.21,390.08 L509.68,389.25 L510.15,388.43 L510.61,387.61 L511.08,386.79 L511.54,385.97 L512.00,385.16 L512.45,384.34 L512.89,383.51 L513.33,382.69 L513.77,381.86 L514.19,381.03 L514.62,380.20 L515.03,379.37 L515.44,378.54 L515.85,377.70 L516.25,376.87 L516.64,376.03 L517.03,375.19 L517.41,374.35 L517.78,373.50 L518.15,372.66 L518.52,371.81 L518.88,370.96 L519.24,370.12 L519.60,369.27 L519.96,368.42 L520.31,367.57 L520.65,366.72 L520.99,365.86 L521.32,365.01 L521.65,364.15 L521.98,363.30 L522.32,362.44 L522.65,361.59 L522.99,360.74 L523.33,359.89 L523.68,359.03 L524.03,358.18 L524.38,357.33 L524.74,356.48 L525.09,355.63 L525.45,354.79 L525.81,353.94 L526.17,353.09 L526.54,352.25 L526.92,351.40 L527.29,350.56 L527.68,349.72 L528.06,348.88 L528.44,348.03 L528.82,347.18 L529.20,346.33 L529.59,345.48 L529.99,344.63 L530.40,343.80 L530.83,342.97 L531.28,342.15 L531.75,341.35 L532.25,340.57 L532.77,339.78 L533.33,338.96 L533.92,338.13 L534.54,337.31 L535.19,336.52 L535.88,335.78 L536.61,335.11 L537.38,334.52 L538.19,334.04 L539.10,333.60 L540.14,333.17 L541.25,332.79 L542.39,332.50 L543.50,332.34 L544.56,332.35 L545.61,332.52 L546.67,332.82 L547.72,333.23 L548.76,333.70 L549.78,334.20 L550.77,334.70 L551.74,335.17 L552.67,335.64 L553.58,336.16 L554.47,336.70 L555.35,337.28 L556.21,337.87 L557.07,338.47 L557.92,339.07 L558.78,339.67 L559.64,340.27 L560.51,340.84 L561.37,341.42 L562.23,342.01 L563.09,342.60 L563.94,343.19 L564.80,343.78 L565.66,344.36 L566.53,344.94 L567.40,345.50 L568.29,346.05 L569.20,346.58 L570.11,347.10 L571.04,347.62 L571.98,348.12 L572.92,348.62 L573.88,349.11 L574.84,349.59 L575.81,350.06 L576.78,350.52 L577.75,350.97 L578.73,351.42 L579.72,351.87 L580.71,352.33 L581.70,352.77 L582.70,353.21 L583.71,353.62 L584.73,354.02 L585.76,354.39 L586.79,354.74 L587.84,355.05 L588.90,355.33 L589.97,355.61 L591.06,355.87 L592.15,356.11 L593.26,356.34 L594.36,356.57 L595.47,356.78 L596.58,356.98 L597.68,357.18 L598.79,357.38 L599.90,357.57 L601.01,357.77 L602.12,357.96 L603.23,358.14 L604.35,358.31 L605.47,358.47 L606.59,358.61 L607.71,358.73 L608.83,358.83 L609.96,358.91 L611.08,358.99 L612.21,359.07 L613.34,359.15 L614.48,359.22 L615.61,359.28 L616.75,359.33 L617.88,359.37 L619.01,359.40 L620.15,359.41 L621.28,359.41 L622.43,359.40 L623.58,359.37 L624.73,359.34 L625.87,359.29 L627.00,359.24 L628.12,359.17 L629.21,359.09 L630.47,358.81 L631.79,358.33 L632.67,357.95 L632.83,358.02 L632.88,358.75 L632.91,359.84 L632.92,361.01 L632.92,361.97 L632.85,362.86 L632.70,363.76 L632.50,364.65 L632.27,365.53 L632.01,366.40 L631.74,367.26 L631.42,368.11 L631.02,368.96 L630.56,369.79 L630.05,370.60 L629.51,371.39 L628.95,372.14 L628.32,372.87 L627.63,373.59 L626.89,374.29 L626.11,374.96 L625.30,375.61 L624.49,376.22 L623.66,376.80 L622.79,377.36 L621.89,377.91 L620.97,378.43 L620.01,378.94 L619.04,379.43 L618.06,379.90 L617.07,380.35 L616.07,380.77 L615.07,381.17 L614.06,381.55 L613.03,381.92 L611.98,382.27 L610.93,382.61 L609.86,382.93 L608.79,383.24 L607.72,383.54 L606.64,383.83 L605.56,384.11 L604.49,384.38 L603.41,384.64 L602.32,384.90 L601.23,385.14 L600.14,385.38 L599.04,385.61 L597.94,385.84 L596.84,386.06 L595.74,386.28 L594.64,386.49 L593.53,386.71 L592.43,386.92 L591.33,387.12 L590.22,387.33 L589.12,387.52 L588.01,387.71 L586.90,387.90 L585.78,388.07 L584.67,388.25 L583.55,388.41 L582.43,388.58 L581.32,388.75 L580.20,388.92 L579.09,389.09 L577.97,389.27 L576.86,389.44 L575.75,389.63 L574.65,389.82 L573.55,390.02 L572.45,390.23 L571.36,390.46 L570.27,390.69 L569.18,390.94 L568.10,391.21 L567.02,391.48 L565.94,391.77 L564.87,392.07 L563.80,392.37 L562.73,392.68 L561.67,393.00 L560.62,393.32 L559.56,393.65 L558.50,393.99 L557.45,394.33 L556.41,394.70 L555.38,395.07 L554.37,395.47 L553.38,395.89 L552.40,396.33 L551.42,396.80 L550.46,397.29 L549.52,397.81 L548.61,398.34 L547.73,398.89 L546.88,399.47 L546.06,400.08 L545.27,400.72 L544.49,401.38 L543.73,402.05 L542.99,402.74 L542.26,403.42 L541.54,404.11 L540.84,404.81 L540.15,405.53 L539.49,406.25 L538.84,406.98 L538.21,407.72 L537.58,408.47 L536.98,409.23 L536.39,410.00 L535.85,410.79 L535.35,411.58 L534.88,412.39 L534.44,413.22 L534.03,414.05 L533.62,414.89 L533.22,415.73 L532.83,416.57 L532.46,417.41 L532.09,418.25 L531.72,419.10 L531.37,419.95 L531.02,420.80 L530.67,421.65 L530.32,422.51 L529.97,423.36 L529.62,424.21 L529.27,425.06 L528.93,425.91 L528.58,426.76 L528.24,427.61 L527.90,428.47 L527.56,429.32 L527.23,430.17 L526.89,431.03 L526.55,431.88 L526.22,432.73 L525.88,433.59 L525.55,434.44 L525.22,435.30 L524.89,436.15 L524.56,437.01 L524.23,437.86 L523.90,438.72 L523.57,439.58 L523.24,440.43 L522.91,441.28 L522.57,442.14 L522.22,442.99 L521.87,443.84 L521.52,444.69 L521.17,445.54 L520.81,446.39 L520.45,447.23 L520.09,448.08 L519.72,448.93 L519.35,449.77 L518.97,450.62 L518.60,451.46 L518.23,452.31 L517.86,453.16 L517.50,454.01 L517.12,454.86 L516.74,455.70 L516.34,456.54 L515.92,457.37 L515.47,458.18 L515.00,458.98 L514.49,459.78 L513.94,460.58 L513.35,461.36 L512.73,462.11 L512.08,462.83 L511.38,463.52 L510.61,464.24 L509.79,464.91 L508.92,465.48 L507.99,465.90 L506.98,466.24 L505.87,466.55 L504.73,466.75 L503.61,466.82 L502.49,466.75 L501.35,466.60 L500.23,466.40 L499.14,466.17 L498.10,465.88 L497.08,465.48 L496.08,465.01 L495.11,464.52 L494.17,464.04 L493.25,463.52 L492.37,462.97 L491.49,462.39 L490.63,461.81 L489.75,461.23 L488.87,460.67 L487.96,460.13 L487.04,459.61 L486.12,459.09 L485.19,458.58 L484.25,458.07 L483.32,457.57 L482.38,457.06 L481.44,456.56 L480.51,456.05 L479.58,455.54 L478.65,455.02 L477.73,454.50 L476.81,453.98 L475.88,453.46 L474.96,452.94 L474.03,452.42 L473.10,451.91 L472.17,451.41 L471.22,450.91 L470.28,450.42 L469.32,449.95 L468.36,449.47 L467.39,449.00 L466.42,448.53 L465.45,448.07 L464.46,447.62 L463.48,447.18 L462.48,446.75 L461.48,446.33 L460.47,445.93 L459.46,445.54 L458.43,445.16 L457.40,444.79 L456.37,444.42 L455.32,444.07 L454.27,443.72 L453.22,443.38 L452.17,443.05 L451.11,442.73 L450.04,442.42 L448.98,442.11 L447.91,441.82 L446.84,441.53 L445.76,441.24 L444.68,440.97 L443.59,440.71 L442.50,440.46 L441.41,440.23 L440.31,440.01 L439.21,439.80 L438.11,439.59 L437.01,439.39 L435.90,439.19 L434.79,439.01 L433.68,438.83 L432.57,438.66 L431.45,438.50 L430.33,438.35 L429.20,438.21" stroke="#808000" stroke-width="2.5" fill="none" stroke-linejoin="round"/>
<path d="M429.20,415.05 L429.51,414.07 L429.98,413.17 L430.53,412.36 L431.28,411.59 L432.18,410.99 L433.17,410.62 L434.28,410.34 L435.42,410.11 L436.52,409.90 L437.63,409.71 L438.75,409.54 L439.88,409.40 L441.00,409.29 L442.13,409.19 L443.26,409.12 L444.39,409.05 L445.52,408.98 L446.66,408.93 L447.79,408.87 L448.92,408.81 L450.05,408.74 L451.19,408.68 L452.32,408.62 L453.45,408.56 L454.58,408.50 L455.71,408.44 L456.85,408.37 L457.98,408.31 L459.11,408.25 L460.24,408.18 L461.37,408.11 L462.50,408.04 L463.64,407.97 L464.77,407.90 L465.90,407.83 L467.04,407.76 L468.17,407.69 L469.30,407.62 L470.44,407.54 L471.57,407.46 L472.70,407.37 L473.83,407.29 L474.96,407.19 L476.09,407.09 L477.21,406.99 L478.33,406.87 L479.45,406.75 L480.57,406.62 L481.69,406.46 L482.81,406.28 L483.93,406.08 L485.04,405.85 L486.14,405.60 L487.22,405.33 L488.29,405.04 L489.34,404.69 L490.39,404.29 L491.42,403.86 L492.43,403.40 L493.42,402.92 L494.38,402.43 L495.35,401.91 L496.30,401.36 L497.23,400.79 L498.15,400.19 L499.04,399.57 L499.90,398.94 L500.73,398.29 L501.53,397.62 L502.33,396.92 L503.10,396.19 L503.86,395.44 L504.58,394.67 L505.28,393.89 L505.94,393.09 L506.56,392.29 L507.14,391.47 L507.69,390.62 L508.22,389.76 L508.72,388.88 L509.21,387.99 L509.68,387.09 L510.15,386.19 L510.61,385.28 L511.08,384.39 L511.54,383.50 L512.00,382.60 L512.45,381.70 L512.89,380.80 L513.33,379.90 L513.77,378.99 L514.19,378.08 L514.62,377.18 L515.03,376.26 L515.44,375.35 L515.85,374.44 L516.25,373.52 L516.64,372.60 L517.03,371.68 L517.41,370.76 L517.78,369.84 L518.15,368.91 L518.52,367.98 L518.88,367.06 L519.24,366.13 L519.60,365.20 L519.96,364.27 L520.31,363.34 L520.65,362.40 L520.99,361.47 L521.32,360.53 L521.65,359.60 L521.98,358.66 L522.32,357.72 L522.65,356.79 L522.99,355.85 L523.33,354.92 L523.68,353.99 L524.03,353.06 L524.38,352.13 L524.74,351.20 L525.09,350.27 L525.45,349.34 L525.81,348.41 L526.17,347.48 L526.54,346.55 L526.92,345.63 L527.29,344.71 L527.68,343.79 L528.06,342.87 L528.44,341.94 L528.82,341.00 L529.20,340.07 L529.59,339.14 L529.99,338.22 L530.40,337.30 L530.83,336.39 L531.28,335.50 L531.75,334.62 L532.25,333.76 L532.77,332.90 L533.33,332.00 L533.92,331.09 L534.54,330.19 L535.19,329.33 L535.88,328.52 L536.61,327.78 L537.38,327.14 L538.19,326.62 L539.10,326.14 L540.14,325.66 L541.25,325.25 L542.39,324.93 L543.50,324.75 L544.56,324.76 L545.61,324.95 L546.67,325.28 L547.72,325.73 L548.76,326.24 L549.78,326.79 L550.77,327.34 L551.74,327.85 L552.67,328.37 L553.58,328.93 L554.47,329.53 L555.35,330.16 L556.21,330.81 L557.07,331.46 L557.92,332.13 L558.78,332.79 L559.64,333.43 L560.51,334.07 L561.37,334.70 L562.23,335.34 L563.09,335.99 L563.94,336.63 L564.80,337.28 L565.66,337.92 L566.53,338.55 L567.40,339.17 L568.29,339.77 L569.20,340.35 L570.11,340.92 L571.04,341.49 L571.98,342.04 L572.92,342.58 L573.88,343.12 L574.84,343.64 L575.81,344.16 L576.78,344.66 L577.75,345.16 L578.73,345.65 L579.72,346.15 L580.71,346.64 L581.70,347.13 L582.70,347.61 L583.71,348.06 L584.73,348.50 L585.76,348.91 L586.79,349.28 L587.84,349.62 L588.90,349.94 L589.97,350.24 L591.06,350.52 L592.15,350.79 L593.26,351.04 L594.36,351.29 L595.47,351.52 L596.58,351.74 L597.68,351.96 L598.79,352.17 L599.90,352.39 L601.01,352.60 L602.12,352.81 L603.23,353.01 L604.35,353.20 L605.47,353.37 L606.59,353.52 L607.71,353.66 L608.83,353.77 L609.96,353.86 L611.08,353.95 L612.21,354.03 L613.34,354.11 L614.48,354.19 L615.61,354.26 L616.75,354.31 L617.88,354.36 L619.01,354.39 L620.15,354.40 L621.28,354.40 L622.43,354.39 L623.58,354.36 L624.73,354.32 L625.87,354.27 L627.00,354.21 L628.12,354.14 L629.21,354.06 L630.47,353.75 L631.79,353.21 L632.67,352.80 L632.83,352.88 L632.88,353.67 L632.91,354.88 L632.92,356.15 L632.92,357.21 L632.85,358.18 L632.70,359.16 L632.50,360.14 L632.27,361.10 L632.01,362.06 L631.74,363.00 L631.42,363.93 L631.02,364.86 L630.56,365.77 L630.05,366.66 L629.51,367.52 L628.95,368.34 L628.32,369.14 L627.63,369.93 L626.89,370.70 L626.11,371.44 L625.30,372.14 L624.49,372.81 L623.66,373.45 L622.79,374.06 L621.89,374.66 L620.97,375.24 L620.01,375.80 L619.04,376.33 L618.06,376.84 L617.07,377.33 L616.07,377.80 L615.07,378.23 L614.06,378.65 L613.03,379.05 L611.98,379.44 L610.93,379.81 L609.86,380.16 L608.79,380.51 L607.72,380.83 L606.64,381.15 L605.56,381.46 L604.49,381.75 L603.41,382.04 L602.32,382.32 L601.23,382.58 L600.14,382.85 L599.04,383.10 L597.94,383.35 L596.84,383.59 L595.74,383.83 L594.64,384.07 L593.53,384.30 L592.43,384.53 L591.33,384.75 L590.22,384.98 L589.12,385.19 L588.01,385.40 L586.90,385.60 L585.78,385.79 L584.67,385.98 L583.55,386.17 L582.43,386.35 L581.32,386.54 L580.20,386.72 L579.09,386.91 L577.97,387.10 L576.86,387.30 L575.75,387.50 L574.65,387.71 L573.55,387.93 L572.45,388.16 L571.36,388.40 L570.27,388.66 L569.18,388.94 L568.10,389.23 L567.02,389.53 L565.94,389.84 L564.87,390.17 L563.80,390.50 L562.73,390.85 L561.67,391.19 L560.62,391.54 L559.56,391.90 L558.50,392.27 L557.45,392.65 L556.41,393.05 L555.38,393.46 L554.37,393.90 L553.38,394.36 L552.40,394.84 L551.42,395.36 L550.46,395.89 L549.52,396.46 L548.61,397.04 L547.73,397.64 L546.88,398.27 L546.06,398.94 L545.27,399.64 L544.49,400.37 L543.73,401.11 L542.99,401.85 L542.26,402.60 L541.54,403.36 L540.84,404.13 L540.15,404.91 L539.49,405.70 L538.84,406.51 L538.21,407.32 L537.58,408.14 L536.98,408.97 L536.39,409.81 L535.85,410.67 L535.35,411.54 L534.88,412.43 L534.44,413.34 L534.03,414.25 L533.62,415.17 L533.22,416.08 L532.83,417.00 L532.46,417.93 L532.09,418.85 L531.72,419.78 L531.37,420.71 L531.02,421.64 L530.67,422.57 L530.32,423.51 L529.97,424.44 L529.62,425.37 L529.27,426.30 L528.93,427.23 L528.58,428.17 L528.24,429.10 L527.90,430.03 L527.56,430.97 L527.23,431.90 L526.89,432.84 L526.55,433.77 L526.22,434.71 L525.88,435.64 L525.55,436.58 L525.22,437.52 L524.89,438.45 L524.56,439.39 L524.23,440.33 L523.90,441.26 L523.57,442.20 L523.24,443.14 L522.91,444.07 L522.57,445.01 L522.22,445.94 L521.87,446.87 L521.52,447.80 L521.17,448.73 L520.81,449.66 L520.45,450.59 L520.09,451.52 L519.72,452.44 L519.35,453.37 L518.97,454.29 L518.60,455.22 L518.23,456.15 L517.86,457.08 L517.50,458.01 L517.12,458.94 L516.74,459.86 L516.34,460.78 L515.92,461.69 L515.47,462.58 L515.00,463.46 L514.49,464.34 L513.94,465.21 L513.35,466.06 L512.73,466.89 L512.08,467.67 L511.38,468.43 L510.61,469.21 L509.79,469.95 L508.92,470.57 L507.99,471.03 L506.98,471.41 L505.87,471.74 L504.73,471.97 L503.61,472.04 L502.49,471.96 L501.35,471.80 L500.23,471.58 L499.14,471.33 L498.10,471.01 L497.08,470.57 L496.08,470.06 L495.11,469.53 L494.17,469.00 L493.25,468.43 L492.37,467.82 L491.49,467.19 L490.63,466.55 L489.75,465.92 L488.87,465.30 L487.96,464.72 L487.04,464.14 L486.12,463.57 L485.19,463.01 L484.25,462.46 L483.32,461.90 L482.38,461.35 L481.44,460.80 L480.51,460.24 L479.58,459.68 L478.65,459.12 L477.73,458.55 L476.81,457.98 L475.88,457.41 L474.96,456.84 L474.03,456.27 L473.10,455.71 L472.17,455.16 L471.22,454.62 L470.28,454.08 L469.32,453.56 L468.36,453.04 L467.39,452.52 L466.42,452.01 L465.45,451.51 L464.46,451.01 L463.48,450.53 L462.48,450.06 L461.48,449.60 L460.47,449.16 L459.46,448.74 L458.43,448.32 L457.40,447.91 L456.37,447.51 L455.32,447.12 L454.27,446.74 L453.22,446.37 L452.17,446.01 L451.11,445.66 L450.04,445.31 L448.98,444.98 L447.91,444.66 L446.84,444.34 L445.76,444.03 L444.68,443.73 L443.59,443.45 L442.50,443.17 L441.41,442.92 L440.31,442.68 L439.21,442.44 L438.11,442.22 L437.01,442.00 L435.90,441.78 L434.79,441.58 L433.68,441.38 L432.57,441.20 L431.45,441.02 L430.33,440.86 L429.20,440.71" stroke="#000080" stroke-width="2.5" fill="none" stroke-linejoin="round"/>
<path d="M429.20,415.30 L429.51,414.24 L429.98,413.26 L430.53,412.39 L431.28,411.56 L432.18,410.91 L433.17,410.51 L434.28,410.20 L435.42,409.95 L436.52,409.73 L437.63,409.52 L438.75,409.34 L439.88,409.19 L441.00,409.06 L442.13,408.97 L443.26,408.88 L444.39,408.81 L445.52,408.74 L446.66,408.67 L447.79,408.61 L448.92,408.55 L450.05,408.48 L451.19,408.41 L452.32,408.34 L453.45,408.28 L454.58,408.21 L455.71,408.15 L456.85,408.08 L457.98,408.01 L459.11,407.94 L460.24,407.87 L461.37,407.79 L462.50,407.71 L463.64,407.64 L464.77,407.56 L465.90,407.49 L467.04,407.41 L468.17,407.34 L469.30,407.26 L470.44,407.17 L471.57,407.09 L472.70,407.00 L473.83,406.90 L474.96,406.80 L476.09,406.69 L477.21,406.58 L478.33,406.45 L479.45,406.32 L480.57,406.18 L481.69,406.01 L482.81,405.82 L483.93,405.59 L485.04,405.35 L486.14,405.08 L487.22,404.79 L488.29,404.47 L489.34,404.09 L490.39,403.66 L491.42,403.19 L492.43,402.70 L493.42,402.18 L494.38,401.65 L495.35,401.09 L496.30,400.49 L497.23,399.87 L498.15,399.23 L499.04,398.56 L499.90,397.87 L500.73,397.17 L501.53,396.45 L502.33,395.69 L503.10,394.90 L503.86,394.09 L504.58,393.26 L505.28,392.41 L505.94,391.55 L506.56,390.68 L507.14,389.80 L507.69,388.88 L508.22,387.95 L508.72,386.99 L509.21,386.03 L509.68,385.06 L510.15,384.08 L510.61,383.11 L511.08,382.14 L511.54,381.17 L512.00,380.20 L512.45,379.23 L512.89,378.26 L513.33,377.28 L513.77,376.30 L514.19,375.32 L514.62,374.34 L515.03,373.35 L515.44,372.36 L515.85,371.37 L516.25,370.38 L516.64,369.39 L517.03,368.40 L517.41,367.40 L517.78,366.40 L518.15,365.40 L518.52,364.40 L518.88,363.39 L519.24,362.39 L519.60,361.38 L519.96,360.38 L520.31,359.37 L520.65,358.36 L520.99,357.35 L521.32,356.34 L521.65,355.33 L521.98,354.31 L522.32,353.30 L522.65,352.29 L522.99,351.28 L523.33,350.27 L523.68,349.26 L524.03,348.25 L524.38,347.25 L524.74,346.24 L525.09,345.23 L525.45,344.23 L525.81,343.22 L526.17,342.22 L526.54,341.22 L526.92,340.22 L527.29,339.22 L527.68,338.23 L528.06,337.23 L528.44,336.22 L528.82,335.22 L529.20,334.21 L529.59,333.20 L529.99,332.20 L530.40,331.21 L530.83,330.23 L531.28,329.26 L531.75,328.32 L532.25,327.39 L532.77,326.45 L533.33,325.48 L533.92,324.50 L534.54,323.53 L535.19,322.59 L535.88,321.71 L536.61,320.92 L537.38,320.22 L538.19,319.66 L539.10,319.14 L540.14,318.62 L541.25,318.17 L542.39,317.83 L543.50,317.64 L544.56,317.65 L545.61,317.85 L546.67,318.21 L547.72,318.69 L548.76,319.25 L549.78,319.84 L550.77,320.44 L551.74,320.99 L552.67,321.55 L553.58,322.16 L554.47,322.81 L555.35,323.49 L556.21,324.19 L557.07,324.90 L557.92,325.62 L558.78,326.33 L559.64,327.03 L560.51,327.71 L561.37,328.40 L562.23,329.09 L563.09,329.79 L563.94,330.49 L564.80,331.19 L565.66,331.88 L566.53,332.56 L567.40,333.23 L568.29,333.88 L569.20,334.51 L570.11,335.13 L571.04,335.74 L571.98,336.34 L572.92,336.93 L573.88,337.50 L574.84,338.07 L575.81,338.63 L576.78,339.17 L577.75,339.71 L578.73,340.24 L579.72,340.78 L580.71,341.32 L581.70,341.84 L582.70,342.36 L583.71,342.85 L584.73,343.32 L585.76,343.76 L586.79,344.17 L587.84,344.54 L588.90,344.88 L589.97,345.20 L591.06,345.51 L592.15,345.80 L593.26,346.07 L594.36,346.34 L595.47,346.59 L596.58,346.83 L597.68,347.07 L598.79,347.30 L599.90,347.53 L601.01,347.76 L602.12,347.98 L603.23,348.20 L604.35,348.40 L605.47,348.59 L606.59,348.76 L607.71,348.90 L608.83,349.02 L609.96,349.12 L611.08,349.21 L612.21,349.31 L613.34,349.39 L614.48,349.48 L615.61,349.55 L616.75,349.61 L617.88,349.66 L619.01,349.69 L620.15,349.71 L621.28,349.70 L622.43,349.69 L623.58,349.66 L624.73,349.62 L625.87,349.57 L627.00,349.50 L628.12,349.42 L629.21,349.33 L630.47,349.00 L631.79,348.42 L632.67,347.97 L632.83,348.06 L632.88,348.92 L632.91,350.22 L632.92,351.60 L632.92,352.74 L632.85,353.80 L632.70,354.86 L632.50,355.91 L632.27,356.96 L632.01,357.99 L631.74,359.00 L631.42,360.01 L631.02,361.01 L630.56,362.00 L630.05,362.96 L629.51,363.89 L628.95,364.78 L628.32,365.65 L627.63,366.50 L626.89,367.33 L626.11,368.13 L625.30,368.89 L624.49,369.62 L623.66,370.30 L622.79,370.97 L621.89,371.62 L620.97,372.24 L620.01,372.84 L619.04,373.42 L618.06,373.98 L617.07,374.51 L616.07,375.01 L615.07,375.48 L614.06,375.93 L613.03,376.37 L611.98,376.78 L610.93,377.18 L609.86,377.57 L608.79,377.94 L607.72,378.29 L606.64,378.64 L605.56,378.97 L604.49,379.29 L603.41,379.60 L602.32,379.90 L601.23,380.19 L600.14,380.47 L599.04,380.74 L597.94,381.01 L596.84,381.28 L595.74,381.53 L594.64,381.79 L593.53,382.04 L592.43,382.29 L591.33,382.53 L590.22,382.77 L589.12,383.01 L588.01,383.23 L586.90,383.45 L585.78,383.66 L584.67,383.86 L583.55,384.06 L582.43,384.26 L581.32,384.46 L580.20,384.66 L579.09,384.86 L577.97,385.07 L576.86,385.28 L575.75,385.50 L574.65,385.73 L573.55,385.97 L572.45,386.22 L571.36,386.48 L570.27,386.76 L569.18,387.06 L568.10,387.37 L567.02,387.70 L565.94,388.04 L564.87,388.39 L563.80,388.75 L562.73,389.12 L561.67,389.50 L560.62,389.88 L559.56,390.26 L558.50,390.66 L557.45,391.07 L556.41,391.50 L555.38,391.95 L554.37,392.42 L553.38,392.92 L552.40,393.44 L551.42,394.00 L550.46,394.58 L549.52,395.19 L548.61,395.82 L547.73,396.47 L546.88,397.15 L546.06,397.88 L545.27,398.63 L544.49,399.42 L543.73,400.22 L542.99,401.03 L542.26,401.83 L541.54,402.65 L540.84,403.48 L540.15,404.33 L539.49,405.19 L538.84,406.06 L538.21,406.94 L537.58,407.82 L536.98,408.72 L536.39,409.64 L535.85,410.56 L535.35,411.51 L534.88,412.47 L534.44,413.45 L534.03,414.43 L533.62,415.43 L533.22,416.42 L532.83,417.41 L532.46,418.41 L532.09,419.41 L531.72,420.41 L531.37,421.42 L531.02,422.43 L530.67,423.44 L530.32,424.44 L529.97,425.45 L529.62,426.46 L529.27,427.47 L528.93,428.48 L528.58,429.48 L528.24,430.49 L527.90,431.50 L527.56,432.51 L527.23,433.53 L526.89,434.54 L526.55,435.55 L526.22,436.56 L525.88,437.57 L525.55,438.58 L525.22,439.60 L524.89,440.61 L524.56,441.62 L524.23,442.64 L523.90,443.65 L523.57,444.66 L523.24,445.68 L522.91,446.69 L522.57,447.70 L522.22,448.71 L521.87,449.71 L521.52,450.72 L521.17,451.73 L520.81,452.73 L520.45,453.74 L520.09,454.74 L519.72,455.74 L519.35,456.74 L518.97,457.74 L518.60,458.74 L518.23,459.75 L517.86,460.75 L517.50,461.76 L517.12,462.77 L516.74,463.77 L516.34,464.76 L515.92,465.74 L515.47,466.70 L515.00,467.65 L514.49,468.60 L513.94,469.54 L513.35,470.47 L512.73,471.36 L512.08,472.21 L511.38,473.03 L510.61,473.87 L509.79,474.67 L508.92,475.35 L507.99,475.85 L506.98,476.25 L505.87,476.61 L504.73,476.86 L503.61,476.93 L502.49,476.85 L501.35,476.67 L500.23,476.43 L499.14,476.17 L498.10,475.82 L497.08,475.34 L496.08,474.80 L495.11,474.22 L494.17,473.64 L493.25,473.03 L492.37,472.37 L491.49,471.69 L490.63,471.00 L489.75,470.31 L488.87,469.65 L487.96,469.01 L487.04,468.39 L486.12,467.78 L485.19,467.17 L484.25,466.57 L483.32,465.97 L482.38,465.38 L481.44,464.78 L480.51,464.18 L479.58,463.57 L478.65,462.96 L477.73,462.34 L476.81,461.73 L475.88,461.11 L474.96,460.49 L474.03,459.88 L473.10,459.28 L472.17,458.68 L471.22,458.09 L470.28,457.52 L469.32,456.95 L468.36,456.39 L467.39,455.83 L466.42,455.28 L465.45,454.73 L464.46,454.19 L463.48,453.67 L462.48,453.16 L461.48,452.67 L460.47,452.19 L459.46,451.73 L458.43,451.28 L457.40,450.84 L456.37,450.41 L455.32,449.98 L454.27,449.57 L453.22,449.17 L452.17,448.78 L451.11,448.40 L450.04,448.03 L448.98,447.67 L447.91,447.32 L446.84,446.98 L445.76,446.64 L444.68,446.32 L443.59,446.01 L442.50,445.71 L441.41,445.44 L440.31,445.18 L439.21,444.92 L438.11,444.68 L437.01,444.44 L435.90,444.21 L434.79,443.99 L433.68,443.78 L432.57,443.58 L431.45,443.39 L430.33,443.21 L429.20,443.05" stroke="#800080" stroke-width="2.5" fill="none" stroke-linejoin="round"/>
<rect x="403.5" y="293.9" width="255.2" height="213.2" fill="none" stroke="#000" stroke-width="1.5"/>
<line x1="429.20" y1="507.5" x2="429.20" y2="511.4" stroke="#000" stroke-width="1.5"/>
<text x="429.20" y="522.3" font-size="10" text-anchor="middle" font-style="italic">0.0</text>
<line x1="480.10" y1="507.5" x2="480.10" y2="511.4" stroke="#000" stroke-width="1.5"/>
<text x="480.10" y="522.3" font-size="10" text-anchor="middle" font-style="italic">0.2</text>
<line x1="531.00" y1="507.5" x2="531.00" y2="511.4" stroke="#000" stroke-width="1.5"/>
<text x="531.00" y="522.3" font-size="10" text-anchor="middle" font-style="italic">0.4</text>
<line x1="581.90" y1="507.5" x2="581.90" y2="511.4" stroke="#000" stroke-width="1.5"/>
<text x="581.90" y="522.3" font-size="10" text-anchor="middle" font-style="italic">0.6</text>
<line x1="632.80" y1="507.5" x2="632.80" y2="511.4" stroke="#000" stroke-width="1.5"/>
<text x="632.80" y="522.3" font-size="10" text-anchor="middle" font-style="italic">0.8</text>
<line x1="400" y1="312.40" x2="403.5" y2="312.40" stroke="#000" stroke-width="1.5"/>
<text x="391.3" y="316.4" font-size="11" text-anchor="end" font-style="italic">2.1×10</text>
<text x="391" y="311.79999999999995" font-size="6.6" text-anchor="start" font-style="italic">-4</text>
<line x1="400" y1="345.60" x2="403.5" y2="345.60" stroke="#000" stroke-width="1.5"/>
<text x="391.3" y="349.6" font-size="11" text-anchor="end" font-style="italic">1.4×10</text>
<text x="391" y="345.0" font-size="6.6" text-anchor="start" font-style="italic">-4</text>
<line x1="400" y1="378.80" x2="403.5" y2="378.80" stroke="#000" stroke-width="1.5"/>
<text x="391.3" y="382.8" font-size="11" text-anchor="end" font-style="italic">7.0×10</text>
<text x="391" y="378.2" font-size="6.6" text-anchor="start" font-style="italic">-5</text>
<line x1="400" y1="412.00" x2="403.5" y2="412.00" stroke="#000" stroke-width="1.5"/>
<text x="397.5" y="416.0" font-size="11" text-anchor="end" font-style="italic">0.0</text>
<line x1="400" y1="445.20" x2="403.5" y2="445.20" stroke="#000" stroke-width="1.5"/>
<text x="391.3" y="449.2" font-size="11" text-anchor="end" font-style="italic">-7.0×10</text>
<text x="391" y="444.59999999999997" font-size="6.6" text-anchor="start" font-style="italic">-5</text>
<line x1="400" y1="478.40" x2="403.5" y2="478.40" stroke="#000" stroke-width="1.5"/>
<text x="391.3" y="482.4" font-size="11" text-anchor="end" font-style="italic">-1.4×10</text>
<text x="391" y="477.79999999999995" font-size="6.6" text-anchor="start" font-style="italic">-4</text>
<text x="646" y="491.7" font-size="16.2" text-anchor="end" font-style="italic">EZO-ME1</text>
<text x="0" y="0" font-size="17.2" text-anchor="middle" font-style="italic" transform="translate(351.6,394) rotate(-90)">Current, I (A)</text>
<text x="535.5" y="548" font-size="16.8" text-anchor="middle" font-style="italic">Potential, E (V)</text>
<rect x="353" y="514" width="23" height="21" fill="#ffff00"/>
<text x="0" y="0" font-size="17" text-anchor="middle" font-style="italic" transform="translate(364.4,530.6) scale(1.1,1)">(d)</text>
<rect x="221.70" y="692.32" width="101.1" height="86.98" fill="url(#gG)" stroke="#4a4a4a" stroke-width="0.8"/>
<path d="M272.25,687.92 V696.72 M269.45,687.92 H275.05 M269.45,696.72 H275.05" stroke="#000" stroke-width="1.6" fill="none"/>
<line x1="272.25" y1="779.3" x2="272.25" y2="783.3" stroke="#000" stroke-width="1.4"/>
<text x="272.25" y="793.9" font-size="10.6" text-anchor="middle" font-style="italic">BE1</text>
<rect x="348.70" y="590.37" width="101.8" height="188.93" fill="url(#gG)" stroke="#4a4a4a" stroke-width="0.8"/>
<path d="M399.6,581.07 V599.67 M396.8,581.07 H402.40000000000003 M396.8,599.67 H402.40000000000003" stroke="#000" stroke-width="1.6" fill="none"/>
<line x1="399.6" y1="779.3" x2="399.6" y2="783.3" stroke="#000" stroke-width="1.4"/>
<text x="399.6" y="793.9" font-size="10.6" text-anchor="middle" font-style="italic">EZOME1</text>
<rect x="209" y="573.8" width="254.6" height="205.5" fill="none" stroke="#000" stroke-width="1.6"/>
<line x1="205.2" y1="779.30" x2="209" y2="779.30" stroke="#000" stroke-width="1.5"/>
<text x="202.3" y="782.1999999999999" font-size="11.5" text-anchor="end" font-style="italic">0</text>
<line x1="205.2" y1="730.98" x2="209" y2="730.98" stroke="#000" stroke-width="1.5"/>
<text x="202.3" y="733.8799999999999" font-size="11.5" text-anchor="end" font-style="italic">20</text>
<line x1="205.2" y1="682.66" x2="209" y2="682.66" stroke="#000" stroke-width="1.5"/>
<text x="202.3" y="685.56" font-size="11.5" text-anchor="end" font-style="italic">40</text>
<line x1="205.2" y1="634.34" x2="209" y2="634.34" stroke="#000" stroke-width="1.5"/>
<text x="202.3" y="637.2399999999999" font-size="11.5" text-anchor="end" font-style="italic">60</text>
<line x1="205.2" y1="586.02" x2="209" y2="586.02" stroke="#000" stroke-width="1.5"/>
<text x="202.3" y="588.92" font-size="11.5" text-anchor="end" font-style="italic">80</text>
<text x="0" y="0" font-size="16.8" text-anchor="middle" font-style="italic" transform="translate(174.5,676) rotate(-90)">Current, I (A)</text>
<text x="340" y="820.8" font-size="16.6" text-anchor="middle" font-style="italic">Working electrodes</text>
<rect x="172.5" y="803" width="21.5" height="21" fill="#ffff00"/>
<text x="0" y="0" font-size="17" text-anchor="middle" font-style="italic" transform="translate(183.1,819.6) scale(1.1,1)">(e)</text>
</svg></body></html>
